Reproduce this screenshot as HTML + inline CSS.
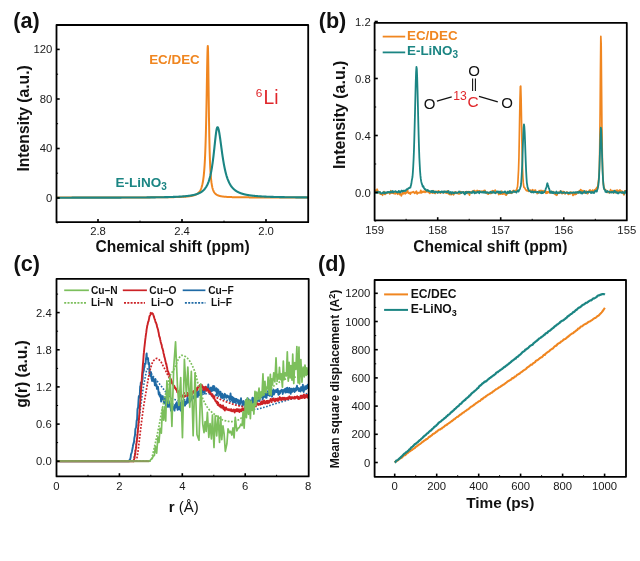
<!DOCTYPE html>
<html><head><meta charset="utf-8"><title>Figure</title>
<style>
html,body{margin:0;padding:0;background:#fff;}
body{width:640px;height:561px;overflow:hidden;}
svg{display:block;font-family:"Liberation Sans", sans-serif;will-change:transform;}
</style></head><body>
<svg width="640" height="561" viewBox="0 0 640 561">
<rect width="640" height="561" fill="#fff"/>
<defs>
<clipPath id="ca"><rect x="56.5" y="25" width="251.7" height="197.2"/></clipPath>
<clipPath id="cb"><rect x="374.6" y="22.8" width="252.19999999999993" height="197.6"/></clipPath>
<clipPath id="cc"><rect x="56.5" y="278.9" width="252.2" height="197.5"/></clipPath>
<clipPath id="cd"><rect x="374.6" y="280.0" width="251.39999999999998" height="196.8"/></clipPath>
</defs>
<g clip-path="url(#ca)">
<path d="M56.00 197.49L56.17 197.49L56.34 197.49L56.50 197.49L56.67 197.49L56.84 197.49L57.01 197.49L57.18 197.49L57.34 197.49L57.51 197.49L57.68 197.49L57.85 197.49L58.02 197.49L58.19 197.49L58.35 197.49L58.52 197.49L58.69 197.49L58.86 197.49L59.03 197.49L59.19 197.49L59.36 197.49L59.53 197.49L59.70 197.49L59.87 197.49L60.03 197.49L60.20 197.49L60.37 197.49L60.54 197.49L60.71 197.49L60.88 197.48L61.04 197.48L61.21 197.48L61.38 197.48L61.55 197.48L61.72 197.48L61.88 197.48L62.05 197.48L62.22 197.48L62.39 197.48L62.56 197.48L62.72 197.48L62.89 197.48L63.06 197.48L63.23 197.48L63.40 197.48L63.57 197.48L63.73 197.48L63.90 197.48L64.07 197.48L64.24 197.48L64.41 197.48L64.57 197.48L64.74 197.48L64.91 197.48L65.08 197.48L65.25 197.48L65.41 197.48L65.58 197.48L65.75 197.48L65.92 197.48L66.09 197.48L66.25 197.48L66.42 197.48L66.59 197.48L66.76 197.48L66.93 197.48L67.10 197.48L67.26 197.48L67.43 197.48L67.60 197.48L67.77 197.48L67.94 197.48L68.10 197.48L68.27 197.48L68.44 197.48L68.61 197.48L68.78 197.48L68.94 197.48L69.11 197.48L69.28 197.48L69.45 197.48L69.62 197.48L69.79 197.48L69.95 197.48L70.12 197.48L70.29 197.48L70.46 197.48L70.63 197.48L70.79 197.48L70.96 197.48L71.13 197.48L71.30 197.48L71.47 197.48L71.63 197.48L71.80 197.48L71.97 197.48L72.14 197.48L72.31 197.48L72.47 197.48L72.64 197.48L72.81 197.48L72.98 197.48L73.15 197.48L73.32 197.48L73.48 197.48L73.65 197.48L73.82 197.48L73.99 197.48L74.16 197.48L74.32 197.48L74.49 197.48L74.66 197.48L74.83 197.48L75.00 197.48L75.16 197.48L75.33 197.48L75.50 197.48L75.67 197.48L75.84 197.48L76.01 197.48L76.17 197.48L76.34 197.48L76.51 197.48L76.68 197.48L76.85 197.48L77.01 197.48L77.18 197.48L77.35 197.48L77.52 197.48L77.69 197.48L77.85 197.48L78.02 197.48L78.19 197.48L78.36 197.48L78.53 197.48L78.70 197.48L78.86 197.48L79.03 197.48L79.20 197.48L79.37 197.48L79.54 197.48L79.70 197.48L79.87 197.48L80.04 197.48L80.21 197.48L80.38 197.48L80.54 197.48L80.71 197.48L80.88 197.48L81.05 197.48L81.22 197.48L81.38 197.48L81.55 197.48L81.72 197.48L81.89 197.48L82.06 197.48L82.23 197.48L82.39 197.48L82.56 197.48L82.73 197.48L82.90 197.48L83.07 197.48L83.23 197.48L83.40 197.48L83.57 197.48L83.74 197.48L83.91 197.48L84.07 197.48L84.24 197.48L84.41 197.48L84.58 197.48L84.75 197.48L84.92 197.48L85.08 197.48L85.25 197.48L85.42 197.48L85.59 197.48L85.76 197.48L85.92 197.48L86.09 197.48L86.26 197.48L86.43 197.48L86.60 197.48L86.76 197.48L86.93 197.48L87.10 197.48L87.27 197.48L87.44 197.48L87.61 197.48L87.77 197.48L87.94 197.48L88.11 197.47L88.28 197.47L88.45 197.47L88.61 197.47L88.78 197.47L88.95 197.47L89.12 197.47L89.29 197.47L89.45 197.47L89.62 197.47L89.79 197.47L89.96 197.47L90.13 197.47L90.29 197.47L90.46 197.47L90.63 197.47L90.80 197.47L90.97 197.47L91.14 197.47L91.30 197.47L91.47 197.47L91.64 197.47L91.81 197.47L91.98 197.47L92.14 197.47L92.31 197.47L92.48 197.47L92.65 197.47L92.82 197.47L92.98 197.47L93.15 197.47L93.32 197.47L93.49 197.47L93.66 197.47L93.83 197.47L93.99 197.47L94.16 197.47L94.33 197.47L94.50 197.47L94.67 197.47L94.83 197.47L95.00 197.47L95.17 197.47L95.34 197.47L95.51 197.47L95.67 197.47L95.84 197.47L96.01 197.47L96.18 197.47L96.35 197.47L96.52 197.47L96.68 197.47L96.85 197.47L97.02 197.47L97.19 197.47L97.36 197.47L97.52 197.47L97.69 197.47L97.86 197.47L98.03 197.47L98.20 197.47L98.36 197.47L98.53 197.47L98.70 197.47L98.87 197.47L99.04 197.47L99.20 197.47L99.37 197.47L99.54 197.47L99.71 197.47L99.88 197.47L100.05 197.47L100.21 197.47L100.38 197.47L100.55 197.47L100.72 197.47L100.89 197.47L101.05 197.47L101.22 197.47L101.39 197.47L101.56 197.47L101.73 197.47L101.89 197.47L102.06 197.47L102.23 197.47L102.40 197.47L102.57 197.47L102.74 197.47L102.90 197.47L103.07 197.47L103.24 197.47L103.41 197.47L103.58 197.47L103.74 197.47L103.91 197.47L104.08 197.47L104.25 197.46L104.42 197.46L104.58 197.46L104.75 197.46L104.92 197.46L105.09 197.46L105.26 197.46L105.42 197.46L105.59 197.46L105.76 197.46L105.93 197.46L106.10 197.46L106.27 197.46L106.43 197.46L106.60 197.46L106.77 197.46L106.94 197.46L107.11 197.46L107.27 197.46L107.44 197.46L107.61 197.46L107.78 197.46L107.95 197.46L108.11 197.46L108.28 197.46L108.45 197.46L108.62 197.46L108.79 197.46L108.96 197.46L109.12 197.46L109.29 197.46L109.46 197.46L109.63 197.46L109.80 197.46L109.96 197.46L110.13 197.46L110.30 197.46L110.47 197.46L110.64 197.46L110.80 197.46L110.97 197.46L111.14 197.46L111.31 197.46L111.48 197.46L111.65 197.46L111.81 197.46L111.98 197.46L112.15 197.46L112.32 197.46L112.49 197.46L112.65 197.46L112.82 197.46L112.99 197.46L113.16 197.46L113.33 197.46L113.49 197.46L113.66 197.46L113.83 197.46L114.00 197.46L114.17 197.46L114.33 197.46L114.50 197.46L114.67 197.46L114.84 197.46L115.01 197.46L115.18 197.45L115.34 197.45L115.51 197.45L115.68 197.45L115.85 197.45L116.02 197.45L116.18 197.45L116.35 197.45L116.52 197.45L116.69 197.45L116.86 197.45L117.02 197.45L117.19 197.45L117.36 197.45L117.53 197.45L117.70 197.45L117.87 197.45L118.03 197.45L118.20 197.45L118.37 197.45L118.54 197.45L118.71 197.45L118.87 197.45L119.04 197.45L119.21 197.45L119.38 197.45L119.55 197.45L119.71 197.45L119.88 197.45L120.05 197.45L120.22 197.45L120.39 197.45L120.56 197.45L120.72 197.45L120.89 197.45L121.06 197.45L121.23 197.45L121.40 197.45L121.56 197.45L121.73 197.45L121.90 197.45L122.07 197.45L122.24 197.45L122.40 197.45L122.57 197.45L122.74 197.45L122.91 197.45L123.08 197.45L123.24 197.44L123.41 197.44L123.58 197.44L123.75 197.44L123.92 197.44L124.09 197.44L124.25 197.44L124.42 197.44L124.59 197.44L124.76 197.44L124.93 197.44L125.09 197.44L125.26 197.44L125.43 197.44L125.60 197.44L125.77 197.44L125.93 197.44L126.10 197.44L126.27 197.44L126.44 197.44L126.61 197.44L126.78 197.44L126.94 197.44L127.11 197.44L127.28 197.44L127.45 197.44L127.62 197.44L127.78 197.44L127.95 197.44L128.12 197.44L128.29 197.44L128.46 197.44L128.62 197.44L128.79 197.44L128.96 197.44L129.13 197.44L129.30 197.44L129.46 197.44L129.63 197.43L129.80 197.43L129.97 197.43L130.14 197.43L130.31 197.43L130.47 197.43L130.64 197.43L130.81 197.43L130.98 197.43L131.15 197.43L131.31 197.43L131.48 197.43L131.65 197.43L131.82 197.43L131.99 197.43L132.15 197.43L132.32 197.43L132.49 197.43L132.66 197.43L132.83 197.43L133.00 197.43L133.16 197.43L133.33 197.43L133.50 197.43L133.67 197.43L133.84 197.43L134.00 197.43L134.17 197.43L134.34 197.43L134.51 197.43L134.68 197.42L134.84 197.42L135.01 197.42L135.18 197.42L135.35 197.42L135.52 197.42L135.69 197.42L135.85 197.42L136.02 197.42L136.19 197.42L136.36 197.42L136.53 197.42L136.69 197.42L136.86 197.42L137.03 197.42L137.20 197.42L137.37 197.42L137.53 197.42L137.70 197.42L137.87 197.42L138.04 197.42L138.21 197.42L138.37 197.42L138.54 197.42L138.71 197.42L138.88 197.41L139.05 197.41L139.22 197.41L139.38 197.41L139.55 197.41L139.72 197.41L139.89 197.41L140.06 197.41L140.22 197.41L140.39 197.41L140.56 197.41L140.73 197.41L140.90 197.41L141.06 197.41L141.23 197.41L141.40 197.41L141.57 197.41L141.74 197.41L141.91 197.41L142.07 197.41L142.24 197.41L142.41 197.40L142.58 197.40L142.75 197.40L142.91 197.40L143.08 197.40L143.25 197.40L143.42 197.40L143.59 197.40L143.75 197.40L143.92 197.40L144.09 197.40L144.26 197.40L144.43 197.40L144.60 197.40L144.76 197.40L144.93 197.40L145.10 197.40L145.27 197.40L145.44 197.39L145.60 197.39L145.77 197.39L145.94 197.39L146.11 197.39L146.28 197.39L146.44 197.39L146.61 197.39L146.78 197.39L146.95 197.39L147.12 197.39L147.28 197.39L147.45 197.39L147.62 197.39L147.79 197.39L147.96 197.39L148.13 197.38L148.29 197.38L148.46 197.38L148.63 197.38L148.80 197.38L148.97 197.38L149.13 197.38L149.30 197.38L149.47 197.38L149.64 197.38L149.81 197.38L149.97 197.38L150.14 197.38L150.31 197.38L150.48 197.37L150.65 197.37L150.82 197.37L150.98 197.37L151.15 197.37L151.32 197.37L151.49 197.37L151.66 197.37L151.82 197.37L151.99 197.37L152.16 197.37L152.33 197.37L152.50 197.37L152.66 197.36L152.83 197.36L153.00 197.36L153.17 197.36L153.34 197.36L153.51 197.36L153.67 197.36L153.84 197.36L154.01 197.36L154.18 197.36L154.35 197.36L154.51 197.35L154.68 197.35L154.85 197.35L155.02 197.35L155.19 197.35L155.35 197.35L155.52 197.35L155.69 197.35L155.86 197.35L156.03 197.35L156.19 197.34L156.36 197.34L156.53 197.34L156.70 197.34L156.87 197.34L157.04 197.34L157.20 197.34L157.37 197.34L157.54 197.34L157.71 197.33L157.88 197.33L158.04 197.33L158.21 197.33L158.38 197.33L158.55 197.33L158.72 197.33L158.88 197.33L159.05 197.33L159.22 197.32L159.39 197.32L159.56 197.32L159.73 197.32L159.89 197.32L160.06 197.32L160.23 197.32L160.40 197.31L160.57 197.31L160.73 197.31L160.90 197.31L161.07 197.31L161.24 197.31L161.41 197.31L161.57 197.31L161.74 197.30L161.91 197.30L162.08 197.30L162.25 197.30L162.41 197.30L162.58 197.30L162.75 197.29L162.92 197.29L163.09 197.29L163.26 197.29L163.42 197.29L163.59 197.29L163.76 197.28L163.93 197.28L164.10 197.28L164.26 197.28L164.43 197.28L164.60 197.28L164.77 197.27L164.94 197.27L165.10 197.27L165.27 197.27L165.44 197.27L165.61 197.27L165.78 197.26L165.95 197.26L166.11 197.26L166.28 197.26L166.45 197.26L166.62 197.25L166.79 197.25L166.95 197.25L167.12 197.25L167.29 197.24L167.46 197.24L167.63 197.24L167.79 197.24L167.96 197.24L168.13 197.23L168.30 197.23L168.47 197.23L168.64 197.23L168.80 197.22L168.97 197.22L169.14 197.22L169.31 197.22L169.48 197.21L169.64 197.21L169.81 197.21L169.98 197.21L170.15 197.20L170.32 197.20L170.48 197.20L170.65 197.20L170.82 197.19L170.99 197.19L171.16 197.19L171.32 197.18L171.49 197.18L171.66 197.18L171.83 197.18L172.00 197.17L172.17 197.17L172.33 197.17L172.50 197.16L172.67 197.16L172.84 197.16L173.01 197.15L173.17 197.15L173.34 197.15L173.51 197.14L173.68 197.14L173.85 197.14L174.01 197.13L174.18 197.13L174.35 197.12L174.52 197.12L174.69 197.12L174.86 197.11L175.02 197.11L175.19 197.10L175.36 197.10L175.53 197.10L175.70 197.09L175.86 197.09L176.03 197.08L176.20 197.08L176.37 197.07L176.54 197.07L176.70 197.06L176.87 197.06L177.04 197.05L177.21 197.05L177.38 197.04L177.55 197.04L177.71 197.03L177.88 197.03L178.05 197.02L178.22 197.02L178.39 197.01L178.55 197.01L178.72 197.00L178.89 197.00L179.06 196.99L179.23 196.98L179.39 196.98L179.56 196.97L179.73 196.96L179.90 196.96L180.07 196.95L180.23 196.94L180.40 196.94L180.57 196.93L180.74 196.92L180.91 196.92L181.08 196.91L181.24 196.90L181.41 196.89L181.58 196.89L181.75 196.88L181.92 196.87L182.08 196.86L182.25 196.85L182.42 196.84L182.59 196.84L182.76 196.83L182.92 196.82L183.09 196.81L183.26 196.80L183.43 196.79L183.60 196.78L183.77 196.77L183.93 196.76L184.10 196.75L184.27 196.74L184.44 196.73L184.61 196.72L184.77 196.70L184.94 196.69L185.11 196.68L185.28 196.67L185.45 196.66L185.61 196.64L185.78 196.63L185.95 196.62L186.12 196.60L186.29 196.59L186.45 196.57L186.62 196.56L186.79 196.54L186.96 196.53L187.13 196.51L187.30 196.50L187.46 196.48L187.63 196.46L187.80 196.45L187.97 196.43L188.14 196.41L188.30 196.39L188.47 196.37L188.64 196.35L188.81 196.33L188.98 196.31L189.14 196.29L189.31 196.27L189.48 196.24L189.65 196.22L189.82 196.20L189.99 196.17L190.15 196.15L190.32 196.12L190.49 196.09L190.66 196.07L190.83 196.04L190.99 196.01L191.16 195.98L191.33 195.95L191.50 195.92L191.67 195.88L191.83 195.85L192.00 195.82L192.17 195.78L192.34 195.74L192.51 195.70L192.68 195.66L192.84 195.62L193.01 195.58L193.18 195.54L193.35 195.49L193.52 195.44L193.68 195.40L193.85 195.35L194.02 195.29L194.19 195.24L194.36 195.18L194.52 195.13L194.69 195.06L194.86 195.00L195.03 194.94L195.20 194.87L195.36 194.80L195.53 194.73L195.70 194.65L195.87 194.57L196.04 194.49L196.21 194.40L196.37 194.31L196.54 194.22L196.71 194.12L196.88 194.02L197.05 193.91L197.21 193.80L197.38 193.68L197.55 193.56L197.72 193.43L197.89 193.30L198.05 193.15L198.22 193.00L198.39 192.85L198.56 192.68L198.73 192.51L198.90 192.33L199.06 192.13L199.23 191.93L199.40 191.71L199.57 191.48L199.74 191.24L199.90 190.98L200.07 190.71L200.24 190.42L200.41 190.11L200.58 189.78L200.74 189.43L200.91 189.06L201.08 188.66L201.25 188.23L201.42 187.77L201.59 187.27L201.75 186.74L201.92 186.16L202.09 185.54L202.26 184.87L202.43 184.14L202.59 183.35L202.76 182.49L202.93 181.55L203.10 180.53L203.27 179.41L203.43 178.18L203.60 176.82L203.77 175.33L203.94 173.68L204.11 171.85L204.27 169.82L204.44 167.56L204.61 165.04L204.78 162.22L204.95 159.06L205.12 155.51L205.28 151.51L205.45 147.02L205.62 141.97L205.79 136.29L205.96 129.93L206.12 122.84L206.29 114.99L206.46 106.40L206.63 97.17L206.80 87.48L206.96 77.65L207.13 68.13L207.30 59.54L207.47 52.54L207.64 47.82L207.81 45.88L207.97 47.96L208.14 55.31L208.31 66.51L208.48 79.73L208.65 93.38L208.81 106.36L208.98 118.11L209.15 128.42L209.32 137.30L209.49 144.88L209.65 151.31L209.82 156.77L209.99 161.41L210.16 165.37L210.33 168.76L210.49 171.67L210.66 174.19L210.83 176.38L211.00 178.28L211.17 179.95L211.34 181.42L211.50 182.72L211.67 183.87L211.84 184.90L212.01 185.81L212.18 186.64L212.34 187.38L212.51 188.05L212.68 188.65L212.85 189.21L213.02 189.71L213.18 190.17L213.35 190.59L213.52 190.97L213.69 191.33L213.86 191.65L214.03 191.95L214.19 192.23L214.36 192.49L214.53 192.73L214.70 192.96L214.87 193.17L215.03 193.36L215.20 193.54L215.37 193.71L215.54 193.87L215.71 194.02L215.87 194.16L216.04 194.30L216.21 194.42L216.38 194.54L216.55 194.65L216.72 194.75L216.88 194.85L217.05 194.95L217.22 195.04L217.39 195.12L217.56 195.20L217.72 195.28L217.89 195.35L218.06 195.42L218.23 195.49L218.40 195.55L218.56 195.61L218.73 195.67L218.90 195.72L219.07 195.77L219.24 195.82L219.40 195.87L219.57 195.92L219.74 195.96L219.91 196.00L220.08 196.04L220.25 196.08L220.41 196.12L220.58 196.16L220.75 196.19L220.92 196.22L221.09 196.26L221.25 196.29L221.42 196.32L221.59 196.35L221.76 196.37L221.93 196.40L222.09 196.43L222.26 196.45L222.43 196.47L222.60 196.50L222.77 196.52L222.94 196.54L223.10 196.56L223.27 196.58L223.44 196.60L223.61 196.62L223.78 196.64L223.94 196.66L224.11 196.68L224.28 196.69L224.45 196.71L224.62 196.72L224.78 196.74L224.95 196.75L225.12 196.77L225.29 196.78L225.46 196.80L225.63 196.81L225.79 196.82L225.96 196.84L226.13 196.85L226.30 196.86L226.47 196.87L226.63 196.88L226.80 196.89L226.97 196.90L227.14 196.91L227.31 196.92L227.47 196.93L227.64 196.94L227.81 196.95L227.98 196.96L228.15 196.97L228.31 196.98L228.48 196.99L228.65 197.00L228.82 197.00L228.99 197.01L229.16 197.02L229.32 197.03L229.49 197.04L229.66 197.04L229.83 197.05L230.00 197.06L230.16 197.06L230.33 197.07L230.50 197.08L230.67 197.08L230.84 197.09L231.00 197.09L231.17 197.10L231.34 197.11L231.51 197.11L231.68 197.12L231.85 197.12L232.01 197.13L232.18 197.13L232.35 197.14L232.52 197.14L232.69 197.15L232.85 197.15L233.02 197.16L233.19 197.16L233.36 197.17L233.53 197.17L233.69 197.17L233.86 197.18L234.03 197.18L234.20 197.19L234.37 197.19L234.54 197.20L234.70 197.20L234.87 197.20L235.04 197.21L235.21 197.21L235.38 197.21L235.54 197.22L235.71 197.22L235.88 197.22L236.05 197.23L236.22 197.23L236.38 197.23L236.55 197.24L236.72 197.24L236.89 197.24L237.06 197.25L237.22 197.25L237.39 197.25L237.56 197.26L237.73 197.26L237.90 197.26L238.07 197.26L238.23 197.27L238.40 197.27L238.57 197.27L238.74 197.27L238.91 197.28L239.07 197.28L239.24 197.28L239.41 197.28L239.58 197.29L239.75 197.29L239.91 197.29L240.08 197.29L240.25 197.29L240.42 197.30L240.59 197.30L240.76 197.30L240.92 197.30L241.09 197.31L241.26 197.31L241.43 197.31L241.60 197.31L241.76 197.31L241.93 197.31L242.10 197.32L242.27 197.32L242.44 197.32L242.60 197.32L242.77 197.32L242.94 197.33L243.11 197.33L243.28 197.33L243.44 197.33L243.61 197.33L243.78 197.33L243.95 197.34L244.12 197.34L244.29 197.34L244.45 197.34L244.62 197.34L244.79 197.34L244.96 197.34L245.13 197.35L245.29 197.35L245.46 197.35L245.63 197.35L245.80 197.35L245.97 197.35L246.13 197.35L246.30 197.36L246.47 197.36L246.64 197.36L246.81 197.36L246.98 197.36L247.14 197.36L247.31 197.36L247.48 197.36L247.65 197.37L247.82 197.37L247.98 197.37L248.15 197.37L248.32 197.37L248.49 197.37L248.66 197.37L248.82 197.37L248.99 197.37L249.16 197.38L249.33 197.38L249.50 197.38L249.67 197.38L249.83 197.38L250.00 197.38L250.17 197.38L250.34 197.38L250.51 197.38L250.67 197.38L250.84 197.39L251.01 197.39L251.18 197.39L251.35 197.39L251.51 197.39L251.68 197.39L251.85 197.39L252.02 197.39L252.19 197.39L252.35 197.39L252.52 197.39L252.69 197.40L252.86 197.40L253.03 197.40L253.20 197.40L253.36 197.40L253.53 197.40L253.70 197.40L253.87 197.40L254.04 197.40L254.20 197.40L254.37 197.40L254.54 197.40L254.71 197.40L254.88 197.40L255.04 197.41L255.21 197.41L255.38 197.41L255.55 197.41L255.72 197.41L255.89 197.41L256.05 197.41L256.22 197.41L256.39 197.41L256.56 197.41L256.73 197.41L256.89 197.41L257.06 197.41L257.23 197.41L257.40 197.41L257.57 197.42L257.73 197.42L257.90 197.42L258.07 197.42L258.24 197.42L258.41 197.42L258.58 197.42L258.74 197.42L258.91 197.42L259.08 197.42L259.25 197.42L259.42 197.42L259.58 197.42L259.75 197.42L259.92 197.42L260.09 197.42L260.26 197.42L260.42 197.42L260.59 197.43L260.76 197.43L260.93 197.43L261.10 197.43L261.26 197.43L261.43 197.43L261.60 197.43L261.77 197.43L261.94 197.43L262.11 197.43L262.27 197.43L262.44 197.43L262.61 197.43L262.78 197.43L262.95 197.43L263.11 197.43L263.28 197.43L263.45 197.43L263.62 197.43L263.79 197.43L263.95 197.43L264.12 197.44L264.29 197.44L264.46 197.44L264.63 197.44L264.80 197.44L264.96 197.44L265.13 197.44L265.30 197.44L265.47 197.44L265.64 197.44L265.80 197.44L265.97 197.44L266.14 197.44L266.31 197.44L266.48 197.44L266.64 197.44L266.81 197.44L266.98 197.44L267.15 197.44L267.32 197.44L267.48 197.44L267.65 197.44L267.82 197.44L267.99 197.44L268.16 197.44L268.33 197.44L268.49 197.44L268.66 197.45L268.83 197.45L269.00 197.45L269.17 197.45L269.33 197.45L269.50 197.45L269.67 197.45L269.84 197.45L270.01 197.45L270.17 197.45L270.34 197.45L270.51 197.45L270.68 197.45L270.85 197.45L271.02 197.45L271.18 197.45L271.35 197.45L271.52 197.45L271.69 197.45L271.86 197.45L272.02 197.45L272.19 197.45L272.36 197.45L272.53 197.45L272.70 197.45L272.86 197.45L273.03 197.45L273.20 197.45L273.37 197.45L273.54 197.45L273.71 197.45L273.87 197.45L274.04 197.45L274.21 197.45L274.38 197.45L274.55 197.46L274.71 197.46L274.88 197.46L275.05 197.46L275.22 197.46L275.39 197.46L275.55 197.46L275.72 197.46L275.89 197.46L276.06 197.46L276.23 197.46L276.39 197.46L276.56 197.46L276.73 197.46L276.90 197.46L277.07 197.46L277.24 197.46L277.40 197.46L277.57 197.46L277.74 197.46L277.91 197.46L278.08 197.46L278.24 197.46L278.41 197.46L278.58 197.46L278.75 197.46L278.92 197.46L279.08 197.46L279.25 197.46L279.42 197.46L279.59 197.46L279.76 197.46L279.93 197.46L280.09 197.46L280.26 197.46L280.43 197.46L280.60 197.46L280.77 197.46L280.93 197.46L281.10 197.46L281.27 197.46L281.44 197.46L281.61 197.46L281.77 197.46L281.94 197.46L282.11 197.46L282.28 197.46L282.45 197.47L282.62 197.47L282.78 197.47L282.95 197.47L283.12 197.47L283.29 197.47L283.46 197.47L283.62 197.47L283.79 197.47L283.96 197.47L284.13 197.47L284.30 197.47L284.46 197.47L284.63 197.47L284.80 197.47L284.97 197.47L285.14 197.47L285.30 197.47L285.47 197.47L285.64 197.47L285.81 197.47L285.98 197.47L286.15 197.47L286.31 197.47L286.48 197.47L286.65 197.47L286.82 197.47L286.99 197.47L287.15 197.47L287.32 197.47L287.49 197.47L287.66 197.47L287.83 197.47L287.99 197.47L288.16 197.47L288.33 197.47L288.50 197.47L288.67 197.47L288.84 197.47L289.00 197.47L289.17 197.47L289.34 197.47L289.51 197.47L289.68 197.47L289.84 197.47L290.01 197.47L290.18 197.47L290.35 197.47L290.52 197.47L290.68 197.47L290.85 197.47L291.02 197.47L291.19 197.47L291.36 197.47L291.53 197.47L291.69 197.47L291.86 197.47L292.03 197.47L292.20 197.47L292.37 197.47L292.53 197.47L292.70 197.47L292.87 197.47L293.04 197.47L293.21 197.47L293.37 197.47L293.54 197.47L293.71 197.47L293.88 197.47L294.05 197.48L294.21 197.48L294.38 197.48L294.55 197.48L294.72 197.48L294.89 197.48L295.06 197.48L295.22 197.48L295.39 197.48L295.56 197.48L295.73 197.48L295.90 197.48L296.06 197.48L296.23 197.48L296.40 197.48L296.57 197.48L296.74 197.48L296.90 197.48L297.07 197.48L297.24 197.48L297.41 197.48L297.58 197.48L297.75 197.48L297.91 197.48L298.08 197.48L298.25 197.48L298.42 197.48L298.59 197.48L298.75 197.48L298.92 197.48L299.09 197.48L299.26 197.48L299.43 197.48L299.59 197.48L299.76 197.48L299.93 197.48L300.10 197.48L300.27 197.48L300.43 197.48L300.60 197.48L300.77 197.48L300.94 197.48L301.11 197.48L301.28 197.48L301.44 197.48L301.61 197.48L301.78 197.48L301.95 197.48L302.12 197.48L302.28 197.48L302.45 197.48L302.62 197.48L302.79 197.48L302.96 197.48L303.12 197.48L303.29 197.48L303.46 197.48L303.63 197.48L303.80 197.48L303.97 197.48L304.13 197.48L304.30 197.48L304.47 197.48L304.64 197.48L304.81 197.48L304.97 197.48L305.14 197.48L305.31 197.48L305.48 197.48L305.65 197.48L305.81 197.48L305.98 197.48L306.15 197.48L306.32 197.48L306.49 197.48L306.66 197.48L306.82 197.48L306.99 197.48L307.16 197.48L307.33 197.48L307.50 197.48L307.66 197.48L307.83 197.48L308.00 197.48" fill="none" stroke="#f08620" stroke-width="2" stroke-linejoin="round"/>
<path d="M56.00 197.69L56.17 197.69L56.34 197.69L56.50 197.69L56.67 197.69L56.84 197.69L57.01 197.69L57.18 197.69L57.34 197.69L57.51 197.69L57.68 197.69L57.85 197.69L58.02 197.69L58.19 197.69L58.35 197.69L58.52 197.69L58.69 197.69L58.86 197.69L59.03 197.69L59.19 197.69L59.36 197.69L59.53 197.69L59.70 197.69L59.87 197.69L60.03 197.69L60.20 197.69L60.37 197.69L60.54 197.69L60.71 197.69L60.88 197.69L61.04 197.69L61.21 197.69L61.38 197.68L61.55 197.68L61.72 197.68L61.88 197.68L62.05 197.68L62.22 197.68L62.39 197.68L62.56 197.68L62.72 197.68L62.89 197.68L63.06 197.68L63.23 197.68L63.40 197.68L63.57 197.68L63.73 197.68L63.90 197.68L64.07 197.68L64.24 197.68L64.41 197.68L64.57 197.68L64.74 197.68L64.91 197.68L65.08 197.68L65.25 197.68L65.41 197.68L65.58 197.68L65.75 197.68L65.92 197.68L66.09 197.68L66.25 197.68L66.42 197.68L66.59 197.68L66.76 197.68L66.93 197.68L67.10 197.68L67.26 197.68L67.43 197.68L67.60 197.68L67.77 197.68L67.94 197.68L68.10 197.68L68.27 197.68L68.44 197.68L68.61 197.68L68.78 197.68L68.94 197.68L69.11 197.68L69.28 197.68L69.45 197.68L69.62 197.68L69.79 197.68L69.95 197.68L70.12 197.68L70.29 197.68L70.46 197.68L70.63 197.68L70.79 197.68L70.96 197.68L71.13 197.68L71.30 197.68L71.47 197.68L71.63 197.68L71.80 197.67L71.97 197.67L72.14 197.67L72.31 197.67L72.47 197.67L72.64 197.67L72.81 197.67L72.98 197.67L73.15 197.67L73.32 197.67L73.48 197.67L73.65 197.67L73.82 197.67L73.99 197.67L74.16 197.67L74.32 197.67L74.49 197.67L74.66 197.67L74.83 197.67L75.00 197.67L75.16 197.67L75.33 197.67L75.50 197.67L75.67 197.67L75.84 197.67L76.01 197.67L76.17 197.67L76.34 197.67L76.51 197.67L76.68 197.67L76.85 197.67L77.01 197.67L77.18 197.67L77.35 197.67L77.52 197.67L77.69 197.67L77.85 197.67L78.02 197.67L78.19 197.67L78.36 197.67L78.53 197.67L78.70 197.67L78.86 197.67L79.03 197.67L79.20 197.67L79.37 197.67L79.54 197.67L79.70 197.67L79.87 197.67L80.04 197.67L80.21 197.67L80.38 197.66L80.54 197.66L80.71 197.66L80.88 197.66L81.05 197.66L81.22 197.66L81.38 197.66L81.55 197.66L81.72 197.66L81.89 197.66L82.06 197.66L82.23 197.66L82.39 197.66L82.56 197.66L82.73 197.66L82.90 197.66L83.07 197.66L83.23 197.66L83.40 197.66L83.57 197.66L83.74 197.66L83.91 197.66L84.07 197.66L84.24 197.66L84.41 197.66L84.58 197.66L84.75 197.66L84.92 197.66L85.08 197.66L85.25 197.66L85.42 197.66L85.59 197.66L85.76 197.66L85.92 197.66L86.09 197.66L86.26 197.66L86.43 197.66L86.60 197.66L86.76 197.66L86.93 197.66L87.10 197.66L87.27 197.66L87.44 197.66L87.61 197.65L87.77 197.65L87.94 197.65L88.11 197.65L88.28 197.65L88.45 197.65L88.61 197.65L88.78 197.65L88.95 197.65L89.12 197.65L89.29 197.65L89.45 197.65L89.62 197.65L89.79 197.65L89.96 197.65L90.13 197.65L90.29 197.65L90.46 197.65L90.63 197.65L90.80 197.65L90.97 197.65L91.14 197.65L91.30 197.65L91.47 197.65L91.64 197.65L91.81 197.65L91.98 197.65L92.14 197.65L92.31 197.65L92.48 197.65L92.65 197.65L92.82 197.65L92.98 197.65L93.15 197.65L93.32 197.65L93.49 197.65L93.66 197.65L93.83 197.64L93.99 197.64L94.16 197.64L94.33 197.64L94.50 197.64L94.67 197.64L94.83 197.64L95.00 197.64L95.17 197.64L95.34 197.64L95.51 197.64L95.67 197.64L95.84 197.64L96.01 197.64L96.18 197.64L96.35 197.64L96.52 197.64L96.68 197.64L96.85 197.64L97.02 197.64L97.19 197.64L97.36 197.64L97.52 197.64L97.69 197.64L97.86 197.64L98.03 197.64L98.20 197.64L98.36 197.64L98.53 197.64L98.70 197.64L98.87 197.64L99.04 197.64L99.20 197.63L99.37 197.63L99.54 197.63L99.71 197.63L99.88 197.63L100.05 197.63L100.21 197.63L100.38 197.63L100.55 197.63L100.72 197.63L100.89 197.63L101.05 197.63L101.22 197.63L101.39 197.63L101.56 197.63L101.73 197.63L101.89 197.63L102.06 197.63L102.23 197.63L102.40 197.63L102.57 197.63L102.74 197.63L102.90 197.63L103.07 197.63L103.24 197.63L103.41 197.63L103.58 197.63L103.74 197.63L103.91 197.63L104.08 197.62L104.25 197.62L104.42 197.62L104.58 197.62L104.75 197.62L104.92 197.62L105.09 197.62L105.26 197.62L105.42 197.62L105.59 197.62L105.76 197.62L105.93 197.62L106.10 197.62L106.27 197.62L106.43 197.62L106.60 197.62L106.77 197.62L106.94 197.62L107.11 197.62L107.27 197.62L107.44 197.62L107.61 197.62L107.78 197.62L107.95 197.62L108.11 197.62L108.28 197.61L108.45 197.61L108.62 197.61L108.79 197.61L108.96 197.61L109.12 197.61L109.29 197.61L109.46 197.61L109.63 197.61L109.80 197.61L109.96 197.61L110.13 197.61L110.30 197.61L110.47 197.61L110.64 197.61L110.80 197.61L110.97 197.61L111.14 197.61L111.31 197.61L111.48 197.61L111.65 197.61L111.81 197.61L111.98 197.60L112.15 197.60L112.32 197.60L112.49 197.60L112.65 197.60L112.82 197.60L112.99 197.60L113.16 197.60L113.33 197.60L113.49 197.60L113.66 197.60L113.83 197.60L114.00 197.60L114.17 197.60L114.33 197.60L114.50 197.60L114.67 197.60L114.84 197.60L115.01 197.60L115.18 197.60L115.34 197.59L115.51 197.59L115.68 197.59L115.85 197.59L116.02 197.59L116.18 197.59L116.35 197.59L116.52 197.59L116.69 197.59L116.86 197.59L117.02 197.59L117.19 197.59L117.36 197.59L117.53 197.59L117.70 197.59L117.87 197.59L118.03 197.59L118.20 197.59L118.37 197.59L118.54 197.58L118.71 197.58L118.87 197.58L119.04 197.58L119.21 197.58L119.38 197.58L119.55 197.58L119.71 197.58L119.88 197.58L120.05 197.58L120.22 197.58L120.39 197.58L120.56 197.58L120.72 197.58L120.89 197.58L121.06 197.58L121.23 197.58L121.40 197.57L121.56 197.57L121.73 197.57L121.90 197.57L122.07 197.57L122.24 197.57L122.40 197.57L122.57 197.57L122.74 197.57L122.91 197.57L123.08 197.57L123.24 197.57L123.41 197.57L123.58 197.57L123.75 197.57L123.92 197.56L124.09 197.56L124.25 197.56L124.42 197.56L124.59 197.56L124.76 197.56L124.93 197.56L125.09 197.56L125.26 197.56L125.43 197.56L125.60 197.56L125.77 197.56L125.93 197.56L126.10 197.56L126.27 197.56L126.44 197.55L126.61 197.55L126.78 197.55L126.94 197.55L127.11 197.55L127.28 197.55L127.45 197.55L127.62 197.55L127.78 197.55L127.95 197.55L128.12 197.55L128.29 197.55L128.46 197.55L128.62 197.54L128.79 197.54L128.96 197.54L129.13 197.54L129.30 197.54L129.46 197.54L129.63 197.54L129.80 197.54L129.97 197.54L130.14 197.54L130.31 197.54L130.47 197.54L130.64 197.53L130.81 197.53L130.98 197.53L131.15 197.53L131.31 197.53L131.48 197.53L131.65 197.53L131.82 197.53L131.99 197.53L132.15 197.53L132.32 197.53L132.49 197.53L132.66 197.52L132.83 197.52L133.00 197.52L133.16 197.52L133.33 197.52L133.50 197.52L133.67 197.52L133.84 197.52L134.00 197.52L134.17 197.52L134.34 197.52L134.51 197.51L134.68 197.51L134.84 197.51L135.01 197.51L135.18 197.51L135.35 197.51L135.52 197.51L135.69 197.51L135.85 197.51L136.02 197.51L136.19 197.50L136.36 197.50L136.53 197.50L136.69 197.50L136.86 197.50L137.03 197.50L137.20 197.50L137.37 197.50L137.53 197.50L137.70 197.49L137.87 197.49L138.04 197.49L138.21 197.49L138.37 197.49L138.54 197.49L138.71 197.49L138.88 197.49L139.05 197.49L139.22 197.48L139.38 197.48L139.55 197.48L139.72 197.48L139.89 197.48L140.06 197.48L140.22 197.48L140.39 197.48L140.56 197.48L140.73 197.47L140.90 197.47L141.06 197.47L141.23 197.47L141.40 197.47L141.57 197.47L141.74 197.47L141.91 197.47L142.07 197.46L142.24 197.46L142.41 197.46L142.58 197.46L142.75 197.46L142.91 197.46L143.08 197.46L143.25 197.45L143.42 197.45L143.59 197.45L143.75 197.45L143.92 197.45L144.09 197.45L144.26 197.45L144.43 197.45L144.60 197.44L144.76 197.44L144.93 197.44L145.10 197.44L145.27 197.44L145.44 197.44L145.60 197.44L145.77 197.43L145.94 197.43L146.11 197.43L146.28 197.43L146.44 197.43L146.61 197.43L146.78 197.42L146.95 197.42L147.12 197.42L147.28 197.42L147.45 197.42L147.62 197.42L147.79 197.42L147.96 197.41L148.13 197.41L148.29 197.41L148.46 197.41L148.63 197.41L148.80 197.41L148.97 197.40L149.13 197.40L149.30 197.40L149.47 197.40L149.64 197.40L149.81 197.39L149.97 197.39L150.14 197.39L150.31 197.39L150.48 197.39L150.65 197.39L150.82 197.38L150.98 197.38L151.15 197.38L151.32 197.38L151.49 197.38L151.66 197.37L151.82 197.37L151.99 197.37L152.16 197.37L152.33 197.37L152.50 197.36L152.66 197.36L152.83 197.36L153.00 197.36L153.17 197.36L153.34 197.35L153.51 197.35L153.67 197.35L153.84 197.35L154.01 197.35L154.18 197.34L154.35 197.34L154.51 197.34L154.68 197.34L154.85 197.34L155.02 197.33L155.19 197.33L155.35 197.33L155.52 197.33L155.69 197.32L155.86 197.32L156.03 197.32L156.19 197.32L156.36 197.31L156.53 197.31L156.70 197.31L156.87 197.31L157.04 197.30L157.20 197.30L157.37 197.30L157.54 197.30L157.71 197.29L157.88 197.29L158.04 197.29L158.21 197.29L158.38 197.28L158.55 197.28L158.72 197.28L158.88 197.28L159.05 197.27L159.22 197.27L159.39 197.27L159.56 197.27L159.73 197.26L159.89 197.26L160.06 197.26L160.23 197.25L160.40 197.25L160.57 197.25L160.73 197.25L160.90 197.24L161.07 197.24L161.24 197.24L161.41 197.23L161.57 197.23L161.74 197.23L161.91 197.22L162.08 197.22L162.25 197.22L162.41 197.21L162.58 197.21L162.75 197.21L162.92 197.20L163.09 197.20L163.26 197.20L163.42 197.19L163.59 197.19L163.76 197.19L163.93 197.18L164.10 197.18L164.26 197.18L164.43 197.17L164.60 197.17L164.77 197.17L164.94 197.16L165.10 197.16L165.27 197.15L165.44 197.15L165.61 197.15L165.78 197.14L165.95 197.14L166.11 197.13L166.28 197.13L166.45 197.13L166.62 197.12L166.79 197.12L166.95 197.11L167.12 197.11L167.29 197.11L167.46 197.10L167.63 197.10L167.79 197.09L167.96 197.09L168.13 197.08L168.30 197.08L168.47 197.07L168.64 197.07L168.80 197.06L168.97 197.06L169.14 197.06L169.31 197.05L169.48 197.05L169.64 197.04L169.81 197.04L169.98 197.03L170.15 197.03L170.32 197.02L170.48 197.02L170.65 197.01L170.82 197.00L170.99 197.00L171.16 196.99L171.32 196.99L171.49 196.98L171.66 196.98L171.83 196.97L172.00 196.97L172.17 196.96L172.33 196.95L172.50 196.95L172.67 196.94L172.84 196.94L173.01 196.93L173.17 196.92L173.34 196.92L173.51 196.91L173.68 196.91L173.85 196.90L174.01 196.89L174.18 196.89L174.35 196.88L174.52 196.87L174.69 196.87L174.86 196.86L175.02 196.85L175.19 196.84L175.36 196.84L175.53 196.83L175.70 196.82L175.86 196.81L176.03 196.81L176.20 196.80L176.37 196.79L176.54 196.78L176.70 196.78L176.87 196.77L177.04 196.76L177.21 196.75L177.38 196.74L177.55 196.74L177.71 196.73L177.88 196.72L178.05 196.71L178.22 196.70L178.39 196.69L178.55 196.68L178.72 196.67L178.89 196.66L179.06 196.66L179.23 196.65L179.39 196.64L179.56 196.63L179.73 196.62L179.90 196.61L180.07 196.60L180.23 196.59L180.40 196.58L180.57 196.56L180.74 196.55L180.91 196.54L181.08 196.53L181.24 196.52L181.41 196.51L181.58 196.50L181.75 196.49L181.92 196.48L182.08 196.46L182.25 196.45L182.42 196.44L182.59 196.43L182.76 196.41L182.92 196.40L183.09 196.39L183.26 196.37L183.43 196.36L183.60 196.35L183.77 196.33L183.93 196.32L184.10 196.31L184.27 196.29L184.44 196.28L184.61 196.26L184.77 196.25L184.94 196.23L185.11 196.22L185.28 196.20L185.45 196.18L185.61 196.17L185.78 196.15L185.95 196.14L186.12 196.12L186.29 196.10L186.45 196.08L186.62 196.07L186.79 196.05L186.96 196.03L187.13 196.01L187.30 195.99L187.46 195.97L187.63 195.95L187.80 195.93L187.97 195.91L188.14 195.89L188.30 195.87L188.47 195.85L188.64 195.83L188.81 195.81L188.98 195.78L189.14 195.76L189.31 195.74L189.48 195.71L189.65 195.69L189.82 195.67L189.99 195.64L190.15 195.62L190.32 195.59L190.49 195.56L190.66 195.54L190.83 195.51L190.99 195.48L191.16 195.45L191.33 195.43L191.50 195.40L191.67 195.37L191.83 195.34L192.00 195.31L192.17 195.27L192.34 195.24L192.51 195.21L192.68 195.18L192.84 195.14L193.01 195.11L193.18 195.07L193.35 195.04L193.52 195.00L193.68 194.96L193.85 194.92L194.02 194.89L194.19 194.85L194.36 194.80L194.52 194.76L194.69 194.72L194.86 194.68L195.03 194.63L195.20 194.59L195.36 194.54L195.53 194.50L195.70 194.45L195.87 194.40L196.04 194.35L196.21 194.30L196.37 194.24L196.54 194.19L196.71 194.14L196.88 194.08L197.05 194.02L197.21 193.96L197.38 193.90L197.55 193.84L197.72 193.78L197.89 193.71L198.05 193.65L198.22 193.58L198.39 193.51L198.56 193.44L198.73 193.37L198.90 193.29L199.06 193.22L199.23 193.14L199.40 193.06L199.57 192.97L199.74 192.89L199.90 192.80L200.07 192.71L200.24 192.62L200.41 192.53L200.58 192.43L200.74 192.33L200.91 192.23L201.08 192.13L201.25 192.02L201.42 191.91L201.59 191.79L201.75 191.68L201.92 191.56L202.09 191.43L202.26 191.31L202.43 191.17L202.59 191.04L202.76 190.90L202.93 190.76L203.10 190.61L203.27 190.46L203.43 190.30L203.60 190.14L203.77 189.97L203.94 189.80L204.11 189.62L204.27 189.44L204.44 189.25L204.61 189.05L204.78 188.85L204.95 188.64L205.12 188.42L205.28 188.20L205.45 187.97L205.62 187.73L205.79 187.48L205.96 187.22L206.12 186.96L206.29 186.68L206.46 186.40L206.63 186.10L206.80 185.80L206.96 185.48L207.13 185.15L207.30 184.81L207.47 184.45L207.64 184.08L207.81 183.70L207.97 183.30L208.14 182.88L208.31 182.45L208.48 182.01L208.65 181.54L208.81 181.06L208.98 180.55L209.15 180.03L209.32 179.48L209.49 178.91L209.65 178.32L209.82 177.71L209.99 177.06L210.16 176.39L210.33 175.70L210.49 174.97L210.66 174.21L210.83 173.42L211.00 172.60L211.17 171.75L211.34 170.86L211.50 169.93L211.67 168.96L211.84 167.96L212.01 166.91L212.18 165.83L212.34 164.70L212.51 163.53L212.68 162.32L212.85 161.07L213.02 159.77L213.18 158.43L213.35 157.05L213.52 155.63L213.69 154.17L213.86 152.68L214.03 151.16L214.19 149.61L214.36 148.04L214.53 146.46L214.70 144.86L214.87 143.27L215.03 141.68L215.20 140.12L215.37 138.58L215.54 137.09L215.71 135.65L215.87 134.29L216.04 133.00L216.21 131.81L216.38 130.73L216.55 129.78L216.72 128.96L216.88 128.28L217.05 127.76L217.22 127.41L217.39 127.22L217.56 127.19L217.72 127.29L217.89 127.49L218.06 127.80L218.23 128.21L218.40 128.72L218.56 129.32L218.73 130.01L218.90 130.78L219.07 131.63L219.24 132.55L219.40 133.54L219.57 134.58L219.74 135.67L219.91 136.80L220.08 137.98L220.25 139.18L220.41 140.40L220.58 141.65L220.75 142.90L220.92 144.16L221.09 145.43L221.25 146.69L221.42 147.95L221.59 149.20L221.76 150.43L221.93 151.65L222.09 152.85L222.26 154.04L222.43 155.20L222.60 156.34L222.77 157.45L222.94 158.54L223.10 159.60L223.27 160.64L223.44 161.65L223.61 162.63L223.78 163.59L223.94 164.52L224.11 165.42L224.28 166.29L224.45 167.14L224.62 167.97L224.78 168.77L224.95 169.54L225.12 170.29L225.29 171.02L225.46 171.73L225.63 172.41L225.79 173.07L225.96 173.71L226.13 174.33L226.30 174.93L226.47 175.51L226.63 176.07L226.80 176.61L226.97 177.14L227.14 177.65L227.31 178.14L227.47 178.62L227.64 179.08L227.81 179.53L227.98 179.96L228.15 180.38L228.31 180.79L228.48 181.18L228.65 181.56L228.82 181.93L228.99 182.29L229.16 182.64L229.32 182.98L229.49 183.30L229.66 183.62L229.83 183.93L230.00 184.23L230.16 184.52L230.33 184.80L230.50 185.07L230.67 185.33L230.84 185.59L231.00 185.84L231.17 186.08L231.34 186.32L231.51 186.55L231.68 186.77L231.85 186.99L232.01 187.20L232.18 187.40L232.35 187.60L232.52 187.80L232.69 187.99L232.85 188.17L233.02 188.35L233.19 188.52L233.36 188.69L233.53 188.86L233.69 189.02L233.86 189.18L234.03 189.33L234.20 189.48L234.37 189.62L234.54 189.76L234.70 189.90L234.87 190.04L235.04 190.17L235.21 190.30L235.38 190.42L235.54 190.54L235.71 190.66L235.88 190.78L236.05 190.89L236.22 191.00L236.38 191.11L236.55 191.22L236.72 191.32L236.89 191.42L237.06 191.52L237.22 191.62L237.39 191.71L237.56 191.80L237.73 191.89L237.90 191.98L238.07 192.07L238.23 192.15L238.40 192.24L238.57 192.32L238.74 192.40L238.91 192.47L239.07 192.55L239.24 192.62L239.41 192.70L239.58 192.77L239.75 192.84L239.91 192.91L240.08 192.97L240.25 193.04L240.42 193.10L240.59 193.17L240.76 193.23L240.92 193.29L241.09 193.35L241.26 193.41L241.43 193.46L241.60 193.52L241.76 193.57L241.93 193.63L242.10 193.68L242.27 193.73L242.44 193.78L242.60 193.83L242.77 193.88L242.94 193.93L243.11 193.98L243.28 194.02L243.44 194.07L243.61 194.11L243.78 194.16L243.95 194.20L244.12 194.24L244.29 194.29L244.45 194.33L244.62 194.37L244.79 194.41L244.96 194.45L245.13 194.48L245.29 194.52L245.46 194.56L245.63 194.60L245.80 194.63L245.97 194.67L246.13 194.70L246.30 194.73L246.47 194.77L246.64 194.80L246.81 194.83L246.98 194.87L247.14 194.90L247.31 194.93L247.48 194.96L247.65 194.99L247.82 195.02L247.98 195.05L248.15 195.07L248.32 195.10L248.49 195.13L248.66 195.16L248.82 195.18L248.99 195.21L249.16 195.24L249.33 195.26L249.50 195.29L249.67 195.31L249.83 195.34L250.00 195.36L250.17 195.38L250.34 195.41L250.51 195.43L250.67 195.45L250.84 195.48L251.01 195.50L251.18 195.52L251.35 195.54L251.51 195.56L251.68 195.58L251.85 195.60L252.02 195.62L252.19 195.64L252.35 195.66L252.52 195.68L252.69 195.70L252.86 195.72L253.03 195.74L253.20 195.76L253.36 195.78L253.53 195.79L253.70 195.81L253.87 195.83L254.04 195.85L254.20 195.86L254.37 195.88L254.54 195.90L254.71 195.91L254.88 195.93L255.04 195.94L255.21 195.96L255.38 195.98L255.55 195.99L255.72 196.01L255.89 196.02L256.05 196.04L256.22 196.05L256.39 196.06L256.56 196.08L256.73 196.09L256.89 196.11L257.06 196.12L257.23 196.13L257.40 196.15L257.57 196.16L257.73 196.17L257.90 196.19L258.07 196.20L258.24 196.21L258.41 196.22L258.58 196.24L258.74 196.25L258.91 196.26L259.08 196.27L259.25 196.28L259.42 196.29L259.58 196.31L259.75 196.32L259.92 196.33L260.09 196.34L260.26 196.35L260.42 196.36L260.59 196.37L260.76 196.38L260.93 196.39L261.10 196.40L261.26 196.41L261.43 196.42L261.60 196.43L261.77 196.44L261.94 196.45L262.11 196.46L262.27 196.47L262.44 196.48L262.61 196.49L262.78 196.50L262.95 196.51L263.11 196.52L263.28 196.53L263.45 196.53L263.62 196.54L263.79 196.55L263.95 196.56L264.12 196.57L264.29 196.58L264.46 196.59L264.63 196.59L264.80 196.60L264.96 196.61L265.13 196.62L265.30 196.63L265.47 196.63L265.64 196.64L265.80 196.65L265.97 196.66L266.14 196.66L266.31 196.67L266.48 196.68L266.64 196.69L266.81 196.69L266.98 196.70L267.15 196.71L267.32 196.71L267.48 196.72L267.65 196.73L267.82 196.73L267.99 196.74L268.16 196.75L268.33 196.75L268.49 196.76L268.66 196.77L268.83 196.77L269.00 196.78L269.17 196.79L269.33 196.79L269.50 196.80L269.67 196.80L269.84 196.81L270.01 196.82L270.17 196.82L270.34 196.83L270.51 196.83L270.68 196.84L270.85 196.84L271.02 196.85L271.18 196.86L271.35 196.86L271.52 196.87L271.69 196.87L271.86 196.88L272.02 196.88L272.19 196.89L272.36 196.89L272.53 196.90L272.70 196.90L272.86 196.91L273.03 196.91L273.20 196.92L273.37 196.92L273.54 196.93L273.71 196.93L273.87 196.94L274.04 196.94L274.21 196.95L274.38 196.95L274.55 196.96L274.71 196.96L274.88 196.97L275.05 196.97L275.22 196.98L275.39 196.98L275.55 196.98L275.72 196.99L275.89 196.99L276.06 197.00L276.23 197.00L276.39 197.01L276.56 197.01L276.73 197.01L276.90 197.02L277.07 197.02L277.24 197.03L277.40 197.03L277.57 197.03L277.74 197.04L277.91 197.04L278.08 197.05L278.24 197.05L278.41 197.05L278.58 197.06L278.75 197.06L278.92 197.07L279.08 197.07L279.25 197.07L279.42 197.08L279.59 197.08L279.76 197.08L279.93 197.09L280.09 197.09L280.26 197.09L280.43 197.10L280.60 197.10L280.77 197.10L280.93 197.11L281.10 197.11L281.27 197.11L281.44 197.12L281.61 197.12L281.77 197.12L281.94 197.13L282.11 197.13L282.28 197.13L282.45 197.14L282.62 197.14L282.78 197.14L282.95 197.15L283.12 197.15L283.29 197.15L283.46 197.16L283.62 197.16L283.79 197.16L283.96 197.16L284.13 197.17L284.30 197.17L284.46 197.17L284.63 197.18L284.80 197.18L284.97 197.18L285.14 197.19L285.30 197.19L285.47 197.19L285.64 197.19L285.81 197.20L285.98 197.20L286.15 197.20L286.31 197.20L286.48 197.21L286.65 197.21L286.82 197.21L286.99 197.21L287.15 197.22L287.32 197.22L287.49 197.22L287.66 197.22L287.83 197.23L287.99 197.23L288.16 197.23L288.33 197.23L288.50 197.24L288.67 197.24L288.84 197.24L289.00 197.24L289.17 197.25L289.34 197.25L289.51 197.25L289.68 197.25L289.84 197.26L290.01 197.26L290.18 197.26L290.35 197.26L290.52 197.27L290.68 197.27L290.85 197.27L291.02 197.27L291.19 197.27L291.36 197.28L291.53 197.28L291.69 197.28L291.86 197.28L292.03 197.28L292.20 197.29L292.37 197.29L292.53 197.29L292.70 197.29L292.87 197.29L293.04 197.30L293.21 197.30L293.37 197.30L293.54 197.30L293.71 197.30L293.88 197.31L294.05 197.31L294.21 197.31L294.38 197.31L294.55 197.31L294.72 197.32L294.89 197.32L295.06 197.32L295.22 197.32L295.39 197.32L295.56 197.33L295.73 197.33L295.90 197.33L296.06 197.33L296.23 197.33L296.40 197.33L296.57 197.34L296.74 197.34L296.90 197.34L297.07 197.34L297.24 197.34L297.41 197.35L297.58 197.35L297.75 197.35L297.91 197.35L298.08 197.35L298.25 197.35L298.42 197.36L298.59 197.36L298.75 197.36L298.92 197.36L299.09 197.36L299.26 197.36L299.43 197.36L299.59 197.37L299.76 197.37L299.93 197.37L300.10 197.37L300.27 197.37L300.43 197.37L300.60 197.38L300.77 197.38L300.94 197.38L301.11 197.38L301.28 197.38L301.44 197.38L301.61 197.38L301.78 197.39L301.95 197.39L302.12 197.39L302.28 197.39L302.45 197.39L302.62 197.39L302.79 197.39L302.96 197.40L303.12 197.40L303.29 197.40L303.46 197.40L303.63 197.40L303.80 197.40L303.97 197.40L304.13 197.41L304.30 197.41L304.47 197.41L304.64 197.41L304.81 197.41L304.97 197.41L305.14 197.41L305.31 197.41L305.48 197.42L305.65 197.42L305.81 197.42L305.98 197.42L306.15 197.42L306.32 197.42L306.49 197.42L306.66 197.42L306.82 197.43L306.99 197.43L307.16 197.43L307.33 197.43L307.50 197.43L307.66 197.43L307.83 197.43L308.00 197.43" fill="none" stroke="#1b8583" stroke-width="2.1" stroke-linejoin="round"/>
</g>
<rect x="56.5" y="25" width="251.7" height="197.2" fill="none" stroke="#000" stroke-width="1.8" stroke-linejoin="round"/>
<line x1="56.5" y1="198.0" x2="59.7" y2="198.0" stroke="#000" stroke-width="1.6"/>
<line x1="56.5" y1="148.5" x2="59.7" y2="148.5" stroke="#000" stroke-width="1.6"/>
<line x1="56.5" y1="99.0" x2="59.7" y2="99.0" stroke="#000" stroke-width="1.6"/>
<line x1="56.5" y1="49.4" x2="59.7" y2="49.4" stroke="#000" stroke-width="1.6"/>
<line x1="56.5" y1="222.8" x2="58.1" y2="222.8" stroke="#000" stroke-width="1.0"/>
<line x1="56.5" y1="173.2" x2="58.1" y2="173.2" stroke="#000" stroke-width="1.0"/>
<line x1="56.5" y1="123.7" x2="58.1" y2="123.7" stroke="#000" stroke-width="1.0"/>
<line x1="56.5" y1="74.2" x2="58.1" y2="74.2" stroke="#000" stroke-width="1.0"/>
<line x1="98.0" y1="222.2" x2="98.0" y2="219.0" stroke="#000" stroke-width="1.6"/>
<line x1="182.0" y1="222.2" x2="182.0" y2="219.0" stroke="#000" stroke-width="1.6"/>
<line x1="266.0" y1="222.2" x2="266.0" y2="219.0" stroke="#000" stroke-width="1.6"/>
<line x1="140.0" y1="222.2" x2="140.0" y2="220.6" stroke="#000" stroke-width="1.0"/>
<line x1="224.0" y1="222.2" x2="224.0" y2="220.6" stroke="#000" stroke-width="1.0"/>
<text x="52.4" y="202.0" font-size="11.3" text-anchor="end" font-weight="normal" fill="#1a1a1a" >0</text>
<text x="52.4" y="152.48000000000002" font-size="11.3" text-anchor="end" font-weight="normal" fill="#1a1a1a" >40</text>
<text x="52.4" y="102.96000000000001" font-size="11.3" text-anchor="end" font-weight="normal" fill="#1a1a1a" >80</text>
<text x="52.4" y="53.44" font-size="11.3" text-anchor="end" font-weight="normal" fill="#1a1a1a" >120</text>
<text x="98.0" y="235.3" font-size="11.3" text-anchor="middle" font-weight="normal" fill="#1a1a1a" >2.8</text>
<text x="182.0" y="235.3" font-size="11.3" text-anchor="middle" font-weight="normal" fill="#1a1a1a" >2.4</text>
<text x="266.0" y="235.3" font-size="11.3" text-anchor="middle" font-weight="normal" fill="#1a1a1a" >2.0</text>
<text x="172.5" y="252.2" font-size="15.6" text-anchor="middle" font-weight="bold" fill="#111" >Chemical shift (ppm)</text>
<text transform="translate(29.4,118.4) rotate(-90)" font-size="15.7" text-anchor="middle" font-weight="bold" fill="#111">Intensity (a.u.)</text>
<text x="13.3" y="28.1" font-size="21.6" text-anchor="start" font-weight="bold" fill="#111" >(a)</text>
<text x="149.2" y="63.6" font-size="13.4" text-anchor="start" font-weight="bold" fill="#f08620" >EC/DEC</text>
<text x="115.4" y="187.2" font-size="13.5" text-anchor="start" font-weight="bold" fill="#1b8583" >E-LiNO<tspan font-size="10" dy="3">3</tspan></text>
<text x="255.8" y="96.7" font-size="11.8" text-anchor="start" font-weight="normal" fill="#e0262a" >6</text>
<text x="263.6" y="103.8" font-size="19.3" text-anchor="start" font-weight="normal" fill="#e0262a" >Li</text>
<g clip-path="url(#cb)">
<path d="M374.60 191.42L374.96 191.56L375.32 190.68L375.68 190.15L376.04 190.45L376.40 191.04L376.76 190.37L377.13 189.19L377.49 190.09L377.85 190.82L378.21 192.49L378.57 192.72L378.93 191.90L379.29 192.26L379.65 192.00L380.01 192.68L380.37 194.25L380.73 194.05L381.09 193.68L381.46 194.21L381.82 194.23L382.18 194.29L382.54 195.27L382.90 194.35L383.26 192.81L383.62 192.77L383.98 191.64L384.34 192.11L384.70 194.09L385.06 194.44L385.42 193.93L385.78 193.54L386.15 192.67L386.51 193.40L386.87 193.17L387.23 192.83L387.59 192.83L387.95 192.05L388.31 192.44L388.67 192.48L389.03 192.70L389.39 193.12L389.75 193.89L390.11 193.68L390.48 191.78L390.84 190.74L391.20 191.14L391.56 191.94L391.92 193.14L392.28 192.75L392.64 192.41L393.00 193.27L393.36 193.38L393.72 193.26L394.08 193.31L394.44 193.38L394.80 193.72L395.17 193.86L395.53 191.95L395.89 191.79L396.25 193.27L396.61 192.99L396.97 192.54L397.33 193.59L397.69 194.24L398.05 193.22L398.41 193.09L398.77 193.69L399.13 193.10L399.50 193.68L399.86 194.62L400.22 194.60L400.58 193.84L400.94 194.65L401.30 195.84L401.66 194.95L402.02 194.06L402.38 193.26L402.74 192.65L403.10 193.67L403.46 193.80L403.82 192.82L404.19 193.37L404.55 192.65L404.91 192.57L405.27 193.86L405.63 193.37L405.99 192.90L406.35 192.96L406.71 191.84L407.07 191.27L407.43 190.60L407.79 190.95L408.15 192.81L408.52 193.24L408.88 193.01L409.24 193.41L409.60 192.77L409.96 192.57L410.32 194.05L410.68 193.38L411.04 192.39L411.40 192.63L411.76 192.52L412.12 192.36L412.48 192.36L412.84 191.97L413.21 191.68L413.57 192.08L413.93 192.00L414.29 192.97L414.65 193.23L415.01 192.48L415.37 192.22L415.73 192.82L416.09 191.99L416.45 191.17L416.81 192.82L417.17 193.89L417.54 193.42L417.90 192.55L418.26 192.86L418.62 192.81L418.98 192.81L419.34 192.57L419.70 192.61L420.06 192.92L420.42 191.89L420.78 190.31L421.14 191.31L421.50 192.89L421.86 192.62L422.23 191.72L422.59 191.69L422.95 192.20L423.31 191.36L423.67 191.45L424.03 191.81L424.39 191.38L424.75 191.92L425.11 192.41L425.47 191.42L425.83 190.53L426.19 190.47L426.56 191.67L426.92 191.97L427.28 190.68L427.64 190.30L428.00 191.02L428.36 192.07L428.72 191.89L429.08 191.94L429.44 193.16L429.80 193.47L430.16 192.13L430.52 191.67L430.88 191.92L431.25 192.36L431.61 192.51L431.97 192.56L432.33 193.15L432.69 191.32L433.05 190.72L433.41 192.34L433.77 192.75L434.13 192.20L434.49 191.39L434.85 191.81L435.21 193.46L435.58 193.33L435.94 192.34L436.30 192.15L436.66 191.45L437.02 191.40L437.38 191.76L437.74 192.64L438.10 192.68L438.46 190.92L438.82 191.03L439.18 192.11L439.54 192.48L439.91 191.59L440.27 192.18L440.63 193.20L440.99 192.33L441.35 191.75L441.71 192.16L442.07 192.30L442.43 192.11L442.79 192.12L443.15 191.95L443.51 192.62L443.87 192.53L444.23 191.39L444.60 191.97L444.96 192.69L445.32 191.88L445.68 192.51L446.04 192.97L446.40 193.18L446.76 192.87L447.12 191.19L447.48 190.93L447.84 192.61L448.20 193.57L448.56 193.57L448.93 194.11L449.29 193.43L449.65 194.33L450.01 194.66L450.37 193.94L450.73 193.70L451.09 193.49L451.45 194.57L451.81 194.38L452.17 193.42L452.53 193.38L452.89 193.35L453.25 193.49L453.62 194.82L453.98 193.86L454.34 192.12L454.70 192.44L455.06 192.73L455.42 192.17L455.78 192.45L456.14 193.44L456.50 193.31L456.86 192.26L457.22 192.99L457.58 193.03L457.95 192.65L458.31 193.99L458.67 192.93L459.03 192.36L459.39 193.80L459.75 193.91L460.11 192.58L460.47 191.63L460.83 192.31L461.19 192.67L461.55 191.92L461.91 192.42L462.27 192.54L462.64 192.11L463.00 192.57L463.36 192.80L463.72 192.46L464.08 192.19L464.44 192.61L464.80 192.96L465.16 192.11L465.52 191.88L465.88 192.16L466.24 191.75L466.60 192.08L466.97 191.62L467.33 192.55L467.69 193.49L468.05 193.28L468.41 192.72L468.77 191.57L469.13 193.70L469.49 195.13L469.85 193.51L470.21 192.35L470.57 192.11L470.93 192.38L471.29 192.30L471.66 191.63L472.02 191.69L472.38 191.23L472.74 192.24L473.10 192.27L473.46 191.39L473.82 191.07L474.18 190.51L474.54 191.50L474.90 191.13L475.26 191.15L475.62 191.93L475.99 192.37L476.35 191.95L476.71 190.88L477.07 190.38L477.43 190.86L477.79 190.94L478.15 190.94L478.51 191.66L478.87 191.40L479.23 190.77L479.59 191.31L479.95 192.04L480.31 191.92L480.68 191.70L481.04 192.08L481.40 191.50L481.76 191.18L482.12 191.47L482.48 191.70L482.84 191.77L483.20 191.10L483.56 191.60L483.92 190.75L484.28 190.39L484.64 190.65L485.01 190.44L485.37 191.97L485.73 192.87L486.09 192.38L486.45 192.25L486.81 192.57L487.17 192.85L487.53 193.95L487.89 193.93L488.25 194.14L488.61 193.74L488.97 192.80L489.33 193.29L489.70 192.85L490.06 192.11L490.42 192.61L490.78 193.57L491.14 193.17L491.50 193.16L491.86 192.94L492.22 190.74L492.58 190.69L492.94 191.17L493.30 191.34L493.66 191.57L494.03 191.04L494.39 191.35L494.75 190.99L495.11 190.14L495.47 190.55L495.83 191.69L496.19 192.58L496.55 192.54L496.91 192.33L497.27 192.38L497.63 192.44L497.99 192.07L498.35 193.29L498.72 194.53L499.08 192.95L499.44 193.01L499.80 193.96L500.16 193.89L500.52 194.19L500.88 193.92L501.24 191.69L501.60 191.06L501.96 193.05L502.32 194.17L502.68 193.76L503.05 192.69L503.41 192.95L503.77 193.95L504.13 193.03L504.49 192.21L504.85 192.99L505.21 194.19L505.57 194.92L505.93 194.72L506.29 195.14L506.65 194.31L507.01 193.37L507.37 193.47L507.74 191.96L508.10 191.44L508.46 193.02L508.82 193.01L509.18 191.50L509.54 192.21L509.90 193.20L510.26 192.62L510.62 192.78L510.98 191.68L511.34 191.96L511.70 193.28L512.07 191.94L512.43 191.35L512.79 191.04L513.15 190.72L513.51 190.92L513.87 190.43L514.23 191.53L514.59 192.17L514.95 191.32L515.31 191.17L515.67 190.50L516.03 190.85L516.39 190.96L516.76 189.38L517.12 187.83L517.48 186.97L517.84 183.03L518.20 176.17L518.56 169.72L518.92 158.15L519.28 138.68L519.64 118.03L520.00 99.36L520.36 86.46L520.72 86.06L521.09 98.24L521.45 117.59L521.81 137.29L522.17 154.55L522.53 168.18L522.89 177.31L523.25 182.42L523.61 185.37L523.97 187.28L524.33 187.31L524.69 187.76L525.05 188.64L525.41 189.08L525.78 189.68L526.14 190.22L526.50 190.63L526.86 190.27L527.22 190.80L527.58 190.52L527.94 189.89L528.30 191.06L528.66 191.32L529.02 191.22L529.38 190.79L529.74 190.75L530.11 190.14L530.47 190.14L530.83 192.07L531.19 192.06L531.55 191.96L531.91 191.65L532.27 190.02L532.63 189.77L532.99 191.31L533.35 192.31L533.71 190.75L534.07 190.35L534.43 191.59L534.80 191.38L535.16 190.17L535.52 190.21L535.88 191.66L536.24 192.30L536.60 192.09L536.96 192.65L537.32 193.58L537.68 193.14L538.04 192.97L538.40 192.90L538.76 192.14L539.13 190.60L539.49 190.95L539.85 192.17L540.21 191.60L540.57 191.11L540.93 190.28L541.29 190.69L541.65 191.67L542.01 192.28L542.37 192.32L542.73 191.09L543.09 190.58L543.45 191.53L543.82 191.85L544.18 191.36L544.54 190.97L544.90 191.43L545.26 191.97L545.62 192.76L545.98 193.35L546.34 191.46L546.70 192.09L547.06 193.24L547.42 191.87L547.78 191.89L548.15 192.46L548.51 192.26L548.87 191.79L549.23 191.79L549.59 192.86L549.95 192.91L550.31 192.37L550.67 192.67L551.03 192.14L551.39 191.58L551.75 191.35L552.11 192.16L552.47 192.33L552.84 191.58L553.20 191.66L553.56 191.74L553.92 192.66L554.28 193.72L554.64 193.32L555.00 194.11L555.36 194.54L555.72 194.10L556.08 194.43L556.44 195.08L556.80 195.29L557.17 194.19L557.53 193.02L557.89 192.27L558.25 192.63L558.61 193.11L558.97 193.33L559.33 192.81L559.69 192.31L560.05 192.04L560.41 190.79L560.77 191.08L561.13 192.89L561.49 193.36L561.86 193.38L562.22 193.64L562.58 192.17L562.94 191.49L563.30 193.25L563.66 193.16L564.02 191.74L564.38 192.48L564.74 193.73L565.10 193.85L565.46 193.42L565.82 192.94L566.19 192.49L566.55 192.20L566.91 192.21L567.27 192.11L567.63 192.38L567.99 193.98L568.35 194.38L568.71 193.28L569.07 193.37L569.43 192.99L569.79 192.95L570.15 193.99L570.52 192.97L570.88 192.09L571.24 192.83L571.60 192.74L571.96 192.33L572.32 192.73L572.68 194.82L573.04 195.46L573.40 194.38L573.76 194.59L574.12 194.23L574.48 192.97L574.84 193.30L575.21 194.54L575.57 192.99L575.93 192.44L576.29 194.12L576.65 193.51L577.01 192.34L577.37 192.63L577.73 192.18L578.09 191.82L578.45 192.57L578.81 191.99L579.17 190.85L579.54 191.17L579.90 191.32L580.26 190.96L580.62 189.52L580.98 189.90L581.34 190.79L581.70 190.52L582.06 191.51L582.42 191.22L582.78 190.80L583.14 190.66L583.50 191.15L583.86 192.37L584.23 192.99L584.59 192.47L584.95 191.91L585.31 191.45L585.67 191.55L586.03 191.72L586.39 191.04L586.75 191.47L587.11 193.07L587.47 193.71L587.83 193.55L588.19 191.83L588.56 191.36L588.92 191.43L589.28 190.50L589.64 190.12L590.00 189.79L590.36 190.76L590.72 191.40L591.08 191.25L591.44 191.01L591.80 191.34L592.16 191.44L592.52 190.19L592.88 191.09L593.25 191.80L593.61 191.25L593.97 191.16L594.33 189.99L594.69 189.91L595.05 189.68L595.41 190.23L595.77 189.65L596.13 188.62L596.49 188.35L596.85 187.25L597.21 188.30L597.58 187.86L597.94 185.00L598.30 181.98L598.66 179.35L599.02 175.47L599.38 167.07L599.74 147.59L600.10 113.15L600.46 70.03L600.82 36.33L601.18 44.70L601.54 85.60L601.90 125.17L602.27 153.93L602.63 170.53L602.99 178.45L603.35 183.74L603.71 185.65L604.07 187.38L604.43 189.40L604.79 189.37L605.15 189.35L605.51 189.70L605.87 190.28L606.23 191.15L606.60 192.23L606.96 191.82L607.32 191.50L607.68 192.27L608.04 192.55L608.40 192.05L608.76 192.35L609.12 192.82L609.48 192.68L609.84 191.81L610.20 190.67L610.56 189.67L610.92 190.80L611.29 192.40L611.65 191.09L612.01 190.89L612.37 191.65L612.73 190.60L613.09 190.64L613.45 192.29L613.81 192.85L614.17 191.97L614.53 190.99L614.89 191.90L615.25 192.55L615.62 191.38L615.98 190.39L616.34 190.96L616.70 190.85L617.06 190.09L617.42 191.41L617.78 191.88L618.14 190.64L618.50 190.83L618.86 192.36L619.22 192.31L619.58 190.80L619.94 189.91L620.31 191.78L620.67 191.40L621.03 191.02L621.39 192.18L621.75 191.05L622.11 191.23L622.47 192.01L622.83 193.38L623.19 193.21L623.55 193.02L623.91 194.84L624.27 192.80L624.64 190.90L625.00 191.38L625.36 192.18L625.72 192.24L626.08 190.65L626.44 190.43L626.80 191.18" fill="none" stroke="#f08620" stroke-width="1.7" stroke-linejoin="round"/>
<path d="M374.60 192.35L374.96 192.23L375.32 192.33L375.68 192.79L376.04 192.86L376.40 192.90L376.76 192.69L377.13 191.78L377.49 191.99L377.85 192.76L378.21 192.37L378.57 191.98L378.93 192.13L379.29 192.63L379.65 192.68L380.01 192.04L380.37 192.55L380.73 193.00L381.09 193.21L381.46 193.53L381.82 193.50L382.18 193.09L382.54 192.86L382.90 192.65L383.26 192.09L383.62 192.26L383.98 193.31L384.34 193.44L384.70 192.47L385.06 192.20L385.42 192.78L385.78 193.00L386.15 192.78L386.51 192.90L386.87 192.10L387.23 192.09L387.59 192.51L387.95 191.84L388.31 192.05L388.67 192.43L389.03 192.15L389.39 192.07L389.75 192.58L390.11 192.57L390.48 191.55L390.84 192.17L391.20 192.35L391.56 191.69L391.92 192.27L392.28 191.52L392.64 190.95L393.00 192.19L393.36 192.45L393.72 191.73L394.08 191.82L394.44 191.76L394.80 191.70L395.17 191.68L395.53 191.07L395.89 191.58L396.25 192.04L396.61 191.94L396.97 191.94L397.33 192.20L397.69 192.45L398.05 192.03L398.41 191.42L398.77 190.86L399.13 191.70L399.50 192.42L399.86 191.61L400.22 192.04L400.58 192.43L400.94 191.64L401.30 190.92L401.66 190.55L402.02 191.12L402.38 191.47L402.74 191.37L403.10 190.56L403.46 190.55L403.82 191.18L404.19 190.78L404.55 190.61L404.91 190.71L405.27 190.98L405.63 190.77L405.99 190.37L406.35 189.74L406.71 189.14L407.07 189.41L407.43 189.18L407.79 189.06L408.15 188.63L408.52 188.19L408.88 188.02L409.24 188.12L409.60 187.74L409.96 187.36L410.32 187.65L410.68 186.33L411.04 184.92L411.40 183.50L411.76 180.64L412.12 178.85L412.48 177.01L412.84 172.58L413.21 166.73L413.57 159.77L413.93 150.98L414.29 139.49L414.65 126.07L415.01 112.09L415.37 97.08L415.73 82.46L416.09 72.00L416.45 66.85L416.81 68.90L417.17 77.31L417.54 90.01L417.90 105.41L418.26 120.77L418.62 134.70L418.98 147.26L419.34 157.59L419.70 164.56L420.06 171.03L420.42 175.41L420.78 178.63L421.14 181.14L421.50 182.62L421.86 183.99L422.23 184.68L422.59 186.43L422.95 186.69L423.31 186.10L423.67 187.11L424.03 188.21L424.39 188.62L424.75 189.23L425.11 189.03L425.47 189.11L425.83 189.79L426.19 190.10L426.56 190.51L426.92 190.87L427.28 190.28L427.64 189.98L428.00 190.22L428.36 190.27L428.72 191.02L429.08 191.25L429.44 191.29L429.80 191.24L430.16 191.24L430.52 191.43L430.88 191.89L431.25 192.15L431.61 191.01L431.97 191.01L432.33 192.12L432.69 191.77L433.05 190.85L433.41 191.59L433.77 192.26L434.13 191.98L434.49 192.62L434.85 192.11L435.21 191.46L435.58 191.75L435.94 192.06L436.30 191.94L436.66 191.88L437.02 192.13L437.38 192.38L437.74 192.82L438.10 191.88L438.46 191.62L438.82 192.05L439.18 191.88L439.54 192.18L439.91 192.38L440.27 191.97L440.63 191.91L440.99 192.23L441.35 192.11L441.71 191.60L442.07 191.36L442.43 191.68L442.79 192.18L443.15 192.88L443.51 192.30L443.87 191.39L444.23 191.82L444.60 192.00L444.96 191.64L445.32 191.54L445.68 191.49L446.04 192.00L446.40 191.78L446.76 192.09L447.12 192.36L447.48 191.68L447.84 191.68L448.20 191.15L448.56 190.91L448.93 192.10L449.29 193.35L449.65 192.59L450.01 192.33L450.37 192.66L450.73 191.94L451.09 192.58L451.45 193.74L451.81 193.00L452.17 192.16L452.53 192.36L452.89 192.37L453.25 192.61L453.62 193.22L453.98 192.96L454.34 192.75L454.70 193.33L455.06 192.75L455.42 192.14L455.78 192.18L456.14 192.54L456.50 192.96L456.86 192.97L457.22 193.06L457.58 192.60L457.95 192.56L458.31 192.50L458.67 192.06L459.03 191.41L459.39 192.09L459.75 192.54L460.11 192.03L460.47 192.39L460.83 192.92L461.19 193.10L461.55 192.24L461.91 192.09L462.27 192.36L462.64 192.44L463.00 192.02L463.36 191.92L463.72 193.23L464.08 193.50L464.44 193.41L464.80 194.41L465.16 193.85L465.52 192.05L465.88 191.83L466.24 192.81L466.60 193.20L466.97 192.30L467.33 191.87L467.69 192.30L468.05 192.38L468.41 192.39L468.77 192.05L469.13 191.85L469.49 192.08L469.85 192.71L470.21 192.59L470.57 192.45L470.93 192.23L471.29 192.46L471.66 192.94L472.02 192.45L472.38 192.91L472.74 192.23L473.10 191.14L473.46 192.00L473.82 192.27L474.18 191.94L474.54 193.27L474.90 193.32L475.26 192.32L475.62 192.39L475.99 192.79L476.35 192.92L476.71 192.57L477.07 192.00L477.43 191.80L477.79 192.27L478.15 191.80L478.51 192.02L478.87 192.77L479.23 193.26L479.59 192.50L479.95 191.41L480.31 191.66L480.68 191.78L481.04 192.10L481.40 192.27L481.76 192.42L482.12 192.58L482.48 192.46L482.84 191.79L483.20 191.59L483.56 192.21L483.92 192.65L484.28 192.88L484.64 192.02L485.01 191.57L485.37 192.18L485.73 192.51L486.09 192.97L486.45 192.86L486.81 192.08L487.17 192.21L487.53 192.64L487.89 192.57L488.25 192.44L488.61 192.98L488.97 193.11L489.33 192.82L489.70 192.38L490.06 192.35L490.42 192.47L490.78 191.57L491.14 191.92L491.50 192.75L491.86 192.55L492.22 192.32L492.58 192.78L492.94 192.60L493.30 191.42L493.66 191.70L494.03 192.57L494.39 192.87L494.75 192.67L495.11 192.74L495.47 193.30L495.83 192.31L496.19 192.23L496.55 192.31L496.91 191.35L497.27 191.67L497.63 192.05L497.99 191.39L498.35 191.68L498.72 192.67L499.08 193.12L499.44 192.87L499.80 191.76L500.16 191.40L500.52 192.34L500.88 193.05L501.24 192.88L501.60 192.42L501.96 192.30L502.32 192.33L502.68 192.13L503.05 192.32L503.41 192.45L503.77 192.25L504.13 192.26L504.49 192.14L504.85 191.37L505.21 191.33L505.57 192.03L505.93 192.92L506.29 192.78L506.65 192.88L507.01 193.57L507.37 192.47L507.74 191.63L508.10 192.01L508.46 192.95L508.82 193.02L509.18 192.61L509.54 192.20L509.90 191.03L510.26 191.18L510.62 192.36L510.98 192.88L511.34 192.58L511.70 192.17L512.07 192.57L512.43 192.43L512.79 192.41L513.15 191.99L513.51 191.08L513.87 191.06L514.23 191.62L514.59 191.80L514.95 191.61L515.31 191.91L515.67 191.93L516.03 192.21L516.39 192.56L516.76 191.64L517.12 191.04L517.48 191.14L517.84 190.53L518.20 191.12L518.56 191.60L518.92 190.59L519.28 189.78L519.64 189.51L520.00 188.54L520.36 187.19L520.72 186.30L521.09 184.00L521.45 179.10L521.81 172.73L522.17 166.10L522.53 156.38L522.89 145.02L523.25 134.91L523.61 127.37L523.97 124.40L524.33 126.61L524.69 132.28L525.05 141.56L525.41 152.40L525.78 162.38L526.14 171.19L526.50 178.00L526.86 182.83L527.22 184.93L527.58 187.31L527.94 188.56L528.30 188.76L528.66 190.14L529.02 190.85L529.38 190.91L529.74 190.96L530.11 191.17L530.47 191.63L530.83 191.68L531.19 191.87L531.55 192.35L531.91 192.05L532.27 191.28L532.63 191.92L532.99 192.33L533.35 192.03L533.71 192.47L534.07 191.92L534.43 191.77L534.80 191.55L535.16 191.69L535.52 192.15L535.88 191.96L536.24 192.42L536.60 192.12L536.96 191.91L537.32 191.92L537.68 191.89L538.04 192.56L538.40 192.59L538.76 192.15L539.13 191.74L539.49 192.13L539.85 192.52L540.21 192.84L540.57 192.57L540.93 192.32L541.29 193.27L541.65 192.86L542.01 191.71L542.37 192.27L542.73 193.10L543.09 192.76L543.45 192.72L543.82 192.18L544.18 191.89L544.54 192.03L544.90 191.00L545.26 190.29L545.62 189.33L545.98 188.12L546.34 187.32L546.70 186.27L547.06 184.08L547.42 183.22L547.78 184.43L548.15 185.50L548.51 186.98L548.87 188.36L549.23 188.88L549.59 190.23L549.95 192.22L550.31 192.61L550.67 192.77L551.03 192.23L551.39 191.47L551.75 192.20L552.11 193.11L552.47 192.90L552.84 191.83L553.20 192.82L553.56 193.17L553.92 192.50L554.28 192.32L554.64 192.33L555.00 192.86L555.36 193.03L555.72 193.31L556.08 192.18L556.44 191.49L556.80 192.19L557.17 192.86L557.53 193.45L557.89 193.27L558.25 192.54L558.61 192.42L558.97 192.45L559.33 192.86L559.69 192.85L560.05 192.43L560.41 191.90L560.77 191.16L561.13 191.72L561.49 192.75L561.86 192.72L562.22 192.66L562.58 192.93L562.94 192.72L563.30 192.84L563.66 192.58L564.02 192.21L564.38 192.35L564.74 192.38L565.10 192.77L565.46 193.07L565.82 192.87L566.19 192.72L566.55 192.53L566.91 192.32L567.27 192.95L567.63 192.92L567.99 192.91L568.35 193.18L568.71 192.77L569.07 193.34L569.43 193.19L569.79 192.32L570.15 192.42L570.52 192.64L570.88 192.73L571.24 192.94L571.60 192.90L571.96 192.73L572.32 192.59L572.68 192.85L573.04 192.79L573.40 192.26L573.76 192.41L574.12 192.64L574.48 192.36L574.84 192.84L575.21 192.88L575.57 192.13L575.93 192.20L576.29 192.14L576.65 192.51L577.01 192.76L577.37 192.25L577.73 191.98L578.09 192.15L578.45 192.91L578.81 192.77L579.17 191.72L579.54 191.53L579.90 191.90L580.26 192.90L580.62 192.62L580.98 192.07L581.34 193.43L581.70 193.22L582.06 192.81L582.42 193.46L582.78 193.12L583.14 192.11L583.50 192.00L583.86 192.39L584.23 191.55L584.59 191.03L584.95 191.75L585.31 192.46L585.67 192.91L586.03 193.08L586.39 192.41L586.75 191.98L587.11 192.09L587.47 191.85L587.83 192.18L588.19 192.58L588.56 191.98L588.92 191.71L589.28 191.57L589.64 191.62L590.00 192.15L590.36 192.14L590.72 192.39L591.08 193.15L591.44 192.50L591.80 191.85L592.16 191.92L592.52 192.53L592.88 192.75L593.25 192.27L593.61 192.41L593.97 192.99L594.33 192.71L594.69 191.38L595.05 191.00L595.41 191.46L595.77 191.46L596.13 190.75L596.49 191.59L596.85 191.64L597.21 189.92L597.58 188.96L597.94 187.41L598.30 185.29L598.66 182.48L599.02 177.33L599.38 169.03L599.74 158.67L600.10 146.81L600.46 135.05L600.82 127.75L601.18 129.38L601.54 138.47L601.90 150.16L602.27 161.54L602.63 171.62L602.99 178.88L603.35 184.03L603.71 187.55L604.07 188.88L604.43 189.44L604.79 189.51L605.15 190.79L605.51 191.84L605.87 191.33L606.23 191.40L606.60 192.27L606.96 191.72L607.32 191.04L607.68 191.33L608.04 191.79L608.40 191.64L608.76 191.60L609.12 191.63L609.48 191.93L609.84 192.73L610.20 192.33L610.56 192.30L610.92 192.14L611.29 191.79L611.65 192.44L612.01 192.53L612.37 192.32L612.73 192.01L613.09 192.13L613.45 192.68L613.81 191.97L614.17 190.93L614.53 190.63L614.89 191.49L615.25 192.20L615.62 191.63L615.98 191.78L616.34 192.77L616.70 192.68L617.06 192.13L617.42 192.50L617.78 193.33L618.14 193.57L618.50 192.67L618.86 192.41L619.22 192.73L619.58 192.36L619.94 192.06L620.31 192.28L620.67 192.33L621.03 192.55L621.39 192.89L621.75 192.95L622.11 192.37L622.47 191.98L622.83 192.71L623.19 192.84L623.55 192.64L623.91 192.23L624.27 192.77L624.64 193.46L625.00 192.98L625.36 191.58L625.72 191.06L626.08 192.10L626.44 192.20L626.80 191.35" fill="none" stroke="#1b8583" stroke-width="1.8" stroke-linejoin="round"/>
</g>
<rect x="374.6" y="22.8" width="252.19999999999993" height="197.6" fill="none" stroke="#000" stroke-width="1.8" stroke-linejoin="round"/>
<line x1="374.6" y1="192.5" x2="377.8" y2="192.5" stroke="#000" stroke-width="1.6"/>
<line x1="374.6" y1="135.5" x2="377.8" y2="135.5" stroke="#000" stroke-width="1.6"/>
<line x1="374.6" y1="78.5" x2="377.8" y2="78.5" stroke="#000" stroke-width="1.6"/>
<line x1="374.6" y1="21.5" x2="377.8" y2="21.5" stroke="#000" stroke-width="1.6"/>
<line x1="374.6" y1="221.0" x2="376.20000000000005" y2="221.0" stroke="#000" stroke-width="1.0"/>
<line x1="374.6" y1="164.0" x2="376.20000000000005" y2="164.0" stroke="#000" stroke-width="1.0"/>
<line x1="374.6" y1="107.0" x2="376.20000000000005" y2="107.0" stroke="#000" stroke-width="1.0"/>
<line x1="374.6" y1="50.0" x2="376.20000000000005" y2="50.0" stroke="#000" stroke-width="1.0"/>
<line x1="437.7" y1="220.4" x2="437.7" y2="217.20000000000002" stroke="#000" stroke-width="1.6"/>
<line x1="500.7" y1="220.4" x2="500.7" y2="217.20000000000002" stroke="#000" stroke-width="1.6"/>
<line x1="563.8" y1="220.4" x2="563.8" y2="217.20000000000002" stroke="#000" stroke-width="1.6"/>
<line x1="406.1" y1="220.4" x2="406.1" y2="218.8" stroke="#000" stroke-width="1.0"/>
<line x1="469.2" y1="220.4" x2="469.2" y2="218.8" stroke="#000" stroke-width="1.0"/>
<line x1="532.2" y1="220.4" x2="532.2" y2="218.8" stroke="#000" stroke-width="1.0"/>
<line x1="595.3" y1="220.4" x2="595.3" y2="218.8" stroke="#000" stroke-width="1.0"/>
<text x="370.7" y="196.7" font-size="11.3" text-anchor="end" font-weight="normal" fill="#1a1a1a" >0.0</text>
<text x="370.7" y="139.7" font-size="11.3" text-anchor="end" font-weight="normal" fill="#1a1a1a" >0.4</text>
<text x="370.7" y="82.7" font-size="11.3" text-anchor="end" font-weight="normal" fill="#1a1a1a" >0.8</text>
<text x="370.7" y="25.7" font-size="11.3" text-anchor="end" font-weight="normal" fill="#1a1a1a" >1.2</text>
<text x="374.6" y="234.0" font-size="11.3" text-anchor="middle" font-weight="normal" fill="#1a1a1a" >159</text>
<text x="437.65000000000003" y="234.0" font-size="11.3" text-anchor="middle" font-weight="normal" fill="#1a1a1a" >158</text>
<text x="500.70000000000005" y="234.0" font-size="11.3" text-anchor="middle" font-weight="normal" fill="#1a1a1a" >157</text>
<text x="563.75" y="234.0" font-size="11.3" text-anchor="middle" font-weight="normal" fill="#1a1a1a" >156</text>
<text x="626.8" y="234.0" font-size="11.3" text-anchor="middle" font-weight="normal" fill="#1a1a1a" >155</text>
<text x="490.3" y="252.0" font-size="15.6" text-anchor="middle" font-weight="bold" fill="#111" >Chemical shift (ppm)</text>
<text transform="translate(345.4,114.8) rotate(-90)" font-size="16" text-anchor="middle" font-weight="bold" fill="#111">Intensity (a.u.)</text>
<text x="318.7" y="28.1" font-size="21.6" text-anchor="start" font-weight="bold" fill="#111" >(b)</text>
<line x1="382.7" y1="36.6" x2="405.2" y2="36.6" stroke="#f08620" stroke-width="1.8"/>
<line x1="382.7" y1="52.4" x2="405.2" y2="52.4" stroke="#1b8583" stroke-width="1.8"/>
<text x="407.0" y="39.9" font-size="13.4" text-anchor="start" font-weight="bold" fill="#f08620" >EC/DEC</text>
<text x="407.0" y="55.3" font-size="13.4" text-anchor="start" font-weight="bold" fill="#1b8583" >E-LiNO<tspan font-size="10" dy="3">3</tspan></text>
<text x="474.2" y="76.4" font-size="15" text-anchor="middle" font-weight="normal" fill="#111" >O</text>
<line x1="472.6" y1="78.5" x2="472.6" y2="91" stroke="#111" stroke-width="1.1"/>
<line x1="475.4" y1="78.5" x2="475.4" y2="91" stroke="#111" stroke-width="1.1"/>
<text x="429.6" y="108.7" font-size="15" text-anchor="middle" font-weight="normal" fill="#111" >O</text>
<text x="507.1" y="108.2" font-size="15" text-anchor="middle" font-weight="normal" fill="#111" >O</text>
<line x1="436.9" y1="101.1" x2="451.7" y2="96.9" stroke="#111" stroke-width="1.1"/>
<line x1="479" y1="96.4" x2="497.8" y2="101.9" stroke="#111" stroke-width="1.1"/>
<text x="453.2" y="100.3" font-size="12.2" text-anchor="start" font-weight="normal" fill="#e0262a" >13</text>
<text x="473.0" y="107.3" font-size="15.4" text-anchor="middle" font-weight="normal" fill="#e0262a" >C</text>
<g clip-path="url(#cc)">
<path d="M56.50 461.20L56.71 461.20L56.92 461.20L57.13 461.20L57.34 461.20L57.55 461.20L57.76 461.20L57.97 461.20L58.18 461.20L58.39 461.20L58.60 461.20L58.81 461.20L59.02 461.20L59.23 461.20L59.44 461.20L59.65 461.20L59.85 461.20L60.06 461.20L60.27 461.20L60.48 461.20L60.69 461.20L60.90 461.20L61.11 461.20L61.32 461.20L61.53 461.20L61.74 461.20L61.95 461.20L62.16 461.20L62.37 461.20L62.58 461.20L62.79 461.20L63.00 461.20L63.21 461.20L63.42 461.20L63.63 461.20L63.84 461.20L64.05 461.20L64.26 461.20L64.47 461.20L64.68 461.20L64.89 461.20L65.10 461.20L65.31 461.20L65.52 461.20L65.73 461.20L65.94 461.20L66.14 461.20L66.35 461.20L66.56 461.20L66.77 461.20L66.98 461.20L67.19 461.20L67.40 461.20L67.61 461.20L67.82 461.20L68.03 461.20L68.24 461.20L68.45 461.20L68.66 461.20L68.87 461.20L69.08 461.20L69.29 461.20L69.50 461.20L69.71 461.20L69.92 461.20L70.13 461.20L70.34 461.20L70.55 461.20L70.76 461.20L70.97 461.20L71.18 461.20L71.39 461.20L71.60 461.20L71.81 461.20L72.02 461.20L72.22 461.20L72.43 461.20L72.64 461.20L72.85 461.20L73.06 461.20L73.27 461.20L73.48 461.20L73.69 461.20L73.90 461.20L74.11 461.20L74.32 461.20L74.53 461.20L74.74 461.20L74.95 461.20L75.16 461.20L75.37 461.20L75.58 461.20L75.79 461.20L76.00 461.20L76.21 461.20L76.42 461.20L76.63 461.20L76.84 461.20L77.05 461.20L77.26 461.20L77.47 461.20L77.68 461.20L77.89 461.20L78.10 461.20L78.31 461.20L78.52 461.20L78.72 461.20L78.93 461.20L79.14 461.20L79.35 461.20L79.56 461.20L79.77 461.20L79.98 461.20L80.19 461.20L80.40 461.20L80.61 461.20L80.82 461.20L81.03 461.20L81.24 461.20L81.45 461.20L81.66 461.20L81.87 461.20L82.08 461.20L82.29 461.20L82.50 461.20L82.71 461.20L82.92 461.20L83.13 461.20L83.34 461.20L83.55 461.20L83.76 461.20L83.97 461.20L84.18 461.20L84.39 461.20L84.60 461.20L84.81 461.20L85.01 461.20L85.22 461.20L85.43 461.20L85.64 461.20L85.85 461.20L86.06 461.20L86.27 461.20L86.48 461.20L86.69 461.20L86.90 461.20L87.11 461.20L87.32 461.20L87.53 461.20L87.74 461.20L87.95 461.20L88.16 461.20L88.37 461.20L88.58 461.20L88.79 461.20L89.00 461.20L89.21 461.20L89.42 461.20L89.63 461.20L89.84 461.20L90.05 461.20L90.26 461.20L90.47 461.20L90.68 461.20L90.89 461.20L91.09 461.20L91.30 461.20L91.51 461.20L91.72 461.20L91.93 461.20L92.14 461.20L92.35 461.20L92.56 461.20L92.77 461.20L92.98 461.20L93.19 461.20L93.40 461.20L93.61 461.20L93.82 461.20L94.03 461.20L94.24 461.20L94.45 461.20L94.66 461.20L94.87 461.20L95.08 461.20L95.29 461.20L95.50 461.20L95.71 461.20L95.92 461.20L96.13 461.20L96.34 461.20L96.55 461.20L96.76 461.20L96.97 461.20L97.18 461.20L97.38 461.20L97.59 461.20L97.80 461.20L98.01 461.20L98.22 461.20L98.43 461.20L98.64 461.20L98.85 461.20L99.06 461.20L99.27 461.20L99.48 461.20L99.69 461.20L99.90 461.20L100.11 461.20L100.32 461.20L100.53 461.20L100.74 461.20L100.95 461.20L101.16 461.20L101.37 461.20L101.58 461.20L101.79 461.20L102.00 461.20L102.21 461.20L102.42 461.20L102.63 461.20L102.84 461.20L103.05 461.20L103.26 461.20L103.47 461.20L103.67 461.20L103.88 461.20L104.09 461.20L104.30 461.20L104.51 461.20L104.72 461.20L104.93 461.20L105.14 461.20L105.35 461.20L105.56 461.20L105.77 461.20L105.98 461.20L106.19 461.20L106.40 461.20L106.61 461.20L106.82 461.20L107.03 461.20L107.24 461.20L107.45 461.20L107.66 461.20L107.87 461.20L108.08 461.20L108.29 461.20L108.50 461.20L108.71 461.20L108.92 461.20L109.13 461.20L109.34 461.20L109.55 461.20L109.76 461.20L109.97 461.20L110.17 461.20L110.38 461.20L110.59 461.20L110.80 461.20L111.01 461.20L111.22 461.20L111.43 461.20L111.64 461.20L111.85 461.20L112.06 461.20L112.27 461.20L112.48 461.20L112.69 461.20L112.90 461.20L113.11 461.20L113.32 461.20L113.53 461.20L113.74 461.20L113.95 461.20L114.16 461.20L114.37 461.20L114.58 461.20L114.79 461.20L115.00 461.20L115.21 461.20L115.42 461.20L115.63 461.20L115.84 461.20L116.05 461.20L116.25 461.20L116.46 461.20L116.67 461.20L116.88 461.20L117.09 461.20L117.30 461.20L117.51 461.20L117.72 461.20L117.93 461.20L118.14 461.20L118.35 461.20L118.56 461.20L118.77 461.20L118.98 461.20L119.19 461.20L119.40 461.20L119.61 461.20L119.82 461.20L120.03 461.20L120.24 461.20L120.45 461.20L120.66 461.20L120.87 461.20L121.08 461.20L121.29 461.20L121.50 461.20L121.71 461.20L121.92 461.20L122.13 461.20L122.34 461.20L122.55 461.20L122.75 461.20L122.96 461.20L123.17 461.20L123.38 461.20L123.59 461.20L123.80 461.20L124.01 461.20L124.22 461.20L124.43 461.20L124.64 461.20L124.85 461.20L125.06 461.20L125.27 461.20L125.48 461.20L125.69 461.20L125.90 461.20L126.11 461.20L126.32 461.20L126.53 461.20L126.74 461.20L126.95 461.20L127.16 461.20L127.37 461.20L127.58 461.20L127.79 461.20L128.00 461.20L128.21 461.20L128.42 461.20L128.63 461.20L128.84 461.20L129.04 461.20L129.25 461.20L129.46 460.23L129.67 459.70L129.88 460.17L130.09 459.95L130.30 458.40L130.51 458.10L130.72 456.85L130.93 454.61L131.14 453.75L131.35 453.41L131.56 452.78L131.77 452.25L131.98 451.38L132.19 450.15L132.40 449.12L132.61 448.05L132.82 446.90L133.03 445.05L133.24 444.69L133.45 443.68L133.66 442.84L133.87 443.09L134.08 441.01L134.29 438.75L134.50 437.21L134.71 436.66L134.92 435.53L135.12 433.31L135.33 429.74L135.54 428.52L135.75 427.98L135.96 427.59L136.17 426.90L136.38 424.22L136.59 420.94L136.80 419.86L137.01 420.30L137.22 415.93L137.43 409.93L137.64 408.32L137.85 408.65L138.06 407.72L138.27 404.37L138.48 400.85L138.69 397.73L138.90 395.98L139.11 398.16L139.32 397.73L139.53 396.14L139.74 395.69L139.95 390.79L140.16 386.26L140.37 388.85L140.58 386.11L140.79 382.62L141.00 385.70L141.21 384.34L141.42 381.83L141.62 382.49L141.83 384.24L142.04 381.82L142.25 377.17L142.46 380.01L142.67 378.39L142.88 372.23L143.09 372.61L143.30 372.21L143.51 370.75L143.72 371.08L143.93 370.11L144.14 365.67L144.35 366.35L144.56 367.13L144.77 363.65L144.98 364.11L145.19 364.04L145.40 364.09L145.61 363.75L145.82 360.67L146.03 358.06L146.24 358.83L146.45 354.15L146.66 353.39L146.87 357.94L147.08 357.74L147.29 359.15L147.50 357.60L147.71 358.68L147.91 359.69L148.12 358.28L148.33 363.04L148.54 364.20L148.75 364.48L148.96 362.76L149.17 363.31L149.38 369.97L149.59 373.30L149.80 374.79L150.01 373.64L150.22 374.02L150.43 375.79L150.64 375.98L150.85 375.02L151.06 372.28L151.27 375.15L151.48 378.77L151.69 378.11L151.90 380.08L152.11 381.04L152.32 380.55L152.53 377.94L152.74 377.29L152.95 379.69L153.16 378.90L153.37 378.11L153.58 379.88L153.79 380.20L154.00 381.61L154.20 381.70L154.41 380.17L154.62 382.24L154.83 385.31L155.04 382.78L155.25 381.20L155.46 379.29L155.67 380.90L155.88 384.75L156.09 384.87L156.30 386.26L156.51 384.76L156.72 386.86L156.93 388.78L157.14 387.77L157.35 387.91L157.56 387.71L157.77 386.77L157.98 386.88L158.19 388.53L158.40 390.83L158.61 393.44L158.82 394.50L159.03 394.02L159.24 392.27L159.45 392.45L159.66 395.86L159.87 394.75L160.08 394.47L160.29 397.02L160.49 396.51L160.70 394.96L160.91 398.70L161.12 401.51L161.33 397.83L161.54 396.98L161.75 398.90L161.96 399.48L162.17 396.30L162.38 396.46L162.59 397.79L162.80 396.14L163.01 398.22L163.22 399.03L163.43 399.29L163.64 401.19L163.85 402.49L164.06 400.44L164.27 399.56L164.48 402.01L164.69 403.38L164.90 399.95L165.11 397.29L165.32 400.51L165.53 402.95L165.74 405.33L165.95 404.01L166.16 401.40L166.37 404.23L166.58 403.08L166.78 399.91L166.99 403.41L167.20 405.69L167.41 405.08L167.62 404.18L167.83 403.97L168.04 406.97L168.25 404.68L168.46 401.86L168.67 402.40L168.88 401.14L169.09 403.61L169.30 405.21L169.51 403.93L169.72 403.44L169.93 404.99L170.14 407.28L170.35 407.11L170.56 407.52L170.77 408.54L170.98 410.53L171.19 409.62L171.40 408.12L171.61 409.15L171.82 407.67L172.03 406.32L172.24 403.32L172.45 403.49L172.66 408.60L172.87 408.71L173.07 407.45L173.28 407.03L173.49 407.17L173.70 408.89L173.91 408.62L174.12 408.49L174.33 410.52L174.54 410.59L174.75 407.78L174.96 404.89L175.17 405.32L175.38 407.76L175.59 406.41L175.80 405.00L176.01 403.42L176.22 403.35L176.43 405.85L176.64 404.69L176.85 402.29L177.06 405.10L177.27 407.22L177.48 409.08L177.69 409.89L177.90 408.66L178.11 408.43L178.32 407.80L178.53 407.73L178.74 407.14L178.95 406.09L179.16 405.53L179.36 407.10L179.57 409.38L179.78 406.51L179.99 402.23L180.20 404.73L180.41 405.94L180.62 407.47L180.83 410.62L181.04 408.53L181.25 403.68L181.46 404.73L181.67 408.14L181.88 403.87L182.09 405.35L182.30 406.10L182.51 403.36L182.72 404.12L182.93 404.29L183.14 401.07L183.35 402.35L183.56 405.39L183.77 404.29L183.98 404.58L184.19 405.65L184.40 403.05L184.61 401.23L184.82 404.73L185.03 405.61L185.24 403.14L185.45 401.82L185.65 403.69L185.86 404.10L186.07 402.13L186.28 401.48L186.49 401.21L186.70 403.48L186.91 401.78L187.12 399.44L187.33 399.36L187.54 396.35L187.75 398.35L187.96 402.66L188.17 401.42L188.38 400.14L188.59 401.43L188.80 402.22L189.01 399.77L189.22 398.99L189.43 402.20L189.64 402.06L189.85 401.66L190.06 400.86L190.27 399.91L190.48 401.08L190.69 399.83L190.90 399.23L191.11 398.94L191.32 396.72L191.53 397.74L191.74 399.65L191.94 398.89L192.15 397.06L192.36 397.12L192.57 397.78L192.78 397.64L192.99 397.30L193.20 396.43L193.41 397.37L193.62 398.42L193.83 397.45L194.04 397.49L194.25 397.24L194.46 395.78L194.67 395.80L194.88 396.88L195.09 397.55L195.30 394.85L195.51 392.90L195.72 395.86L195.93 397.57L196.14 394.18L196.35 391.48L196.56 393.22L196.77 393.45L196.98 395.05L197.19 396.15L197.40 393.59L197.61 395.45L197.82 396.95L198.03 393.94L198.23 391.72L198.44 393.07L198.65 393.83L198.86 391.31L199.07 391.89L199.28 394.93L199.49 394.44L199.70 393.29L199.91 391.67L200.12 390.94L200.33 393.08L200.54 390.52L200.75 390.07L200.96 392.03L201.17 390.63L201.38 390.17L201.59 390.58L201.80 390.67L202.01 390.81L202.22 392.85L202.43 392.89L202.64 391.44L202.85 391.27L203.06 390.78L203.27 391.15L203.48 389.74L203.69 387.25L203.90 390.95L204.11 392.53L204.31 390.81L204.52 393.54L204.73 392.23L204.94 389.98L205.15 390.74L205.36 390.69L205.57 389.03L205.78 386.91L205.99 387.72L206.20 388.25L206.41 388.60L206.62 389.14L206.83 389.75L207.04 389.80L207.25 389.71L207.46 389.28L207.67 387.54L207.88 387.55L208.09 387.10L208.30 384.47L208.51 387.98L208.72 390.82L208.93 389.11L209.14 389.57L209.35 390.38L209.56 389.78L209.77 388.55L209.98 389.26L210.19 389.22L210.40 389.15L210.61 391.39L210.81 389.56L211.02 387.34L211.23 389.52L211.44 388.86L211.65 388.55L211.86 391.25L212.07 389.61L212.28 389.12L212.49 390.38L212.70 388.51L212.91 386.90L213.12 385.84L213.33 387.23L213.54 389.47L213.75 390.22L213.96 388.35L214.17 386.10L214.38 386.83L214.59 389.61L214.80 389.23L215.01 389.09L215.22 390.79L215.43 390.83L215.64 389.89L215.85 389.43L216.06 389.13L216.27 388.15L216.48 388.80L216.69 392.87L216.90 395.40L217.10 392.84L217.31 391.22L217.52 389.20L217.73 389.32L217.94 391.98L218.15 391.08L218.36 389.92L218.57 391.35L218.78 392.15L218.99 393.29L219.20 394.98L219.41 392.57L219.62 393.23L219.83 393.72L220.04 391.61L220.25 391.93L220.46 391.82L220.67 392.18L220.88 395.63L221.09 397.45L221.30 395.91L221.51 393.95L221.72 394.63L221.93 396.50L222.14 395.78L222.35 393.69L222.56 394.96L222.77 397.96L222.98 395.81L223.19 396.75L223.39 397.16L223.60 395.44L223.81 397.60L224.02 397.65L224.23 397.12L224.44 396.57L224.65 395.18L224.86 393.83L225.07 394.32L225.28 395.91L225.49 396.60L225.70 396.82L225.91 395.14L226.12 397.28L226.33 397.79L226.54 396.37L226.75 397.08L226.96 396.23L227.17 395.47L227.38 395.65L227.59 397.08L227.80 397.09L228.01 396.74L228.22 397.38L228.43 397.26L228.64 396.18L228.85 396.35L229.06 397.22L229.27 398.85L229.47 399.25L229.68 399.96L229.89 399.14L230.10 398.24L230.31 397.71L230.52 393.55L230.73 395.48L230.94 397.37L231.15 396.60L231.36 398.74L231.57 400.19L231.78 399.07L231.99 396.74L232.20 397.07L232.41 400.31L232.62 401.92L232.83 400.62L233.04 398.12L233.25 397.66L233.46 398.87L233.67 397.96L233.88 398.63L234.09 400.13L234.30 400.20L234.51 402.12L234.72 401.51L234.93 399.23L235.14 398.77L235.35 400.59L235.56 402.62L235.77 400.41L235.97 399.27L236.18 398.88L236.39 400.27L236.60 401.64L236.81 401.54L237.02 401.53L237.23 401.43L237.44 401.29L237.65 399.71L237.86 399.67L238.07 402.91L238.28 402.73L238.49 400.39L238.70 402.65L238.91 404.19L239.12 403.16L239.33 401.67L239.54 402.26L239.75 404.73L239.96 404.02L240.17 402.16L240.38 399.89L240.59 401.53L240.80 401.50L241.01 398.27L241.22 400.72L241.43 400.84L241.64 401.09L241.85 401.84L242.06 402.75L242.26 403.72L242.47 404.02L242.68 405.80L242.89 404.99L243.10 403.98L243.31 403.05L243.52 400.94L243.73 401.72L243.94 403.01L244.15 402.60L244.36 404.45L244.57 404.33L244.78 402.47L244.99 402.77L245.20 403.94L245.41 406.00L245.62 405.04L245.83 402.51L246.04 400.75L246.25 399.82L246.46 399.65L246.67 400.43L246.88 400.71L247.09 401.29L247.30 401.82L247.51 400.54L247.72 398.26L247.93 398.96L248.14 403.20L248.34 401.93L248.55 401.36L248.76 402.87L248.97 402.29L249.18 403.16L249.39 401.36L249.60 399.68L249.81 401.75L250.02 402.28L250.23 402.04L250.44 401.41L250.65 401.30L250.86 402.76L251.07 403.00L251.28 402.60L251.49 401.54L251.70 402.01L251.91 402.37L252.12 400.85L252.33 398.17L252.54 397.67L252.75 403.38L252.96 404.81L253.17 401.95L253.38 400.99L253.59 398.80L253.80 398.29L254.01 402.42L254.22 402.83L254.43 400.15L254.64 399.97L254.84 398.55L255.05 400.11L255.26 400.31L255.47 400.84L255.68 401.90L255.89 399.62L256.10 397.11L256.31 398.20L256.52 402.42L256.73 400.82L256.94 399.60L257.15 398.56L257.36 398.51L257.57 401.06L257.78 398.84L257.99 397.69L258.20 397.85L258.41 399.39L258.62 398.58L258.83 397.56L259.04 398.35L259.25 398.69L259.46 401.15L259.67 400.23L259.88 398.25L260.09 396.16L260.30 395.86L260.51 396.68L260.72 396.24L260.92 393.53L261.13 395.02L261.34 396.93L261.55 396.09L261.76 397.07L261.97 397.39L262.18 396.31L262.39 396.97L262.60 399.56L262.81 398.33L263.02 398.04L263.23 396.95L263.44 394.59L263.65 396.05L263.86 396.09L264.07 395.87L264.28 396.66L264.49 395.82L264.70 393.62L264.91 393.51L265.12 396.41L265.33 397.29L265.54 394.88L265.75 395.58L265.96 397.27L266.17 395.76L266.38 397.79L266.59 397.78L266.80 393.92L267.01 393.06L267.22 395.01L267.42 394.40L267.63 392.77L267.84 391.22L268.05 392.48L268.26 395.00L268.47 394.06L268.68 393.70L268.89 393.57L269.10 393.45L269.31 394.22L269.52 395.77L269.73 395.55L269.94 395.26L270.15 395.73L270.36 394.76L270.57 393.01L270.78 391.45L270.99 393.07L271.20 393.61L271.41 391.57L271.62 391.91L271.83 394.51L272.04 396.76L272.25 394.08L272.46 390.71L272.67 391.23L272.88 393.32L273.09 392.01L273.30 389.51L273.50 391.10L273.71 392.62L273.92 394.65L274.13 393.56L274.34 393.15L274.55 393.19L274.76 390.62L274.97 391.22L275.18 390.26L275.39 390.67L275.60 391.71L275.81 390.46L276.02 390.79L276.23 392.08L276.44 390.98L276.65 390.03L276.86 391.54L277.07 392.14L277.28 391.75L277.49 389.07L277.70 389.06L277.91 391.76L278.12 392.99L278.33 394.02L278.54 394.89L278.75 393.29L278.96 391.17L279.17 392.50L279.38 394.11L279.59 393.32L279.80 392.25L280.00 393.31L280.21 392.39L280.42 390.76L280.63 391.11L280.84 390.40L281.05 391.02L281.26 390.36L281.47 390.72L281.68 391.61L281.89 389.79L282.10 390.60L282.31 390.88L282.52 391.96L282.73 393.94L282.94 392.74L283.15 391.87L283.36 390.99L283.57 390.14L283.78 390.08L283.99 389.74L284.20 390.16L284.41 390.38L284.62 390.98L284.83 391.55L285.04 388.92L285.25 390.29L285.46 392.67L285.67 389.65L285.88 388.97L286.09 388.50L286.29 388.34L286.50 391.21L286.71 392.13L286.92 392.26L287.13 390.81L287.34 387.70L287.55 389.22L287.76 390.17L287.97 390.11L288.18 392.23L288.39 392.25L288.60 392.38L288.81 392.49L289.02 390.52L289.23 389.09L289.44 387.89L289.65 389.01L289.86 390.14L290.07 389.30L290.28 388.93L290.49 392.45L290.70 393.87L290.91 389.90L291.12 390.25L291.33 390.83L291.54 388.69L291.75 391.00L291.96 392.09L292.17 389.76L292.38 389.52L292.58 391.42L292.79 391.03L293.00 389.97L293.21 389.43L293.42 388.34L293.63 389.81L293.84 390.07L294.05 390.21L294.26 391.14L294.47 392.08L294.68 391.57L294.89 388.97L295.10 388.57L295.31 389.45L295.52 390.24L295.73 390.77L295.94 389.27L296.15 390.30L296.36 388.85L296.57 387.28L296.78 387.14L296.99 385.78L297.20 388.56L297.41 389.02L297.62 388.26L297.83 388.54L298.04 387.93L298.25 389.00L298.46 390.50L298.66 390.34L298.87 391.12L299.08 390.92L299.29 389.16L299.50 388.57L299.71 388.58L299.92 389.24L300.13 388.56L300.34 390.32L300.55 391.56L300.76 389.65L300.97 388.20L301.18 387.08L301.39 387.13L301.60 387.78L301.81 387.57L302.02 388.61L302.23 389.50L302.44 390.64L302.65 388.79L302.86 384.71L303.07 387.15L303.28 389.72L303.49 391.27L303.70 391.93L303.91 389.44L304.12 387.87L304.33 389.52L304.54 389.80L304.75 388.83L304.96 387.69L305.16 386.11L305.37 386.76L305.58 387.31L305.79 386.98L306.00 389.28L306.21 388.98L306.42 386.69L306.63 385.97L306.84 387.79L307.05 387.67L307.26 386.27L307.47 386.71L307.68 384.60L307.89 386.38L308.10 389.01" fill="none" stroke="#1f6aa5" stroke-width="1.9" stroke-linejoin="round"/>
<path d="M56.50 461.20L56.71 461.20L56.92 461.20L57.13 461.20L57.34 461.20L57.55 461.20L57.76 461.20L57.97 461.20L58.18 461.20L58.39 461.20L58.60 461.20L58.81 461.20L59.02 461.20L59.23 461.20L59.44 461.20L59.65 461.20L59.85 461.20L60.06 461.20L60.27 461.20L60.48 461.20L60.69 461.20L60.90 461.20L61.11 461.20L61.32 461.20L61.53 461.20L61.74 461.20L61.95 461.20L62.16 461.20L62.37 461.20L62.58 461.20L62.79 461.20L63.00 461.20L63.21 461.20L63.42 461.20L63.63 461.20L63.84 461.20L64.05 461.20L64.26 461.20L64.47 461.20L64.68 461.20L64.89 461.20L65.10 461.20L65.31 461.20L65.52 461.20L65.73 461.20L65.94 461.20L66.14 461.20L66.35 461.20L66.56 461.20L66.77 461.20L66.98 461.20L67.19 461.20L67.40 461.20L67.61 461.20L67.82 461.20L68.03 461.20L68.24 461.20L68.45 461.20L68.66 461.20L68.87 461.20L69.08 461.20L69.29 461.20L69.50 461.20L69.71 461.20L69.92 461.20L70.13 461.20L70.34 461.20L70.55 461.20L70.76 461.20L70.97 461.20L71.18 461.20L71.39 461.20L71.60 461.20L71.81 461.20L72.02 461.20L72.22 461.20L72.43 461.20L72.64 461.20L72.85 461.20L73.06 461.20L73.27 461.20L73.48 461.20L73.69 461.20L73.90 461.20L74.11 461.20L74.32 461.20L74.53 461.20L74.74 461.20L74.95 461.20L75.16 461.20L75.37 461.20L75.58 461.20L75.79 461.20L76.00 461.20L76.21 461.20L76.42 461.20L76.63 461.20L76.84 461.20L77.05 461.20L77.26 461.20L77.47 461.20L77.68 461.20L77.89 461.20L78.10 461.20L78.31 461.20L78.52 461.20L78.72 461.20L78.93 461.20L79.14 461.20L79.35 461.20L79.56 461.20L79.77 461.20L79.98 461.20L80.19 461.20L80.40 461.20L80.61 461.20L80.82 461.20L81.03 461.20L81.24 461.20L81.45 461.20L81.66 461.20L81.87 461.20L82.08 461.20L82.29 461.20L82.50 461.20L82.71 461.20L82.92 461.20L83.13 461.20L83.34 461.20L83.55 461.20L83.76 461.20L83.97 461.20L84.18 461.20L84.39 461.20L84.60 461.20L84.81 461.20L85.01 461.20L85.22 461.20L85.43 461.20L85.64 461.20L85.85 461.20L86.06 461.20L86.27 461.20L86.48 461.20L86.69 461.20L86.90 461.20L87.11 461.20L87.32 461.20L87.53 461.20L87.74 461.20L87.95 461.20L88.16 461.20L88.37 461.20L88.58 461.20L88.79 461.20L89.00 461.20L89.21 461.20L89.42 461.20L89.63 461.20L89.84 461.20L90.05 461.20L90.26 461.20L90.47 461.20L90.68 461.20L90.89 461.20L91.09 461.20L91.30 461.20L91.51 461.20L91.72 461.20L91.93 461.20L92.14 461.20L92.35 461.20L92.56 461.20L92.77 461.20L92.98 461.20L93.19 461.20L93.40 461.20L93.61 461.20L93.82 461.20L94.03 461.20L94.24 461.20L94.45 461.20L94.66 461.20L94.87 461.20L95.08 461.20L95.29 461.20L95.50 461.20L95.71 461.20L95.92 461.20L96.13 461.20L96.34 461.20L96.55 461.20L96.76 461.20L96.97 461.20L97.18 461.20L97.38 461.20L97.59 461.20L97.80 461.20L98.01 461.20L98.22 461.20L98.43 461.20L98.64 461.20L98.85 461.20L99.06 461.20L99.27 461.20L99.48 461.20L99.69 461.20L99.90 461.20L100.11 461.20L100.32 461.20L100.53 461.20L100.74 461.20L100.95 461.20L101.16 461.20L101.37 461.20L101.58 461.20L101.79 461.20L102.00 461.20L102.21 461.20L102.42 461.20L102.63 461.20L102.84 461.20L103.05 461.20L103.26 461.20L103.47 461.20L103.67 461.20L103.88 461.20L104.09 461.20L104.30 461.20L104.51 461.20L104.72 461.20L104.93 461.20L105.14 461.20L105.35 461.20L105.56 461.20L105.77 461.20L105.98 461.20L106.19 461.20L106.40 461.20L106.61 461.20L106.82 461.20L107.03 461.20L107.24 461.20L107.45 461.20L107.66 461.20L107.87 461.20L108.08 461.20L108.29 461.20L108.50 461.20L108.71 461.20L108.92 461.20L109.13 461.20L109.34 461.20L109.55 461.20L109.76 461.20L109.97 461.20L110.17 461.20L110.38 461.20L110.59 461.20L110.80 461.20L111.01 461.20L111.22 461.20L111.43 461.20L111.64 461.20L111.85 461.20L112.06 461.20L112.27 461.20L112.48 461.20L112.69 461.20L112.90 461.20L113.11 461.20L113.32 461.20L113.53 461.20L113.74 461.20L113.95 461.20L114.16 461.20L114.37 461.20L114.58 461.20L114.79 461.20L115.00 461.20L115.21 461.20L115.42 461.20L115.63 461.20L115.84 461.20L116.05 461.20L116.25 461.20L116.46 461.20L116.67 461.20L116.88 461.20L117.09 461.20L117.30 461.20L117.51 461.20L117.72 461.20L117.93 461.20L118.14 461.20L118.35 461.20L118.56 461.20L118.77 461.20L118.98 461.20L119.19 461.20L119.40 461.20L119.61 461.20L119.82 461.20L120.03 461.20L120.24 461.20L120.45 461.20L120.66 461.20L120.87 461.20L121.08 461.20L121.29 461.20L121.50 461.20L121.71 461.20L121.92 461.20L122.13 461.20L122.34 461.20L122.55 461.20L122.75 461.20L122.96 461.20L123.17 461.20L123.38 461.20L123.59 461.20L123.80 461.20L124.01 461.20L124.22 461.20L124.43 461.20L124.64 461.20L124.85 461.20L125.06 461.20L125.27 461.20L125.48 461.20L125.69 461.20L125.90 461.20L126.11 461.20L126.32 461.20L126.53 461.20L126.74 461.20L126.95 461.20L127.16 461.20L127.37 461.20L127.58 461.20L127.79 461.20L128.00 461.20L128.21 461.20L128.42 461.20L128.63 461.20L128.84 461.20L129.04 461.20L129.25 461.20L129.46 461.20L129.67 461.20L129.88 461.20L130.09 461.20L130.30 461.20L130.51 461.20L130.72 461.20L130.93 461.20L131.14 461.20L131.35 461.20L131.56 461.20L131.77 461.20L131.98 461.20L132.19 461.20L132.40 461.20L132.61 461.20L132.82 461.20L133.03 461.16L133.24 460.89L133.45 460.38L133.66 459.67L133.87 458.79L134.08 457.78L134.29 456.67L134.50 455.49L134.71 454.28L134.92 453.08L135.12 451.91L135.33 450.72L135.54 449.41L135.75 447.99L135.96 446.48L136.17 444.88L136.38 443.22L136.59 441.50L136.80 439.73L137.01 437.94L137.22 436.12L137.43 434.29L137.64 432.47L137.85 430.67L138.06 428.89L138.27 427.15L138.48 425.42L138.69 423.64L138.90 421.83L139.11 419.99L139.32 418.14L139.53 416.27L139.74 414.41L139.95 412.55L140.16 410.72L140.37 408.90L140.58 407.13L140.79 405.39L141.00 403.71L141.21 402.09L141.42 400.54L141.62 399.03L141.83 397.54L142.04 396.07L142.25 394.62L142.46 393.20L142.67 391.80L142.88 390.43L143.09 389.09L143.30 387.78L143.51 386.51L143.72 385.27L143.93 384.07L144.14 382.91L144.35 381.80L144.56 380.73L144.77 379.65L144.98 378.51L145.19 377.35L145.40 376.17L145.61 375.01L145.82 373.89L146.03 372.83L146.24 371.85L146.45 370.97L146.66 370.23L146.87 369.64L147.08 369.22L147.29 369.00L147.50 368.98L147.71 369.04L147.91 369.15L148.12 369.30L148.33 369.49L148.54 369.72L148.75 369.96L148.96 370.23L149.17 370.50L149.38 370.78L149.59 371.06L149.80 371.32L150.01 371.57L150.22 371.83L150.43 372.12L150.64 372.41L150.85 372.72L151.06 373.04L151.27 373.37L151.48 373.71L151.69 374.05L151.90 374.39L152.11 374.74L152.32 375.09L152.53 375.43L152.74 375.77L152.95 376.11L153.16 376.44L153.37 376.75L153.58 377.06L153.79 377.36L154.00 377.63L154.20 377.90L154.41 378.16L154.62 378.42L154.83 378.66L155.04 378.90L155.25 379.14L155.46 379.37L155.67 379.60L155.88 379.83L156.09 380.06L156.30 380.28L156.51 380.50L156.72 380.72L156.93 380.95L157.14 381.17L157.35 381.40L157.56 381.63L157.77 381.86L157.98 382.10L158.19 382.34L158.40 382.59L158.61 382.84L158.82 383.09L159.03 383.35L159.24 383.61L159.45 383.87L159.66 384.13L159.87 384.40L160.08 384.66L160.29 384.93L160.49 385.20L160.70 385.47L160.91 385.74L161.12 386.01L161.33 386.28L161.54 386.55L161.75 386.82L161.96 387.09L162.17 387.36L162.38 387.62L162.59 387.89L162.80 388.16L163.01 388.43L163.22 388.70L163.43 388.97L163.64 389.25L163.85 389.53L164.06 389.81L164.27 390.09L164.48 390.37L164.69 390.65L164.90 390.93L165.11 391.20L165.32 391.48L165.53 391.75L165.74 392.02L165.95 392.28L166.16 392.54L166.37 392.79L166.58 393.04L166.78 393.27L166.99 393.51L167.20 393.73L167.41 393.95L167.62 394.17L167.83 394.39L168.04 394.61L168.25 394.83L168.46 395.05L168.67 395.27L168.88 395.49L169.09 395.70L169.30 395.91L169.51 396.12L169.72 396.33L169.93 396.53L170.14 396.73L170.35 396.92L170.56 397.10L170.77 397.29L170.98 397.46L171.19 397.63L171.40 397.79L171.61 397.94L171.82 398.09L172.03 398.23L172.24 398.35L172.45 398.47L172.66 398.58L172.87 398.68L173.07 398.77L173.28 398.87L173.49 398.96L173.70 399.05L173.91 399.14L174.12 399.23L174.33 399.32L174.54 399.41L174.75 399.49L174.96 399.58L175.17 399.66L175.38 399.74L175.59 399.81L175.80 399.89L176.01 399.96L176.22 400.03L176.43 400.09L176.64 400.15L176.85 400.21L177.06 400.26L177.27 400.31L177.48 400.36L177.69 400.40L177.90 400.43L178.11 400.47L178.32 400.49L178.53 400.51L178.74 400.53L178.95 400.53L179.16 400.54L179.36 400.54L179.57 400.53L179.78 400.52L179.99 400.51L180.20 400.50L180.41 400.48L180.62 400.46L180.83 400.44L181.04 400.42L181.25 400.39L181.46 400.36L181.67 400.33L181.88 400.30L182.09 400.27L182.30 400.23L182.51 400.19L182.72 400.15L182.93 400.11L183.14 400.06L183.35 400.02L183.56 399.97L183.77 399.92L183.98 399.88L184.19 399.82L184.40 399.77L184.61 399.72L184.82 399.67L185.03 399.62L185.24 399.56L185.45 399.51L185.65 399.45L185.86 399.40L186.07 399.34L186.28 399.28L186.49 399.23L186.70 399.17L186.91 399.12L187.12 399.06L187.33 399.00L187.54 398.95L187.75 398.89L187.96 398.84L188.17 398.79L188.38 398.73L188.59 398.68L188.80 398.63L189.01 398.57L189.22 398.52L189.43 398.46L189.64 398.40L189.85 398.33L190.06 398.27L190.27 398.20L190.48 398.14L190.69 398.07L190.90 398.00L191.11 397.93L191.32 397.85L191.53 397.78L191.74 397.71L191.94 397.63L192.15 397.56L192.36 397.48L192.57 397.40L192.78 397.33L192.99 397.25L193.20 397.17L193.41 397.09L193.62 397.02L193.83 396.94L194.04 396.86L194.25 396.79L194.46 396.71L194.67 396.64L194.88 396.56L195.09 396.49L195.30 396.41L195.51 396.34L195.72 396.27L195.93 396.20L196.14 396.13L196.35 396.06L196.56 396.00L196.77 395.93L196.98 395.87L197.19 395.81L197.40 395.75L197.61 395.69L197.82 395.64L198.03 395.59L198.23 395.53L198.44 395.48L198.65 395.43L198.86 395.37L199.07 395.32L199.28 395.26L199.49 395.21L199.70 395.15L199.91 395.10L200.12 395.04L200.33 394.98L200.54 394.93L200.75 394.87L200.96 394.82L201.17 394.76L201.38 394.71L201.59 394.65L201.80 394.60L202.01 394.55L202.22 394.49L202.43 394.44L202.64 394.39L202.85 394.34L203.06 394.30L203.27 394.25L203.48 394.20L203.69 394.16L203.90 394.12L204.11 394.08L204.31 394.04L204.52 394.00L204.73 393.97L204.94 393.93L205.15 393.90L205.36 393.87L205.57 393.85L205.78 393.82L205.99 393.80L206.20 393.78L206.41 393.77L206.62 393.75L206.83 393.74L207.04 393.74L207.25 393.73L207.46 393.73L207.67 393.73L207.88 393.73L208.09 393.74L208.30 393.75L208.51 393.76L208.72 393.77L208.93 393.79L209.14 393.81L209.35 393.83L209.56 393.85L209.77 393.87L209.98 393.90L210.19 393.93L210.40 393.96L210.61 393.99L210.81 394.02L211.02 394.05L211.23 394.09L211.44 394.13L211.65 394.16L211.86 394.20L212.07 394.24L212.28 394.28L212.49 394.33L212.70 394.37L212.91 394.42L213.12 394.46L213.33 394.51L213.54 394.55L213.75 394.60L213.96 394.65L214.17 394.70L214.38 394.75L214.59 394.79L214.80 394.84L215.01 394.89L215.22 394.94L215.43 394.99L215.64 395.05L215.85 395.11L216.06 395.17L216.27 395.24L216.48 395.32L216.69 395.40L216.90 395.48L217.10 395.57L217.31 395.66L217.52 395.76L217.73 395.85L217.94 395.95L218.15 396.06L218.36 396.16L218.57 396.27L218.78 396.38L218.99 396.49L219.20 396.60L219.41 396.72L219.62 396.83L219.83 396.95L220.04 397.06L220.25 397.18L220.46 397.30L220.67 397.41L220.88 397.53L221.09 397.64L221.30 397.75L221.51 397.87L221.72 397.98L221.93 398.08L222.14 398.19L222.35 398.29L222.56 398.40L222.77 398.49L222.98 398.59L223.19 398.68L223.39 398.77L223.60 398.86L223.81 398.95L224.02 399.04L224.23 399.12L224.44 399.21L224.65 399.30L224.86 399.38L225.07 399.47L225.28 399.55L225.49 399.64L225.70 399.72L225.91 399.80L226.12 399.89L226.33 399.97L226.54 400.05L226.75 400.14L226.96 400.22L227.17 400.30L227.38 400.38L227.59 400.46L227.80 400.54L228.01 400.62L228.22 400.70L228.43 400.78L228.64 400.86L228.85 400.94L229.06 401.02L229.27 401.10L229.47 401.18L229.68 401.26L229.89 401.34L230.10 401.42L230.31 401.50L230.52 401.58L230.73 401.66L230.94 401.74L231.15 401.82L231.36 401.91L231.57 401.99L231.78 402.07L231.99 402.15L232.20 402.23L232.41 402.31L232.62 402.39L232.83 402.48L233.04 402.56L233.25 402.64L233.46 402.73L233.67 402.81L233.88 402.90L234.09 402.98L234.30 403.07L234.51 403.15L234.72 403.24L234.93 403.32L235.14 403.41L235.35 403.49L235.56 403.58L235.77 403.66L235.97 403.75L236.18 403.84L236.39 403.92L236.60 404.01L236.81 404.09L237.02 404.18L237.23 404.26L237.44 404.35L237.65 404.43L237.86 404.52L238.07 404.60L238.28 404.68L238.49 404.77L238.70 404.85L238.91 404.93L239.12 405.02L239.33 405.10L239.54 405.18L239.75 405.26L239.96 405.34L240.17 405.42L240.38 405.50L240.59 405.58L240.80 405.66L241.01 405.73L241.22 405.81L241.43 405.89L241.64 405.96L241.85 406.04L242.06 406.11L242.26 406.18L242.47 406.26L242.68 406.33L242.89 406.41L243.10 406.48L243.31 406.56L243.52 406.64L243.73 406.72L243.94 406.79L244.15 406.87L244.36 406.95L244.57 407.03L244.78 407.10L244.99 407.18L245.20 407.26L245.41 407.33L245.62 407.41L245.83 407.48L246.04 407.55L246.25 407.62L246.46 407.69L246.67 407.76L246.88 407.83L247.09 407.90L247.30 407.96L247.51 408.02L247.72 408.09L247.93 408.14L248.14 408.20L248.34 408.26L248.55 408.31L248.76 408.36L248.97 408.41L249.18 408.45L249.39 408.49L249.60 408.53L249.81 408.57L250.02 408.60L250.23 408.63L250.44 408.67L250.65 408.70L250.86 408.73L251.07 408.77L251.28 408.80L251.49 408.83L251.70 408.86L251.91 408.89L252.12 408.92L252.33 408.95L252.54 408.98L252.75 409.01L252.96 409.03L253.17 409.06L253.38 409.08L253.59 409.10L253.80 409.12L254.01 409.14L254.22 409.15L254.43 409.17L254.64 409.18L254.84 409.19L255.05 409.20L255.26 409.20L255.47 409.20L255.68 409.20L255.89 409.20L256.10 409.19L256.31 409.18L256.52 409.16L256.73 409.15L256.94 409.12L257.15 409.10L257.36 409.07L257.57 409.04L257.78 409.00L257.99 408.97L258.20 408.93L258.41 408.89L258.62 408.84L258.83 408.80L259.04 408.75L259.25 408.70L259.46 408.65L259.67 408.59L259.88 408.54L260.09 408.48L260.30 408.43L260.51 408.37L260.72 408.31L260.92 408.25L261.13 408.19L261.34 408.13L261.55 408.07L261.76 408.00L261.97 407.94L262.18 407.88L262.39 407.82L262.60 407.76L262.81 407.70L263.02 407.64L263.23 407.58L263.44 407.52L263.65 407.46L263.86 407.40L264.07 407.35L264.28 407.29L264.49 407.23L264.70 407.18L264.91 407.12L265.12 407.06L265.33 406.99L265.54 406.93L265.75 406.87L265.96 406.80L266.17 406.74L266.38 406.67L266.59 406.60L266.80 406.54L267.01 406.47L267.22 406.40L267.42 406.33L267.63 406.26L267.84 406.18L268.05 406.11L268.26 406.04L268.47 405.97L268.68 405.90L268.89 405.82L269.10 405.75L269.31 405.68L269.52 405.60L269.73 405.53L269.94 405.45L270.15 405.38L270.36 405.31L270.57 405.23L270.78 405.16L270.99 405.09L271.20 405.02L271.41 404.94L271.62 404.87L271.83 404.80L272.04 404.73L272.25 404.66L272.46 404.59L272.67 404.52L272.88 404.45L273.09 404.38L273.30 404.32L273.50 404.25L273.71 404.19L273.92 404.12L274.13 404.06L274.34 403.99L274.55 403.93L274.76 403.86L274.97 403.80L275.18 403.74L275.39 403.67L275.60 403.61L275.81 403.55L276.02 403.48L276.23 403.42L276.44 403.36L276.65 403.29L276.86 403.23L277.07 403.17L277.28 403.11L277.49 403.05L277.70 402.98L277.91 402.92L278.12 402.86L278.33 402.80L278.54 402.74L278.75 402.68L278.96 402.61L279.17 402.55L279.38 402.49L279.59 402.43L279.80 402.37L280.00 402.31L280.21 402.25L280.42 402.19L280.63 402.13L280.84 402.06L281.05 402.00L281.26 401.94L281.47 401.88L281.68 401.82L281.89 401.76L282.10 401.70L282.31 401.64L282.52 401.58L282.73 401.52L282.94 401.46L283.15 401.40L283.36 401.34L283.57 401.27L283.78 401.21L283.99 401.15L284.20 401.09L284.41 401.03L284.62 400.97L284.83 400.91L285.04 400.85L285.25 400.78L285.46 400.72L285.67 400.66L285.88 400.60L286.09 400.54L286.29 400.48L286.50 400.41L286.71 400.35L286.92 400.29L287.13 400.23L287.34 400.17L287.55 400.11L287.76 400.05L287.97 399.99L288.18 399.93L288.39 399.87L288.60 399.81L288.81 399.75L289.02 399.69L289.23 399.64L289.44 399.58L289.65 399.52L289.86 399.46L290.07 399.40L290.28 399.34L290.49 399.28L290.70 399.22L290.91 399.17L291.12 399.11L291.33 399.05L291.54 398.99L291.75 398.93L291.96 398.87L292.17 398.81L292.38 398.75L292.58 398.69L292.79 398.63L293.00 398.57L293.21 398.51L293.42 398.45L293.63 398.39L293.84 398.33L294.05 398.27L294.26 398.21L294.47 398.14L294.68 398.08L294.89 398.02L295.10 397.96L295.31 397.89L295.52 397.83L295.73 397.77L295.94 397.70L296.15 397.64L296.36 397.57L296.57 397.51L296.78 397.44L296.99 397.38L297.20 397.31L297.41 397.24L297.62 397.17L297.83 397.10L298.04 397.03L298.25 396.97L298.46 396.89L298.66 396.82L298.87 396.75L299.08 396.68L299.29 396.61L299.50 396.53L299.71 396.46L299.92 396.39L300.13 396.31L300.34 396.24L300.55 396.16L300.76 396.08L300.97 396.01L301.18 395.93L301.39 395.85L301.60 395.77L301.81 395.69L302.02 395.61L302.23 395.53L302.44 395.45L302.65 395.37L302.86 395.29L303.07 395.20L303.28 395.12L303.49 395.04L303.70 394.96L303.91 394.87L304.12 394.79L304.33 394.70L304.54 394.62L304.75 394.53L304.96 394.44L305.16 394.36L305.37 394.27L305.58 394.18L305.79 394.10L306.00 394.01L306.21 393.92L306.42 393.83L306.63 393.74L306.84 393.65L307.05 393.56L307.26 393.47L307.47 393.38L307.68 393.29L307.89 393.20L308.10 393.11" fill="none" stroke="#1f6aa5" stroke-width="1.6" stroke-linejoin="round" stroke-dasharray="1.6 1.6"/>
<path d="M56.50 461.20L56.71 461.20L56.92 461.20L57.13 461.20L57.34 461.20L57.55 461.20L57.76 461.20L57.97 461.20L58.18 461.20L58.39 461.20L58.60 461.20L58.81 461.20L59.02 461.20L59.23 461.20L59.44 461.20L59.65 461.20L59.85 461.20L60.06 461.20L60.27 461.20L60.48 461.20L60.69 461.20L60.90 461.20L61.11 461.20L61.32 461.20L61.53 461.20L61.74 461.20L61.95 461.20L62.16 461.20L62.37 461.20L62.58 461.20L62.79 461.20L63.00 461.20L63.21 461.20L63.42 461.20L63.63 461.20L63.84 461.20L64.05 461.20L64.26 461.20L64.47 461.20L64.68 461.20L64.89 461.20L65.10 461.20L65.31 461.20L65.52 461.20L65.73 461.20L65.94 461.20L66.14 461.20L66.35 461.20L66.56 461.20L66.77 461.20L66.98 461.20L67.19 461.20L67.40 461.20L67.61 461.20L67.82 461.20L68.03 461.20L68.24 461.20L68.45 461.20L68.66 461.20L68.87 461.20L69.08 461.20L69.29 461.20L69.50 461.20L69.71 461.20L69.92 461.20L70.13 461.20L70.34 461.20L70.55 461.20L70.76 461.20L70.97 461.20L71.18 461.20L71.39 461.20L71.60 461.20L71.81 461.20L72.02 461.20L72.22 461.20L72.43 461.20L72.64 461.20L72.85 461.20L73.06 461.20L73.27 461.20L73.48 461.20L73.69 461.20L73.90 461.20L74.11 461.20L74.32 461.20L74.53 461.20L74.74 461.20L74.95 461.20L75.16 461.20L75.37 461.20L75.58 461.20L75.79 461.20L76.00 461.20L76.21 461.20L76.42 461.20L76.63 461.20L76.84 461.20L77.05 461.20L77.26 461.20L77.47 461.20L77.68 461.20L77.89 461.20L78.10 461.20L78.31 461.20L78.52 461.20L78.72 461.20L78.93 461.20L79.14 461.20L79.35 461.20L79.56 461.20L79.77 461.20L79.98 461.20L80.19 461.20L80.40 461.20L80.61 461.20L80.82 461.20L81.03 461.20L81.24 461.20L81.45 461.20L81.66 461.20L81.87 461.20L82.08 461.20L82.29 461.20L82.50 461.20L82.71 461.20L82.92 461.20L83.13 461.20L83.34 461.20L83.55 461.20L83.76 461.20L83.97 461.20L84.18 461.20L84.39 461.20L84.60 461.20L84.81 461.20L85.01 461.20L85.22 461.20L85.43 461.20L85.64 461.20L85.85 461.20L86.06 461.20L86.27 461.20L86.48 461.20L86.69 461.20L86.90 461.20L87.11 461.20L87.32 461.20L87.53 461.20L87.74 461.20L87.95 461.20L88.16 461.20L88.37 461.20L88.58 461.20L88.79 461.20L89.00 461.20L89.21 461.20L89.42 461.20L89.63 461.20L89.84 461.20L90.05 461.20L90.26 461.20L90.47 461.20L90.68 461.20L90.89 461.20L91.09 461.20L91.30 461.20L91.51 461.20L91.72 461.20L91.93 461.20L92.14 461.20L92.35 461.20L92.56 461.20L92.77 461.20L92.98 461.20L93.19 461.20L93.40 461.20L93.61 461.20L93.82 461.20L94.03 461.20L94.24 461.20L94.45 461.20L94.66 461.20L94.87 461.20L95.08 461.20L95.29 461.20L95.50 461.20L95.71 461.20L95.92 461.20L96.13 461.20L96.34 461.20L96.55 461.20L96.76 461.20L96.97 461.20L97.18 461.20L97.38 461.20L97.59 461.20L97.80 461.20L98.01 461.20L98.22 461.20L98.43 461.20L98.64 461.20L98.85 461.20L99.06 461.20L99.27 461.20L99.48 461.20L99.69 461.20L99.90 461.20L100.11 461.20L100.32 461.20L100.53 461.20L100.74 461.20L100.95 461.20L101.16 461.20L101.37 461.20L101.58 461.20L101.79 461.20L102.00 461.20L102.21 461.20L102.42 461.20L102.63 461.20L102.84 461.20L103.05 461.20L103.26 461.20L103.47 461.20L103.67 461.20L103.88 461.20L104.09 461.20L104.30 461.20L104.51 461.20L104.72 461.20L104.93 461.20L105.14 461.20L105.35 461.20L105.56 461.20L105.77 461.20L105.98 461.20L106.19 461.20L106.40 461.20L106.61 461.20L106.82 461.20L107.03 461.20L107.24 461.20L107.45 461.20L107.66 461.20L107.87 461.20L108.08 461.20L108.29 461.20L108.50 461.20L108.71 461.20L108.92 461.20L109.13 461.20L109.34 461.20L109.55 461.20L109.76 461.20L109.97 461.20L110.17 461.20L110.38 461.20L110.59 461.20L110.80 461.20L111.01 461.20L111.22 461.20L111.43 461.20L111.64 461.20L111.85 461.20L112.06 461.20L112.27 461.20L112.48 461.20L112.69 461.20L112.90 461.20L113.11 461.20L113.32 461.20L113.53 461.20L113.74 461.20L113.95 461.20L114.16 461.20L114.37 461.20L114.58 461.20L114.79 461.20L115.00 461.20L115.21 461.20L115.42 461.20L115.63 461.20L115.84 461.20L116.05 461.20L116.25 461.20L116.46 461.20L116.67 461.20L116.88 461.20L117.09 461.20L117.30 461.20L117.51 461.20L117.72 461.20L117.93 461.20L118.14 461.20L118.35 461.20L118.56 461.20L118.77 461.20L118.98 461.20L119.19 461.20L119.40 461.20L119.61 461.20L119.82 461.20L120.03 461.20L120.24 461.20L120.45 461.20L120.66 461.20L120.87 461.20L121.08 461.20L121.29 461.20L121.50 461.20L121.71 461.20L121.92 461.20L122.13 461.20L122.34 461.20L122.55 461.20L122.75 461.20L122.96 461.20L123.17 461.20L123.38 461.20L123.59 461.20L123.80 461.20L124.01 461.20L124.22 461.20L124.43 461.20L124.64 461.20L124.85 461.20L125.06 461.20L125.27 461.20L125.48 461.20L125.69 461.20L125.90 461.20L126.11 461.20L126.32 461.20L126.53 461.20L126.74 461.20L126.95 461.20L127.16 461.20L127.37 461.20L127.58 461.20L127.79 461.20L128.00 461.20L128.21 461.20L128.42 461.20L128.63 461.20L128.84 461.20L129.04 461.20L129.25 461.20L129.46 461.20L129.67 461.20L129.88 461.20L130.09 461.20L130.30 461.20L130.51 461.20L130.72 461.20L130.93 461.20L131.14 461.20L131.35 461.20L131.56 461.20L131.77 461.20L131.98 461.20L132.19 461.20L132.40 461.20L132.61 461.20L132.82 461.20L133.03 461.20L133.24 461.20L133.45 461.20L133.66 461.38L133.87 460.35L134.08 459.07L134.29 458.79L134.50 458.40L134.71 456.15L134.92 455.06L135.12 454.56L135.33 452.71L135.54 450.65L135.75 449.55L135.96 448.15L136.17 446.28L136.38 444.27L136.59 442.54L136.80 440.87L137.01 439.26L137.22 437.69L137.43 435.46L137.64 433.02L137.85 430.71L138.06 429.09L138.27 426.74L138.48 423.86L138.69 421.62L138.90 419.38L139.11 416.77L139.32 414.53L139.53 411.68L139.74 408.31L139.95 405.84L140.16 402.87L140.37 400.19L140.58 397.77L140.79 394.67L141.00 390.98L141.21 388.28L141.42 385.57L141.62 381.60L141.83 378.47L142.04 375.25L142.25 372.64L142.46 370.82L142.67 367.58L142.88 364.68L143.09 362.49L143.30 360.01L143.51 357.15L143.72 354.15L143.93 352.40L144.14 350.16L144.35 347.76L144.56 346.03L144.77 344.10L144.98 342.27L145.19 340.37L145.40 338.55L145.61 337.22L145.82 335.41L146.03 333.94L146.24 332.65L146.45 330.88L146.66 329.12L146.87 328.08L147.08 326.75L147.29 325.36L147.50 324.87L147.71 324.13L147.91 322.98L148.12 321.95L148.33 321.66L148.54 321.22L148.75 320.25L148.96 319.32L149.17 318.05L149.38 316.68L149.59 316.05L149.80 315.71L150.01 315.51L150.22 315.05L150.43 314.16L150.64 313.11L150.85 312.77L151.06 313.27L151.27 313.39L151.48 313.40L151.69 313.69L151.90 313.69L152.11 313.56L152.32 313.15L152.53 313.48L152.74 313.95L152.95 313.80L153.16 314.61L153.37 315.11L153.58 315.40L153.79 316.55L154.00 317.23L154.20 317.66L154.41 318.40L154.62 319.06L154.83 319.55L155.04 319.96L155.25 320.89L155.46 321.63L155.67 322.43L155.88 322.93L156.09 322.88L156.30 323.56L156.51 324.37L156.72 324.98L156.93 326.05L157.14 327.12L157.35 327.60L157.56 328.07L157.77 328.99L157.98 329.40L158.19 330.45L158.40 331.84L158.61 332.33L158.82 333.58L159.03 335.12L159.24 336.32L159.45 336.88L159.66 337.01L159.87 337.80L160.08 338.91L160.29 339.92L160.49 340.62L160.70 341.98L160.91 342.89L161.12 343.04L161.33 344.35L161.54 344.50L161.75 345.32L161.96 347.15L162.17 347.92L162.38 348.08L162.59 348.82L162.80 349.80L163.01 350.20L163.22 351.19L163.43 352.66L163.64 353.83L163.85 353.83L164.06 354.96L164.27 356.68L164.48 357.27L164.69 357.70L164.90 358.52L165.11 359.47L165.32 360.81L165.53 361.66L165.74 362.05L165.95 363.71L166.16 364.27L166.37 363.89L166.58 365.40L166.78 366.87L166.99 366.98L167.20 368.23L167.41 370.04L167.62 370.74L167.83 371.05L168.04 371.56L168.25 371.92L168.46 372.37L168.67 373.65L168.88 374.24L169.09 373.93L169.30 374.39L169.51 375.29L169.72 376.26L169.93 376.85L170.14 377.71L170.35 378.32L170.56 378.57L170.77 378.96L170.98 379.30L171.19 380.48L171.40 381.07L171.61 380.84L171.82 381.70L172.03 382.71L172.24 383.05L172.45 383.79L172.66 383.69L172.87 383.25L173.07 383.72L173.28 384.46L173.49 385.12L173.70 385.51L173.91 386.10L174.12 386.27L174.33 386.08L174.54 386.42L174.75 387.25L174.96 387.84L175.17 388.05L175.38 387.83L175.59 388.02L175.80 389.45L176.01 389.67L176.22 388.80L176.43 389.01L176.64 389.62L176.85 390.12L177.06 391.30L177.27 392.17L177.48 392.24L177.69 392.02L177.90 391.83L178.11 391.86L178.32 392.35L178.53 392.55L178.74 392.80L178.95 393.58L179.16 393.49L179.36 393.81L179.57 395.17L179.78 395.45L179.99 394.80L180.20 395.64L180.41 395.98L180.62 395.32L180.83 395.83L181.04 396.35L181.25 396.20L181.46 396.05L181.67 395.64L181.88 395.45L182.09 396.42L182.30 396.87L182.51 396.21L182.72 395.39L182.93 395.50L183.14 395.99L183.35 395.52L183.56 395.61L183.77 396.27L183.98 396.68L184.19 396.72L184.40 395.58L184.61 395.82L184.82 396.46L185.03 396.41L185.24 396.34L185.45 395.58L185.65 395.64L185.86 395.64L186.07 395.29L186.28 395.32L186.49 394.95L186.70 394.79L186.91 395.36L187.12 395.74L187.33 395.85L187.54 395.42L187.75 395.19L187.96 394.43L188.17 393.69L188.38 394.53L188.59 395.14L188.80 394.47L189.01 394.87L189.22 395.44L189.43 394.47L189.64 394.50L189.85 394.83L190.06 394.53L190.27 394.06L190.48 393.77L190.69 393.71L190.90 393.43L191.11 393.39L191.32 393.08L191.53 393.16L191.74 394.33L191.94 394.75L192.15 394.69L192.36 393.84L192.57 392.19L192.78 391.62L192.99 392.36L193.20 392.88L193.41 392.67L193.62 392.13L193.83 391.98L194.04 392.39L194.25 392.17L194.46 390.65L194.67 391.43L194.88 391.98L195.09 391.79L195.30 391.38L195.51 390.44L195.72 391.51L195.93 390.84L196.14 388.46L196.35 388.24L196.56 388.39L196.77 388.28L196.98 389.91L197.19 389.37L197.40 388.19L197.61 389.05L197.82 388.17L198.03 386.98L198.23 387.51L198.44 386.98L198.65 386.98L198.86 386.92L199.07 386.79L199.28 386.69L199.49 386.63L199.70 385.96L199.91 385.08L200.12 385.00L200.33 385.51L200.54 386.50L200.75 385.52L200.96 386.75L201.17 387.80L201.38 385.71L201.59 384.88L201.80 384.95L202.01 385.44L202.22 385.73L202.43 386.05L202.64 387.22L202.85 387.87L203.06 387.52L203.27 387.01L203.48 387.19L203.69 389.01L203.90 389.93L204.11 388.41L204.31 387.30L204.52 387.50L204.73 388.33L204.94 389.48L205.15 388.05L205.36 387.57L205.57 387.95L205.78 386.66L205.99 387.64L206.20 389.03L206.41 389.31L206.62 389.83L206.83 389.95L207.04 389.50L207.25 389.53L207.46 389.19L207.67 388.71L207.88 389.64L208.09 390.23L208.30 390.66L208.51 391.95L208.72 392.07L208.93 392.35L209.14 391.68L209.35 390.86L209.56 390.93L209.77 391.70L209.98 392.50L210.19 393.06L210.40 394.11L210.61 393.80L210.81 393.26L211.02 394.39L211.23 394.48L211.44 395.10L211.65 395.79L211.86 395.44L212.07 395.91L212.28 396.43L212.49 395.87L212.70 395.22L212.91 395.37L213.12 395.89L213.33 397.57L213.54 398.16L213.75 398.41L213.96 398.27L214.17 397.27L214.38 397.67L214.59 399.02L214.80 399.74L215.01 399.63L215.22 400.56L215.43 400.93L215.64 400.34L215.85 401.05L216.06 401.70L216.27 401.61L216.48 402.13L216.69 402.97L216.90 402.34L217.10 402.02L217.31 401.76L217.52 402.65L217.73 404.79L217.94 403.92L218.15 402.60L218.36 403.73L218.57 405.28L218.78 405.09L218.99 405.43L219.20 405.78L219.41 406.20L219.62 406.32L219.83 406.46L220.04 406.63L220.25 404.77L220.46 404.95L220.67 405.52L220.88 405.88L221.09 406.96L221.30 407.58L221.51 406.65L221.72 405.98L221.93 405.79L222.14 406.55L222.35 407.71L222.56 407.13L222.77 406.34L222.98 405.48L223.19 406.74L223.39 408.50L223.60 409.21L223.81 407.94L224.02 407.13L224.23 408.34L224.44 408.42L224.65 409.59L224.86 410.62L225.07 408.77L225.28 407.68L225.49 408.21L225.70 409.08L225.91 408.92L226.12 407.46L226.33 408.56L226.54 409.62L226.75 409.26L226.96 409.15L227.17 408.98L227.38 409.33L227.59 409.91L227.80 409.90L228.01 409.82L228.22 409.96L228.43 409.72L228.64 409.33L228.85 409.68L229.06 410.28L229.27 409.41L229.47 409.41L229.68 410.20L229.89 409.65L230.10 409.40L230.31 409.88L230.52 409.96L230.73 410.76L230.94 410.67L231.15 409.29L231.36 409.28L231.57 410.93L231.78 411.14L231.99 410.83L232.20 411.16L232.41 410.62L232.62 411.21L232.83 410.58L233.04 409.99L233.25 410.33L233.46 409.98L233.67 409.71L233.88 409.44L234.09 411.04L234.30 411.71L234.51 412.11L234.72 412.41L234.93 410.84L235.14 410.11L235.35 409.81L235.56 410.54L235.77 411.10L235.97 410.85L236.18 410.33L236.39 409.50L236.60 410.41L236.81 409.19L237.02 408.99L237.23 411.29L237.44 410.95L237.65 410.31L237.86 410.32L238.07 411.08L238.28 410.54L238.49 410.13L238.70 410.06L238.91 409.28L239.12 410.82L239.33 412.10L239.54 411.91L239.75 411.19L239.96 410.56L240.17 410.51L240.38 410.95L240.59 410.81L240.80 409.53L241.01 410.46L241.22 411.31L241.43 410.37L241.64 410.28L241.85 410.48L242.06 409.37L242.26 408.49L242.47 408.95L242.68 410.04L242.89 409.21L243.10 408.53L243.31 410.04L243.52 410.38L243.73 410.27L243.94 408.84L244.15 408.39L244.36 409.47L244.57 410.71L244.78 410.25L244.99 409.56L245.20 410.51L245.41 409.49L245.62 409.25L245.83 409.03L246.04 407.82L246.25 409.19L246.46 409.79L246.67 409.56L246.88 409.41L247.09 407.92L247.30 408.54L247.51 407.94L247.72 407.25L247.93 408.81L248.14 408.60L248.34 407.39L248.55 407.99L248.76 408.33L248.97 408.23L249.18 407.46L249.39 406.52L249.60 407.34L249.81 406.76L250.02 407.16L250.23 407.87L250.44 406.04L250.65 405.81L250.86 406.00L251.07 405.74L251.28 406.80L251.49 406.97L251.70 406.45L251.91 406.46L252.12 406.88L252.33 407.01L252.54 407.30L252.75 406.72L252.96 405.59L253.17 405.16L253.38 406.31L253.59 406.20L253.80 405.12L254.01 406.29L254.22 406.15L254.43 404.82L254.64 404.50L254.84 404.48L255.05 404.16L255.26 403.99L255.47 404.46L255.68 406.05L255.89 406.38L256.10 404.94L256.31 404.71L256.52 404.45L256.73 403.67L256.94 403.95L257.15 403.28L257.36 403.78L257.57 404.23L257.78 403.88L257.99 404.76L258.20 404.10L258.41 403.94L258.62 403.72L258.83 403.96L259.04 404.35L259.25 404.10L259.46 404.19L259.67 403.86L259.88 404.29L260.09 403.65L260.30 403.65L260.51 404.50L260.72 403.24L260.92 402.09L261.13 402.15L261.34 402.44L261.55 401.48L261.76 402.28L261.97 403.90L262.18 403.72L262.39 402.74L262.60 401.97L262.81 401.78L263.02 401.34L263.23 402.02L263.44 402.96L263.65 403.32L263.86 401.57L264.07 400.41L264.28 401.25L264.49 401.92L264.70 402.30L264.91 402.24L265.12 402.25L265.33 403.33L265.54 403.12L265.75 401.94L265.96 401.68L266.17 401.29L266.38 400.91L266.59 400.98L266.80 400.95L267.01 402.31L267.22 403.31L267.42 400.86L267.63 400.87L267.84 401.92L268.05 400.79L268.26 401.07L268.47 401.01L268.68 401.25L268.89 402.67L269.10 402.56L269.31 402.36L269.52 401.57L269.73 400.77L269.94 400.53L270.15 400.87L270.36 399.59L270.57 399.01L270.78 400.40L270.99 400.05L271.20 400.11L271.41 400.66L271.62 400.43L271.83 399.52L272.04 399.15L272.25 399.09L272.46 399.73L272.67 400.64L272.88 399.17L273.09 398.83L273.30 399.64L273.50 399.05L273.71 398.49L273.92 399.61L274.13 400.63L274.34 400.08L274.55 399.95L274.76 401.01L274.97 400.87L275.18 401.10L275.39 400.85L275.60 398.91L275.81 398.71L276.02 399.65L276.23 399.42L276.44 399.20L276.65 400.39L276.86 400.43L277.07 400.19L277.28 399.53L277.49 398.57L277.70 399.81L277.91 400.55L278.12 398.85L278.33 398.41L278.54 398.61L278.75 399.53L278.96 399.26L279.17 399.27L279.38 399.67L279.59 398.02L279.80 397.06L280.00 397.51L280.21 398.05L280.42 398.65L280.63 399.39L280.84 398.38L281.05 398.09L281.26 398.79L281.47 399.56L281.68 399.39L281.89 398.23L282.10 398.73L282.31 399.36L282.52 398.02L282.73 397.62L282.94 398.64L283.15 399.36L283.36 399.52L283.57 399.01L283.78 397.89L283.99 398.07L284.20 397.82L284.41 397.98L284.62 399.16L284.83 398.16L285.04 398.07L285.25 398.99L285.46 398.91L285.67 398.18L285.88 399.05L286.09 399.42L286.29 398.51L286.50 398.58L286.71 398.09L286.92 398.17L287.13 398.76L287.34 398.41L287.55 397.78L287.76 397.91L287.97 397.45L288.18 397.81L288.39 397.92L288.60 397.88L288.81 398.67L289.02 397.97L289.23 396.71L289.44 396.40L289.65 397.75L289.86 397.51L290.07 397.38L290.28 398.53L290.49 398.14L290.70 397.63L290.91 397.33L291.12 397.68L291.33 397.98L291.54 397.30L291.75 397.34L291.96 397.69L292.17 398.22L292.38 397.69L292.58 397.20L292.79 397.41L293.00 397.67L293.21 397.92L293.42 398.29L293.63 398.23L293.84 397.21L294.05 397.19L294.26 397.12L294.47 396.98L294.68 396.68L294.89 396.95L295.10 398.60L295.31 398.24L295.52 397.40L295.73 398.17L295.94 397.70L296.15 396.99L296.36 397.08L296.57 397.40L296.78 397.52L296.99 397.17L297.20 396.28L297.41 396.78L297.62 397.75L297.83 397.15L298.04 398.09L298.25 399.16L298.46 396.97L298.66 397.04L298.87 397.91L299.08 397.38L299.29 398.10L299.50 398.71L299.71 398.76L299.92 397.20L300.13 397.45L300.34 397.53L300.55 396.55L300.76 395.74L300.97 396.15L301.18 396.54L301.39 395.76L301.60 396.59L301.81 397.99L302.02 396.96L302.23 396.76L302.44 397.84L302.65 396.56L302.86 395.64L303.07 396.57L303.28 397.18L303.49 396.83L303.70 396.12L303.91 394.55L304.12 396.19L304.33 397.04L304.54 397.58L304.75 398.05L304.96 397.04L305.16 395.91L305.37 395.16L305.58 396.65L305.79 396.99L306.00 396.86L306.21 396.44L306.42 396.17L306.63 395.88L306.84 394.89L307.05 394.83L307.26 396.34L307.47 397.60L307.68 397.30L307.89 395.77L308.10 395.50" fill="none" stroke="#cc2226" stroke-width="1.9" stroke-linejoin="round"/>
<path d="M56.50 461.20L56.71 461.20L56.92 461.20L57.13 461.20L57.34 461.20L57.55 461.20L57.76 461.20L57.97 461.20L58.18 461.20L58.39 461.20L58.60 461.20L58.81 461.20L59.02 461.20L59.23 461.20L59.44 461.20L59.65 461.20L59.85 461.20L60.06 461.20L60.27 461.20L60.48 461.20L60.69 461.20L60.90 461.20L61.11 461.20L61.32 461.20L61.53 461.20L61.74 461.20L61.95 461.20L62.16 461.20L62.37 461.20L62.58 461.20L62.79 461.20L63.00 461.20L63.21 461.20L63.42 461.20L63.63 461.20L63.84 461.20L64.05 461.20L64.26 461.20L64.47 461.20L64.68 461.20L64.89 461.20L65.10 461.20L65.31 461.20L65.52 461.20L65.73 461.20L65.94 461.20L66.14 461.20L66.35 461.20L66.56 461.20L66.77 461.20L66.98 461.20L67.19 461.20L67.40 461.20L67.61 461.20L67.82 461.20L68.03 461.20L68.24 461.20L68.45 461.20L68.66 461.20L68.87 461.20L69.08 461.20L69.29 461.20L69.50 461.20L69.71 461.20L69.92 461.20L70.13 461.20L70.34 461.20L70.55 461.20L70.76 461.20L70.97 461.20L71.18 461.20L71.39 461.20L71.60 461.20L71.81 461.20L72.02 461.20L72.22 461.20L72.43 461.20L72.64 461.20L72.85 461.20L73.06 461.20L73.27 461.20L73.48 461.20L73.69 461.20L73.90 461.20L74.11 461.20L74.32 461.20L74.53 461.20L74.74 461.20L74.95 461.20L75.16 461.20L75.37 461.20L75.58 461.20L75.79 461.20L76.00 461.20L76.21 461.20L76.42 461.20L76.63 461.20L76.84 461.20L77.05 461.20L77.26 461.20L77.47 461.20L77.68 461.20L77.89 461.20L78.10 461.20L78.31 461.20L78.52 461.20L78.72 461.20L78.93 461.20L79.14 461.20L79.35 461.20L79.56 461.20L79.77 461.20L79.98 461.20L80.19 461.20L80.40 461.20L80.61 461.20L80.82 461.20L81.03 461.20L81.24 461.20L81.45 461.20L81.66 461.20L81.87 461.20L82.08 461.20L82.29 461.20L82.50 461.20L82.71 461.20L82.92 461.20L83.13 461.20L83.34 461.20L83.55 461.20L83.76 461.20L83.97 461.20L84.18 461.20L84.39 461.20L84.60 461.20L84.81 461.20L85.01 461.20L85.22 461.20L85.43 461.20L85.64 461.20L85.85 461.20L86.06 461.20L86.27 461.20L86.48 461.20L86.69 461.20L86.90 461.20L87.11 461.20L87.32 461.20L87.53 461.20L87.74 461.20L87.95 461.20L88.16 461.20L88.37 461.20L88.58 461.20L88.79 461.20L89.00 461.20L89.21 461.20L89.42 461.20L89.63 461.20L89.84 461.20L90.05 461.20L90.26 461.20L90.47 461.20L90.68 461.20L90.89 461.20L91.09 461.20L91.30 461.20L91.51 461.20L91.72 461.20L91.93 461.20L92.14 461.20L92.35 461.20L92.56 461.20L92.77 461.20L92.98 461.20L93.19 461.20L93.40 461.20L93.61 461.20L93.82 461.20L94.03 461.20L94.24 461.20L94.45 461.20L94.66 461.20L94.87 461.20L95.08 461.20L95.29 461.20L95.50 461.20L95.71 461.20L95.92 461.20L96.13 461.20L96.34 461.20L96.55 461.20L96.76 461.20L96.97 461.20L97.18 461.20L97.38 461.20L97.59 461.20L97.80 461.20L98.01 461.20L98.22 461.20L98.43 461.20L98.64 461.20L98.85 461.20L99.06 461.20L99.27 461.20L99.48 461.20L99.69 461.20L99.90 461.20L100.11 461.20L100.32 461.20L100.53 461.20L100.74 461.20L100.95 461.20L101.16 461.20L101.37 461.20L101.58 461.20L101.79 461.20L102.00 461.20L102.21 461.20L102.42 461.20L102.63 461.20L102.84 461.20L103.05 461.20L103.26 461.20L103.47 461.20L103.67 461.20L103.88 461.20L104.09 461.20L104.30 461.20L104.51 461.20L104.72 461.20L104.93 461.20L105.14 461.20L105.35 461.20L105.56 461.20L105.77 461.20L105.98 461.20L106.19 461.20L106.40 461.20L106.61 461.20L106.82 461.20L107.03 461.20L107.24 461.20L107.45 461.20L107.66 461.20L107.87 461.20L108.08 461.20L108.29 461.20L108.50 461.20L108.71 461.20L108.92 461.20L109.13 461.20L109.34 461.20L109.55 461.20L109.76 461.20L109.97 461.20L110.17 461.20L110.38 461.20L110.59 461.20L110.80 461.20L111.01 461.20L111.22 461.20L111.43 461.20L111.64 461.20L111.85 461.20L112.06 461.20L112.27 461.20L112.48 461.20L112.69 461.20L112.90 461.20L113.11 461.20L113.32 461.20L113.53 461.20L113.74 461.20L113.95 461.20L114.16 461.20L114.37 461.20L114.58 461.20L114.79 461.20L115.00 461.20L115.21 461.20L115.42 461.20L115.63 461.20L115.84 461.20L116.05 461.20L116.25 461.20L116.46 461.20L116.67 461.20L116.88 461.20L117.09 461.20L117.30 461.20L117.51 461.20L117.72 461.20L117.93 461.20L118.14 461.20L118.35 461.20L118.56 461.20L118.77 461.20L118.98 461.20L119.19 461.20L119.40 461.20L119.61 461.20L119.82 461.20L120.03 461.20L120.24 461.20L120.45 461.20L120.66 461.20L120.87 461.20L121.08 461.20L121.29 461.20L121.50 461.20L121.71 461.20L121.92 461.20L122.13 461.20L122.34 461.20L122.55 461.20L122.75 461.20L122.96 461.20L123.17 461.20L123.38 461.20L123.59 461.20L123.80 461.20L124.01 461.20L124.22 461.20L124.43 461.20L124.64 461.20L124.85 461.20L125.06 461.20L125.27 461.20L125.48 461.20L125.69 461.20L125.90 461.20L126.11 461.20L126.32 461.20L126.53 461.20L126.74 461.20L126.95 461.20L127.16 461.20L127.37 461.20L127.58 461.20L127.79 461.20L128.00 461.20L128.21 461.20L128.42 461.20L128.63 461.20L128.84 461.20L129.04 461.20L129.25 461.20L129.46 461.20L129.67 461.20L129.88 461.20L130.09 461.20L130.30 461.20L130.51 461.20L130.72 461.20L130.93 461.20L131.14 461.20L131.35 461.20L131.56 461.20L131.77 461.20L131.98 461.20L132.19 461.20L132.40 461.20L132.61 461.20L132.82 461.20L133.03 461.20L133.24 461.20L133.45 461.20L133.66 461.20L133.87 461.20L134.08 461.20L134.29 461.20L134.50 461.20L134.71 461.20L134.92 461.20L135.12 461.20L135.33 461.20L135.54 461.20L135.75 461.20L135.96 461.20L136.17 461.14L136.38 460.72L136.59 459.96L136.80 458.93L137.01 457.71L137.22 456.39L137.43 455.05L137.64 453.77L137.85 452.47L138.06 451.02L138.27 449.45L138.48 447.78L138.69 446.04L138.90 444.23L139.11 442.39L139.32 440.53L139.53 438.68L139.74 436.85L139.95 435.06L140.16 433.34L140.37 431.66L140.58 429.96L140.79 428.24L141.00 426.52L141.21 424.80L141.42 423.08L141.62 421.37L141.83 419.68L142.04 418.00L142.25 416.34L142.46 414.72L142.67 413.12L142.88 411.57L143.09 410.05L143.30 408.58L143.51 407.17L143.72 405.79L143.93 404.44L144.14 403.13L144.35 401.85L144.56 400.58L144.77 399.33L144.98 398.08L145.19 396.85L145.40 395.61L145.61 394.36L145.82 393.11L146.03 391.84L146.24 390.56L146.45 389.28L146.66 388.01L146.87 386.75L147.08 385.51L147.29 384.29L147.50 383.11L147.71 381.97L147.91 380.84L148.12 379.72L148.33 378.59L148.54 377.47L148.75 376.36L148.96 375.27L149.17 374.21L149.38 373.18L149.59 372.19L149.80 371.24L150.01 370.34L150.22 369.50L150.43 368.71L150.64 367.99L150.85 367.29L151.06 366.59L151.27 365.91L151.48 365.24L151.69 364.60L151.90 363.99L152.11 363.41L152.32 362.87L152.53 362.37L152.74 361.93L152.95 361.53L153.16 361.20L153.37 360.92L153.58 360.68L153.79 360.45L154.00 360.22L154.20 360.00L154.41 359.79L154.62 359.59L154.83 359.41L155.04 359.23L155.25 359.07L155.46 358.92L155.67 358.79L155.88 358.68L156.09 358.59L156.30 358.52L156.51 358.47L156.72 358.45L156.93 358.45L157.14 358.48L157.35 358.53L157.56 358.61L157.77 358.71L157.98 358.82L158.19 358.96L158.40 359.11L158.61 359.28L158.82 359.46L159.03 359.65L159.24 359.85L159.45 360.06L159.66 360.27L159.87 360.49L160.08 360.71L160.29 360.92L160.49 361.16L160.70 361.43L160.91 361.74L161.12 362.07L161.33 362.43L161.54 362.82L161.75 363.21L161.96 363.62L162.17 364.03L162.38 364.45L162.59 364.87L162.80 365.28L163.01 365.68L163.22 366.07L163.43 366.46L163.64 366.85L163.85 367.25L164.06 367.66L164.27 368.07L164.48 368.48L164.69 368.89L164.90 369.31L165.11 369.72L165.32 370.14L165.53 370.57L165.74 370.99L165.95 371.41L166.16 371.83L166.37 372.26L166.58 372.68L166.78 373.10L166.99 373.52L167.20 373.94L167.41 374.36L167.62 374.77L167.83 375.18L168.04 375.59L168.25 376.00L168.46 376.40L168.67 376.80L168.88 377.21L169.09 377.62L169.30 378.03L169.51 378.45L169.72 378.87L169.93 379.29L170.14 379.71L170.35 380.13L170.56 380.54L170.77 380.96L170.98 381.37L171.19 381.77L171.40 382.17L171.61 382.57L171.82 382.95L172.03 383.33L172.24 383.70L172.45 384.06L172.66 384.41L172.87 384.75L173.07 385.07L173.28 385.38L173.49 385.68L173.70 385.97L173.91 386.26L174.12 386.56L174.33 386.85L174.54 387.14L174.75 387.43L174.96 387.71L175.17 387.99L175.38 388.27L175.59 388.54L175.80 388.80L176.01 389.06L176.22 389.31L176.43 389.54L176.64 389.77L176.85 389.99L177.06 390.20L177.27 390.39L177.48 390.57L177.69 390.74L177.90 390.89L178.11 391.03L178.32 391.15L178.53 391.25L178.74 391.35L178.95 391.44L179.16 391.53L179.36 391.62L179.57 391.70L179.78 391.79L179.99 391.87L180.20 391.96L180.41 392.04L180.62 392.12L180.83 392.19L181.04 392.27L181.25 392.34L181.46 392.41L181.67 392.47L181.88 392.54L182.09 392.60L182.30 392.66L182.51 392.71L182.72 392.76L182.93 392.81L183.14 392.86L183.35 392.90L183.56 392.94L183.77 392.97L183.98 393.00L184.19 393.03L184.40 393.06L184.61 393.07L184.82 393.09L185.03 393.10L185.24 393.11L185.45 393.11L185.65 393.11L185.86 393.10L186.07 393.09L186.28 393.07L186.49 393.05L186.70 393.02L186.91 392.99L187.12 392.96L187.33 392.92L187.54 392.88L187.75 392.84L187.96 392.79L188.17 392.74L188.38 392.69L188.59 392.63L188.80 392.58L189.01 392.52L189.22 392.46L189.43 392.40L189.64 392.34L189.85 392.27L190.06 392.21L190.27 392.14L190.48 392.08L190.69 392.01L190.90 391.94L191.11 391.88L191.32 391.81L191.53 391.75L191.74 391.68L191.94 391.62L192.15 391.56L192.36 391.50L192.57 391.44L192.78 391.38L192.99 391.33L193.20 391.28L193.41 391.23L193.62 391.18L193.83 391.12L194.04 391.07L194.25 391.01L194.46 390.95L194.67 390.88L194.88 390.82L195.09 390.76L195.30 390.69L195.51 390.63L195.72 390.56L195.93 390.50L196.14 390.43L196.35 390.36L196.56 390.30L196.77 390.23L196.98 390.17L197.19 390.11L197.40 390.05L197.61 389.99L197.82 389.93L198.03 389.87L198.23 389.82L198.44 389.76L198.65 389.72L198.86 389.67L199.07 389.62L199.28 389.58L199.49 389.55L199.70 389.51L199.91 389.48L200.12 389.46L200.33 389.44L200.54 389.42L200.75 389.41L200.96 389.40L201.17 389.40L201.38 389.40L201.59 389.41L201.80 389.42L202.01 389.44L202.22 389.46L202.43 389.49L202.64 389.52L202.85 389.56L203.06 389.60L203.27 389.64L203.48 389.69L203.69 389.74L203.90 389.80L204.11 389.86L204.31 389.92L204.52 389.99L204.73 390.06L204.94 390.13L205.15 390.20L205.36 390.28L205.57 390.36L205.78 390.44L205.99 390.52L206.20 390.61L206.41 390.70L206.62 390.79L206.83 390.88L207.04 390.97L207.25 391.06L207.46 391.15L207.67 391.25L207.88 391.34L208.09 391.44L208.30 391.54L208.51 391.63L208.72 391.73L208.93 391.82L209.14 391.92L209.35 392.03L209.56 392.15L209.77 392.27L209.98 392.41L210.19 392.56L210.40 392.71L210.61 392.87L210.81 393.04L211.02 393.21L211.23 393.39L211.44 393.57L211.65 393.76L211.86 393.94L212.07 394.14L212.28 394.33L212.49 394.52L212.70 394.71L212.91 394.90L213.12 395.09L213.33 395.28L213.54 395.47L213.75 395.65L213.96 395.83L214.17 396.00L214.38 396.17L214.59 396.33L214.80 396.48L215.01 396.62L215.22 396.76L215.43 396.89L215.64 397.01L215.85 397.13L216.06 397.25L216.27 397.37L216.48 397.49L216.69 397.60L216.90 397.71L217.10 397.82L217.31 397.93L217.52 398.04L217.73 398.14L217.94 398.25L218.15 398.35L218.36 398.45L218.57 398.55L218.78 398.65L218.99 398.75L219.20 398.85L219.41 398.94L219.62 399.04L219.83 399.13L220.04 399.23L220.25 399.32L220.46 399.41L220.67 399.50L220.88 399.60L221.09 399.69L221.30 399.78L221.51 399.87L221.72 399.96L221.93 400.06L222.14 400.15L222.35 400.24L222.56 400.33L222.77 400.42L222.98 400.51L223.19 400.59L223.39 400.68L223.60 400.77L223.81 400.86L224.02 400.94L224.23 401.03L224.44 401.11L224.65 401.20L224.86 401.28L225.07 401.37L225.28 401.45L225.49 401.53L225.70 401.62L225.91 401.70L226.12 401.78L226.33 401.86L226.54 401.94L226.75 402.02L226.96 402.10L227.17 402.18L227.38 402.26L227.59 402.33L227.80 402.41L228.01 402.49L228.22 402.57L228.43 402.64L228.64 402.72L228.85 402.79L229.06 402.87L229.27 402.94L229.47 403.01L229.68 403.09L229.89 403.16L230.10 403.24L230.31 403.31L230.52 403.38L230.73 403.46L230.94 403.53L231.15 403.61L231.36 403.68L231.57 403.76L231.78 403.83L231.99 403.90L232.20 403.98L232.41 404.05L232.62 404.12L232.83 404.20L233.04 404.27L233.25 404.34L233.46 404.41L233.67 404.48L233.88 404.54L234.09 404.61L234.30 404.68L234.51 404.74L234.72 404.81L234.93 404.87L235.14 404.93L235.35 404.99L235.56 405.05L235.77 405.11L235.97 405.17L236.18 405.22L236.39 405.27L236.60 405.32L236.81 405.37L237.02 405.42L237.23 405.47L237.44 405.51L237.65 405.56L237.86 405.60L238.07 405.65L238.28 405.69L238.49 405.74L238.70 405.78L238.91 405.83L239.12 405.88L239.33 405.92L239.54 405.97L239.75 406.01L239.96 406.06L240.17 406.10L240.38 406.14L240.59 406.18L240.80 406.23L241.01 406.27L241.22 406.31L241.43 406.34L241.64 406.38L241.85 406.42L242.06 406.45L242.26 406.48L242.47 406.51L242.68 406.54L242.89 406.57L243.10 406.60L243.31 406.62L243.52 406.64L243.73 406.66L243.94 406.68L244.15 406.69L244.36 406.71L244.57 406.72L244.78 406.72L244.99 406.73L245.20 406.73L245.41 406.73L245.62 406.72L245.83 406.72L246.04 406.71L246.25 406.70L246.46 406.69L246.67 406.68L246.88 406.66L247.09 406.65L247.30 406.63L247.51 406.61L247.72 406.59L247.93 406.57L248.14 406.54L248.34 406.52L248.55 406.49L248.76 406.46L248.97 406.43L249.18 406.40L249.39 406.37L249.60 406.34L249.81 406.31L250.02 406.28L250.23 406.24L250.44 406.21L250.65 406.17L250.86 406.14L251.07 406.10L251.28 406.07L251.49 406.03L251.70 405.99L251.91 405.96L252.12 405.92L252.33 405.88L252.54 405.84L252.75 405.81L252.96 405.77L253.17 405.73L253.38 405.70L253.59 405.66L253.80 405.63L254.01 405.59L254.22 405.56L254.43 405.52L254.64 405.49L254.84 405.46L255.05 405.42L255.26 405.39L255.47 405.35L255.68 405.32L255.89 405.28L256.10 405.25L256.31 405.21L256.52 405.17L256.73 405.14L256.94 405.10L257.15 405.06L257.36 405.02L257.57 404.98L257.78 404.94L257.99 404.90L258.20 404.86L258.41 404.82L258.62 404.78L258.83 404.74L259.04 404.70L259.25 404.66L259.46 404.62L259.67 404.57L259.88 404.53L260.09 404.49L260.30 404.45L260.51 404.40L260.72 404.36L260.92 404.32L261.13 404.27L261.34 404.23L261.55 404.19L261.76 404.14L261.97 404.10L262.18 404.05L262.39 404.01L262.60 403.97L262.81 403.92L263.02 403.88L263.23 403.83L263.44 403.79L263.65 403.75L263.86 403.70L264.07 403.66L264.28 403.61L264.49 403.57L264.70 403.53L264.91 403.48L265.12 403.44L265.33 403.40L265.54 403.35L265.75 403.31L265.96 403.27L266.17 403.22L266.38 403.18L266.59 403.14L266.80 403.10L267.01 403.06L267.22 403.01L267.42 402.97L267.63 402.93L267.84 402.89L268.05 402.85L268.26 402.80L268.47 402.76L268.68 402.72L268.89 402.68L269.10 402.63L269.31 402.59L269.52 402.55L269.73 402.50L269.94 402.46L270.15 402.41L270.36 402.37L270.57 402.33L270.78 402.28L270.99 402.24L271.20 402.19L271.41 402.15L271.62 402.10L271.83 402.06L272.04 402.01L272.25 401.97L272.46 401.93L272.67 401.88L272.88 401.84L273.09 401.79L273.30 401.75L273.50 401.70L273.71 401.66L273.92 401.61L274.13 401.57L274.34 401.52L274.55 401.48L274.76 401.44L274.97 401.39L275.18 401.35L275.39 401.30L275.60 401.26L275.81 401.22L276.02 401.17L276.23 401.13L276.44 401.09L276.65 401.05L276.86 401.00L277.07 400.96L277.28 400.92L277.49 400.88L277.70 400.84L277.91 400.79L278.12 400.75L278.33 400.71L278.54 400.67L278.75 400.63L278.96 400.59L279.17 400.55L279.38 400.52L279.59 400.48L279.80 400.44L280.00 400.40L280.21 400.36L280.42 400.33L280.63 400.29L280.84 400.25L281.05 400.22L281.26 400.18L281.47 400.15L281.68 400.11L281.89 400.08L282.10 400.05L282.31 400.01L282.52 399.98L282.73 399.95L282.94 399.92L283.15 399.89L283.36 399.86L283.57 399.83L283.78 399.80L283.99 399.77L284.20 399.74L284.41 399.71L284.62 399.68L284.83 399.65L285.04 399.62L285.25 399.59L285.46 399.56L285.67 399.53L285.88 399.50L286.09 399.47L286.29 399.44L286.50 399.41L286.71 399.38L286.92 399.36L287.13 399.33L287.34 399.30L287.55 399.27L287.76 399.24L287.97 399.22L288.18 399.19L288.39 399.16L288.60 399.14L288.81 399.11L289.02 399.08L289.23 399.06L289.44 399.03L289.65 399.00L289.86 398.98L290.07 398.95L290.28 398.93L290.49 398.90L290.70 398.87L290.91 398.85L291.12 398.82L291.33 398.80L291.54 398.78L291.75 398.75L291.96 398.73L292.17 398.70L292.38 398.68L292.58 398.66L292.79 398.63L293.00 398.61L293.21 398.59L293.42 398.56L293.63 398.54L293.84 398.52L294.05 398.50L294.26 398.47L294.47 398.45L294.68 398.43L294.89 398.41L295.10 398.39L295.31 398.37L295.52 398.35L295.73 398.33L295.94 398.31L296.15 398.29L296.36 398.27L296.57 398.25L296.78 398.23L296.99 398.21L297.20 398.19L297.41 398.17L297.62 398.15L297.83 398.13L298.04 398.11L298.25 398.10L298.46 398.08L298.66 398.06L298.87 398.04L299.08 398.03L299.29 398.01L299.50 397.99L299.71 397.98L299.92 397.96L300.13 397.94L300.34 397.93L300.55 397.91L300.76 397.90L300.97 397.88L301.18 397.86L301.39 397.85L301.60 397.83L301.81 397.82L302.02 397.80L302.23 397.79L302.44 397.77L302.65 397.76L302.86 397.74L303.07 397.73L303.28 397.72L303.49 397.70L303.70 397.69L303.91 397.68L304.12 397.66L304.33 397.65L304.54 397.64L304.75 397.62L304.96 397.61L305.16 397.60L305.37 397.59L305.58 397.57L305.79 397.56L306.00 397.55L306.21 397.54L306.42 397.53L306.63 397.52L306.84 397.50L307.05 397.49L307.26 397.48L307.47 397.47L307.68 397.46L307.89 397.45L308.10 397.44" fill="none" stroke="#cc2226" stroke-width="1.7" stroke-linejoin="round" stroke-dasharray="1.8 1.5"/>
<path d="M56.50 461.20L149.59 461.20L150.85 459.59L152.12 458.63L153.37 455.94L154.37 455.39L155.37 446.29L156.62 453.14L157.97 437.15L159.00 442.48L160.05 428.30L161.33 433.11L162.50 407.72L163.64 420.08L164.75 406.74L165.72 421.04L166.88 380.73L168.48 403.48L170.14 377.02L171.90 426.48L173.74 366.72L175.55 341.73L177.43 385.36L178.86 405.49L180.69 377.63L182.44 437.68L184.39 359.41L186.40 394.97L187.82 367.11L189.76 407.29L191.33 371.44L193.14 435.82L195.04 373.30L196.99 434.72L198.99 440.15L200.81 383.82L202.76 424.04L204.02 432.69L205.11 421.61L206.15 431.36L207.41 412.30L208.82 437.44L210.05 423.69L211.42 438.89L212.44 415.01L214.00 447.58L215.24 415.77L216.70 435.96L218.11 416.05L219.54 442.41L220.72 416.85L221.74 439.77L222.97 425.78L224.12 433.95L225.31 451.30L226.88 443.94L228.02 428.78L229.46 432.64L230.50 431.28L231.82 435.05L232.98 427.96L234.08 438.02L235.27 417.32L236.80 430.93L238.11 428.22L239.38 427.50L240.82 424.22L242.09 425.65L243.10 411.53L244.13 428.10L245.52 400.42L246.44 417.69L247.20 398.16L248.44 414.30L249.24 399.85L250.36 418.69L251.19 401.19L252.29 410.42L253.25 403.89L253.90 414.08L254.98 391.25L255.79 405.64L256.69 392.12L257.77 399.45L259.03 388.03L259.94 398.87L260.99 391.84L261.92 395.80L262.97 373.76L263.70 395.24L264.95 381.31L265.67 392.25L266.72 387.23L267.39 388.95L268.08 377.08L269.26 394.49L270.36 374.24L271.05 395.27L271.85 378.82L272.52 384.79L273.74 372.73L274.90 381.97L276.02 357.76L277.09 381.45L278.14 374.25L278.79 378.79L279.46 367.39L280.27 379.67L281.27 373.72L282.42 387.10L283.32 361.00L284.11 379.64L285.14 372.81L286.37 375.99L287.30 351.85L288.28 381.12L289.09 362.36L290.20 377.79L290.92 365.68L291.97 380.20L292.73 354.21L293.79 383.56L294.73 362.54L295.88 369.34L296.87 346.63L298.07 382.97L298.98 347.00L299.62 383.84L300.86 359.54L301.97 382.31L303.12 367.05L304.27 376.87L304.98 364.99L306.15 375.32L306.84 367.86L307.66 375.04" fill="none" stroke="#7cbf5c" stroke-width="1.7" stroke-linejoin="round"/>
<path d="M56.50 461.20L56.71 461.20L56.92 461.20L57.13 461.20L57.34 461.20L57.55 461.20L57.76 461.20L57.97 461.20L58.18 461.20L58.39 461.20L58.60 461.20L58.81 461.20L59.02 461.20L59.23 461.20L59.44 461.20L59.65 461.20L59.85 461.20L60.06 461.20L60.27 461.20L60.48 461.20L60.69 461.20L60.90 461.20L61.11 461.20L61.32 461.20L61.53 461.20L61.74 461.20L61.95 461.20L62.16 461.20L62.37 461.20L62.58 461.20L62.79 461.20L63.00 461.20L63.21 461.20L63.42 461.20L63.63 461.20L63.84 461.20L64.05 461.20L64.26 461.20L64.47 461.20L64.68 461.20L64.89 461.20L65.10 461.20L65.31 461.20L65.52 461.20L65.73 461.20L65.94 461.20L66.14 461.20L66.35 461.20L66.56 461.20L66.77 461.20L66.98 461.20L67.19 461.20L67.40 461.20L67.61 461.20L67.82 461.20L68.03 461.20L68.24 461.20L68.45 461.20L68.66 461.20L68.87 461.20L69.08 461.20L69.29 461.20L69.50 461.20L69.71 461.20L69.92 461.20L70.13 461.20L70.34 461.20L70.55 461.20L70.76 461.20L70.97 461.20L71.18 461.20L71.39 461.20L71.60 461.20L71.81 461.20L72.02 461.20L72.22 461.20L72.43 461.20L72.64 461.20L72.85 461.20L73.06 461.20L73.27 461.20L73.48 461.20L73.69 461.20L73.90 461.20L74.11 461.20L74.32 461.20L74.53 461.20L74.74 461.20L74.95 461.20L75.16 461.20L75.37 461.20L75.58 461.20L75.79 461.20L76.00 461.20L76.21 461.20L76.42 461.20L76.63 461.20L76.84 461.20L77.05 461.20L77.26 461.20L77.47 461.20L77.68 461.20L77.89 461.20L78.10 461.20L78.31 461.20L78.52 461.20L78.72 461.20L78.93 461.20L79.14 461.20L79.35 461.20L79.56 461.20L79.77 461.20L79.98 461.20L80.19 461.20L80.40 461.20L80.61 461.20L80.82 461.20L81.03 461.20L81.24 461.20L81.45 461.20L81.66 461.20L81.87 461.20L82.08 461.20L82.29 461.20L82.50 461.20L82.71 461.20L82.92 461.20L83.13 461.20L83.34 461.20L83.55 461.20L83.76 461.20L83.97 461.20L84.18 461.20L84.39 461.20L84.60 461.20L84.81 461.20L85.01 461.20L85.22 461.20L85.43 461.20L85.64 461.20L85.85 461.20L86.06 461.20L86.27 461.20L86.48 461.20L86.69 461.20L86.90 461.20L87.11 461.20L87.32 461.20L87.53 461.20L87.74 461.20L87.95 461.20L88.16 461.20L88.37 461.20L88.58 461.20L88.79 461.20L89.00 461.20L89.21 461.20L89.42 461.20L89.63 461.20L89.84 461.20L90.05 461.20L90.26 461.20L90.47 461.20L90.68 461.20L90.89 461.20L91.09 461.20L91.30 461.20L91.51 461.20L91.72 461.20L91.93 461.20L92.14 461.20L92.35 461.20L92.56 461.20L92.77 461.20L92.98 461.20L93.19 461.20L93.40 461.20L93.61 461.20L93.82 461.20L94.03 461.20L94.24 461.20L94.45 461.20L94.66 461.20L94.87 461.20L95.08 461.20L95.29 461.20L95.50 461.20L95.71 461.20L95.92 461.20L96.13 461.20L96.34 461.20L96.55 461.20L96.76 461.20L96.97 461.20L97.18 461.20L97.38 461.20L97.59 461.20L97.80 461.20L98.01 461.20L98.22 461.20L98.43 461.20L98.64 461.20L98.85 461.20L99.06 461.20L99.27 461.20L99.48 461.20L99.69 461.20L99.90 461.20L100.11 461.20L100.32 461.20L100.53 461.20L100.74 461.20L100.95 461.20L101.16 461.20L101.37 461.20L101.58 461.20L101.79 461.20L102.00 461.20L102.21 461.20L102.42 461.20L102.63 461.20L102.84 461.20L103.05 461.20L103.26 461.20L103.47 461.20L103.67 461.20L103.88 461.20L104.09 461.20L104.30 461.20L104.51 461.20L104.72 461.20L104.93 461.20L105.14 461.20L105.35 461.20L105.56 461.20L105.77 461.20L105.98 461.20L106.19 461.20L106.40 461.20L106.61 461.20L106.82 461.20L107.03 461.20L107.24 461.20L107.45 461.20L107.66 461.20L107.87 461.20L108.08 461.20L108.29 461.20L108.50 461.20L108.71 461.20L108.92 461.20L109.13 461.20L109.34 461.20L109.55 461.20L109.76 461.20L109.97 461.20L110.17 461.20L110.38 461.20L110.59 461.20L110.80 461.20L111.01 461.20L111.22 461.20L111.43 461.20L111.64 461.20L111.85 461.20L112.06 461.20L112.27 461.20L112.48 461.20L112.69 461.20L112.90 461.20L113.11 461.20L113.32 461.20L113.53 461.20L113.74 461.20L113.95 461.20L114.16 461.20L114.37 461.20L114.58 461.20L114.79 461.20L115.00 461.20L115.21 461.20L115.42 461.20L115.63 461.20L115.84 461.20L116.05 461.20L116.25 461.20L116.46 461.20L116.67 461.20L116.88 461.20L117.09 461.20L117.30 461.20L117.51 461.20L117.72 461.20L117.93 461.20L118.14 461.20L118.35 461.20L118.56 461.20L118.77 461.20L118.98 461.20L119.19 461.20L119.40 461.20L119.61 461.20L119.82 461.20L120.03 461.20L120.24 461.20L120.45 461.20L120.66 461.20L120.87 461.20L121.08 461.20L121.29 461.20L121.50 461.20L121.71 461.20L121.92 461.20L122.13 461.20L122.34 461.20L122.55 461.20L122.75 461.20L122.96 461.20L123.17 461.20L123.38 461.20L123.59 461.20L123.80 461.20L124.01 461.20L124.22 461.20L124.43 461.20L124.64 461.20L124.85 461.20L125.06 461.20L125.27 461.20L125.48 461.20L125.69 461.20L125.90 461.20L126.11 461.20L126.32 461.20L126.53 461.20L126.74 461.20L126.95 461.20L127.16 461.20L127.37 461.20L127.58 461.20L127.79 461.20L128.00 461.20L128.21 461.20L128.42 461.20L128.63 461.20L128.84 461.20L129.04 461.20L129.25 461.20L129.46 461.20L129.67 461.20L129.88 461.20L130.09 461.20L130.30 461.20L130.51 461.20L130.72 461.20L130.93 461.20L131.14 461.20L131.35 461.20L131.56 461.20L131.77 461.20L131.98 461.20L132.19 461.20L132.40 461.20L132.61 461.20L132.82 461.20L133.03 461.20L133.24 461.20L133.45 461.20L133.66 461.20L133.87 461.20L134.08 461.20L134.29 461.20L134.50 461.20L134.71 461.20L134.92 461.20L135.12 461.20L135.33 461.20L135.54 461.20L135.75 461.20L135.96 461.20L136.17 461.20L136.38 461.20L136.59 461.20L136.80 461.20L137.01 461.20L137.22 461.20L137.43 461.20L137.64 461.20L137.85 461.20L138.06 461.20L138.27 461.20L138.48 461.20L138.69 461.20L138.90 461.20L139.11 461.20L139.32 461.20L139.53 461.20L139.74 461.20L139.95 461.20L140.16 461.20L140.37 461.20L140.58 461.20L140.79 461.20L141.00 461.20L141.21 461.20L141.42 461.20L141.62 461.20L141.83 461.20L142.04 461.20L142.25 461.20L142.46 461.20L142.67 461.20L142.88 461.20L143.09 461.20L143.30 461.20L143.51 461.20L143.72 461.20L143.93 461.20L144.14 461.20L144.35 461.20L144.56 461.20L144.77 461.20L144.98 461.20L145.19 461.20L145.40 461.20L145.61 461.20L145.82 461.20L146.03 461.20L146.24 461.20L146.45 461.20L146.66 461.20L146.87 461.20L147.08 461.20L147.29 461.20L147.50 461.20L147.71 461.20L147.91 461.20L148.12 461.20L148.33 461.20L148.54 461.20L148.75 461.20L148.96 461.20L149.17 461.20L149.38 461.20L149.59 461.20L149.80 461.15L150.01 461.03L150.22 460.83L150.43 460.57L150.64 460.25L150.85 459.90L151.06 459.52L151.27 459.13L151.48 458.72L151.69 458.26L151.90 457.67L152.11 456.99L152.32 456.22L152.53 455.38L152.74 454.48L152.95 453.54L153.16 452.59L153.37 451.62L153.58 450.66L153.79 449.72L154.00 448.82L154.20 447.94L154.41 447.06L154.62 446.17L154.83 445.27L155.04 444.37L155.25 443.46L155.46 442.54L155.67 441.62L155.88 440.69L156.09 439.75L156.30 438.81L156.51 437.86L156.72 436.90L156.93 435.94L157.14 434.97L157.35 433.99L157.56 433.01L157.77 432.02L157.98 431.02L158.19 430.02L158.40 429.01L158.61 427.99L158.82 426.94L159.03 425.86L159.24 424.78L159.45 423.67L159.66 422.56L159.87 421.44L160.08 420.32L160.29 419.19L160.49 418.07L160.70 416.95L160.91 415.85L161.12 414.75L161.33 413.67L161.54 412.61L161.75 411.57L161.96 410.56L162.17 409.55L162.38 408.55L162.59 407.55L162.80 406.56L163.01 405.58L163.22 404.60L163.43 403.63L163.64 402.67L163.85 401.71L164.06 400.76L164.27 399.82L164.48 398.89L164.69 397.96L164.90 397.04L165.11 396.13L165.32 395.22L165.53 394.33L165.74 393.44L165.95 392.56L166.16 391.69L166.37 390.82L166.58 389.94L166.78 389.04L166.99 388.14L167.20 387.23L167.41 386.31L167.62 385.40L167.83 384.49L168.04 383.59L168.25 382.70L168.46 381.83L168.67 380.97L168.88 380.14L169.09 379.34L169.30 378.57L169.51 377.83L169.72 377.13L169.93 376.47L170.14 375.85L170.35 375.29L170.56 374.78L170.77 374.32L170.98 373.90L171.19 373.52L171.40 373.16L171.61 372.84L171.82 372.53L172.03 372.23L172.24 371.94L172.45 371.66L172.66 371.38L172.87 371.09L173.07 370.79L173.28 370.48L173.49 370.14L173.70 369.78L173.91 369.39L174.12 368.97L174.33 368.52L174.54 368.05L174.75 367.57L174.96 367.08L175.17 366.58L175.38 366.09L175.59 365.59L175.80 365.11L176.01 364.64L176.22 364.16L176.43 363.67L176.64 363.17L176.85 362.66L177.06 362.15L177.27 361.64L177.48 361.14L177.69 360.64L177.90 360.16L178.11 359.70L178.32 359.26L178.53 358.85L178.74 358.47L178.95 358.13L179.16 357.83L179.36 357.54L179.57 357.25L179.78 356.97L179.99 356.69L180.20 356.42L180.41 356.17L180.62 355.94L180.83 355.74L181.04 355.58L181.25 355.46L181.46 355.38L181.67 355.35L181.88 355.36L182.09 355.37L182.30 355.40L182.51 355.44L182.72 355.48L182.93 355.54L183.14 355.60L183.35 355.67L183.56 355.74L183.77 355.82L183.98 355.91L184.19 356.00L184.40 356.09L184.61 356.19L184.82 356.28L185.03 356.38L185.24 356.49L185.45 356.59L185.65 356.70L185.86 356.83L186.07 356.97L186.28 357.12L186.49 357.29L186.70 357.46L186.91 357.65L187.12 357.85L187.33 358.06L187.54 358.27L187.75 358.49L187.96 358.72L188.17 358.95L188.38 359.18L188.59 359.44L188.80 359.70L189.01 359.99L189.22 360.28L189.43 360.59L189.64 360.92L189.85 361.25L190.06 361.59L190.27 361.95L190.48 362.31L190.69 362.68L190.90 363.06L191.11 363.44L191.32 363.82L191.53 364.21L191.74 364.61L191.94 365.01L192.15 365.42L192.36 365.83L192.57 366.26L192.78 366.70L192.99 367.14L193.20 367.60L193.41 368.07L193.62 368.55L193.83 369.05L194.04 369.56L194.25 370.09L194.46 370.64L194.67 371.20L194.88 371.78L195.09 372.38L195.30 373.00L195.51 373.69L195.72 374.43L195.93 375.23L196.14 376.06L196.35 376.92L196.56 377.80L196.77 378.70L196.98 379.59L197.19 380.47L197.40 381.34L197.61 382.18L197.82 382.99L198.03 383.81L198.23 384.63L198.44 385.47L198.65 386.30L198.86 387.13L199.07 387.95L199.28 388.77L199.49 389.56L199.70 390.33L199.91 391.08L200.12 391.79L200.33 392.47L200.54 393.11L200.75 393.72L200.96 394.30L201.17 394.86L201.38 395.40L201.59 395.93L201.80 396.44L202.01 396.94L202.22 397.43L202.43 397.90L202.64 398.37L202.85 398.84L203.06 399.30L203.27 399.76L203.48 400.21L203.69 400.66L203.90 401.11L204.11 401.55L204.31 401.98L204.52 402.41L204.73 402.83L204.94 403.24L205.15 403.64L205.36 404.03L205.57 404.41L205.78 404.79L205.99 405.14L206.20 405.49L206.41 405.83L206.62 406.16L206.83 406.48L207.04 406.80L207.25 407.12L207.46 407.42L207.67 407.72L207.88 408.02L208.09 408.30L208.30 408.58L208.51 408.84L208.72 409.10L208.93 409.35L209.14 409.59L209.35 409.82L209.56 410.05L209.77 410.27L209.98 410.48L210.19 410.69L210.40 410.90L210.61 411.10L210.81 411.30L211.02 411.49L211.23 411.69L211.44 411.87L211.65 412.06L211.86 412.24L212.07 412.42L212.28 412.60L212.49 412.77L212.70 412.94L212.91 413.11L213.12 413.28L213.33 413.44L213.54 413.61L213.75 413.77L213.96 413.93L214.17 414.09L214.38 414.24L214.59 414.40L214.80 414.55L215.01 414.71L215.22 414.86L215.43 415.01L215.64 415.17L215.85 415.32L216.06 415.47L216.27 415.62L216.48 415.78L216.69 415.94L216.90 416.09L217.10 416.25L217.31 416.41L217.52 416.57L217.73 416.73L217.94 416.89L218.15 417.05L218.36 417.21L218.57 417.37L218.78 417.52L218.99 417.68L219.20 417.83L219.41 417.98L219.62 418.13L219.83 418.28L220.04 418.43L220.25 418.57L220.46 418.71L220.67 418.85L220.88 418.98L221.09 419.11L221.30 419.24L221.51 419.36L221.72 419.47L221.93 419.59L222.14 419.69L222.35 419.79L222.56 419.89L222.77 419.98L222.98 420.07L223.19 420.15L223.39 420.22L223.60 420.29L223.81 420.35L224.02 420.40L224.23 420.46L224.44 420.51L224.65 420.57L224.86 420.62L225.07 420.67L225.28 420.73L225.49 420.78L225.70 420.83L225.91 420.88L226.12 420.93L226.33 420.98L226.54 421.02L226.75 421.07L226.96 421.11L227.17 421.16L227.38 421.20L227.59 421.24L227.80 421.27L228.01 421.31L228.22 421.34L228.43 421.38L228.64 421.41L228.85 421.43L229.06 421.46L229.27 421.48L229.47 421.51L229.68 421.52L229.89 421.54L230.10 421.55L230.31 421.57L230.52 421.57L230.73 421.58L230.94 421.58L231.15 421.58L231.36 421.58L231.57 421.57L231.78 421.56L231.99 421.55L232.20 421.53L232.41 421.51L232.62 421.48L232.83 421.45L233.04 421.42L233.25 421.39L233.46 421.35L233.67 421.31L233.88 421.27L234.09 421.23L234.30 421.18L234.51 421.13L234.72 421.08L234.93 421.03L235.14 420.98L235.35 420.92L235.56 420.87L235.77 420.81L235.97 420.75L236.18 420.69L236.39 420.63L236.60 420.57L236.81 420.51L237.02 420.44L237.23 420.38L237.44 420.31L237.65 420.24L237.86 420.16L238.07 420.07L238.28 419.98L238.49 419.87L238.70 419.76L238.91 419.65L239.12 419.52L239.33 419.40L239.54 419.26L239.75 419.12L239.96 418.98L240.17 418.83L240.38 418.68L240.59 418.52L240.80 418.36L241.01 418.20L241.22 418.03L241.43 417.86L241.64 417.69L241.85 417.52L242.06 417.34L242.26 417.17L242.47 416.99L242.68 416.81L242.89 416.64L243.10 416.46L243.31 416.28L243.52 416.10L243.73 415.92L243.94 415.74L244.15 415.55L244.36 415.36L244.57 415.16L244.78 414.96L244.99 414.75L245.20 414.54L245.41 414.32L245.62 414.10L245.83 413.88L246.04 413.65L246.25 413.42L246.46 413.19L246.67 412.95L246.88 412.71L247.09 412.48L247.30 412.23L247.51 411.99L247.72 411.75L247.93 411.51L248.14 411.26L248.34 411.02L248.55 410.77L248.76 410.53L248.97 410.29L249.18 410.04L249.39 409.80L249.60 409.56L249.81 409.32L250.02 409.09L250.23 408.85L250.44 408.60L250.65 408.36L250.86 408.11L251.07 407.86L251.28 407.61L251.49 407.35L251.70 407.10L251.91 406.84L252.12 406.58L252.33 406.32L252.54 406.06L252.75 405.80L252.96 405.54L253.17 405.28L253.38 405.02L253.59 404.76L253.80 404.50L254.01 404.24L254.22 403.98L254.43 403.72L254.64 403.46L254.84 403.21L255.05 402.95L255.26 402.70L255.47 402.45L255.68 402.21L255.89 401.96L256.10 401.72L256.31 401.48L256.52 401.25L256.73 401.02L256.94 400.79L257.15 400.57L257.36 400.35L257.57 400.13L257.78 399.92L257.99 399.71L258.20 399.51L258.41 399.30L258.62 399.10L258.83 398.91L259.04 398.71L259.25 398.52L259.46 398.33L259.67 398.14L259.88 397.95L260.09 397.76L260.30 397.58L260.51 397.40L260.72 397.22L260.92 397.04L261.13 396.86L261.34 396.68L261.55 396.51L261.76 396.33L261.97 396.16L262.18 395.99L262.39 395.81L262.60 395.64L262.81 395.47L263.02 395.30L263.23 395.13L263.44 394.96L263.65 394.79L263.86 394.62L264.07 394.45L264.28 394.29L264.49 394.12L264.70 393.95L264.91 393.78L265.12 393.61L265.33 393.44L265.54 393.27L265.75 393.10L265.96 392.92L266.17 392.75L266.38 392.58L266.59 392.40L266.80 392.23L267.01 392.05L267.22 391.87L267.42 391.69L267.63 391.51L267.84 391.33L268.05 391.14L268.26 390.96L268.47 390.77L268.68 390.58L268.89 390.39L269.10 390.20L269.31 390.01L269.52 389.82L269.73 389.63L269.94 389.43L270.15 389.24L270.36 389.05L270.57 388.85L270.78 388.66L270.99 388.47L271.20 388.28L271.41 388.09L271.62 387.89L271.83 387.70L272.04 387.51L272.25 387.33L272.46 387.14L272.67 386.95L272.88 386.77L273.09 386.58L273.30 386.40L273.50 386.22L273.71 386.05L273.92 385.87L274.13 385.70L274.34 385.52L274.55 385.36L274.76 385.19L274.97 385.03L275.18 384.86L275.39 384.71L275.60 384.55L275.81 384.40L276.02 384.25L276.23 384.10L276.44 383.96L276.65 383.82L276.86 383.69L277.07 383.55L277.28 383.42L277.49 383.28L277.70 383.15L277.91 383.01L278.12 382.88L278.33 382.75L278.54 382.61L278.75 382.48L278.96 382.35L279.17 382.22L279.38 382.09L279.59 381.96L279.80 381.84L280.00 381.71L280.21 381.59L280.42 381.46L280.63 381.34L280.84 381.22L281.05 381.10L281.26 380.99L281.47 380.87L281.68 380.76L281.89 380.64L282.10 380.53L282.31 380.43L282.52 380.32L282.73 380.21L282.94 380.11L283.15 380.01L283.36 379.91L283.57 379.82L283.78 379.72L283.99 379.63L284.20 379.55L284.41 379.46L284.62 379.38L284.83 379.30L285.04 379.22L285.25 379.14L285.46 379.07L285.67 379.00L285.88 378.94L286.09 378.87L286.29 378.81L286.50 378.75L286.71 378.70L286.92 378.64L287.13 378.59L287.34 378.53L287.55 378.48L287.76 378.43L287.97 378.38L288.18 378.34L288.39 378.29L288.60 378.24L288.81 378.20L289.02 378.16L289.23 378.12L289.44 378.07L289.65 378.03L289.86 377.99L290.07 377.96L290.28 377.92L290.49 377.88L290.70 377.84L290.91 377.81L291.12 377.77L291.33 377.74L291.54 377.70L291.75 377.67L291.96 377.63L292.17 377.60L292.38 377.57L292.58 377.53L292.79 377.50L293.00 377.47L293.21 377.43L293.42 377.40L293.63 377.37L293.84 377.33L294.05 377.30L294.26 377.26L294.47 377.23L294.68 377.20L294.89 377.16L295.10 377.12L295.31 377.09L295.52 377.05L295.73 377.01L295.94 376.98L296.15 376.94L296.36 376.90L296.57 376.86L296.78 376.82L296.99 376.77L297.20 376.73L297.41 376.69L297.62 376.64L297.83 376.60L298.04 376.55L298.25 376.50L298.46 376.45L298.66 376.40L298.87 376.34L299.08 376.29L299.29 376.24L299.50 376.18L299.71 376.12L299.92 376.07L300.13 376.01L300.34 375.95L300.55 375.89L300.76 375.83L300.97 375.77L301.18 375.71L301.39 375.64L301.60 375.58L301.81 375.52L302.02 375.45L302.23 375.38L302.44 375.32L302.65 375.25L302.86 375.18L303.07 375.11L303.28 375.04L303.49 374.97L303.70 374.90L303.91 374.83L304.12 374.76L304.33 374.69L304.54 374.62L304.75 374.54L304.96 374.47L305.16 374.39L305.37 374.32L305.58 374.24L305.79 374.17L306.00 374.09L306.21 374.01L306.42 373.94L306.63 373.86L306.84 373.78L307.05 373.70L307.26 373.62L307.47 373.54L307.68 373.46L307.89 373.38L308.10 373.30" fill="none" stroke="#7cbf5c" stroke-width="1.7" stroke-linejoin="round" stroke-dasharray="1.8 1.5"/>
<line x1="56.5" y1="461.2" x2="149.2775" y2="461.2" stroke="#8a9a5a" stroke-width="1.9"/>
</g>
<rect x="56.5" y="278.9" width="252.2" height="197.5" fill="none" stroke="#000" stroke-width="1.8" stroke-linejoin="round"/>
<line x1="56.5" y1="461.2" x2="59.7" y2="461.2" stroke="#000" stroke-width="1.6"/>
<line x1="56.5" y1="424.1" x2="59.7" y2="424.1" stroke="#000" stroke-width="1.6"/>
<line x1="56.5" y1="386.9" x2="59.7" y2="386.9" stroke="#000" stroke-width="1.6"/>
<line x1="56.5" y1="349.8" x2="59.7" y2="349.8" stroke="#000" stroke-width="1.6"/>
<line x1="56.5" y1="312.6" x2="59.7" y2="312.6" stroke="#000" stroke-width="1.6"/>
<line x1="56.5" y1="442.6" x2="58.1" y2="442.6" stroke="#000" stroke-width="1.0"/>
<line x1="56.5" y1="405.5" x2="58.1" y2="405.5" stroke="#000" stroke-width="1.0"/>
<line x1="56.5" y1="368.4" x2="58.1" y2="368.4" stroke="#000" stroke-width="1.0"/>
<line x1="56.5" y1="331.2" x2="58.1" y2="331.2" stroke="#000" stroke-width="1.0"/>
<line x1="56.5" y1="294.1" x2="58.1" y2="294.1" stroke="#000" stroke-width="1.0"/>
<line x1="119.4" y1="476.4" x2="119.4" y2="473.2" stroke="#000" stroke-width="1.6"/>
<line x1="182.3" y1="476.4" x2="182.3" y2="473.2" stroke="#000" stroke-width="1.6"/>
<line x1="245.2" y1="476.4" x2="245.2" y2="473.2" stroke="#000" stroke-width="1.6"/>
<line x1="88.0" y1="476.4" x2="88.0" y2="474.79999999999995" stroke="#000" stroke-width="1.0"/>
<line x1="150.8" y1="476.4" x2="150.8" y2="474.79999999999995" stroke="#000" stroke-width="1.0"/>
<line x1="213.8" y1="476.4" x2="213.8" y2="474.79999999999995" stroke="#000" stroke-width="1.0"/>
<line x1="276.6" y1="476.4" x2="276.6" y2="474.79999999999995" stroke="#000" stroke-width="1.0"/>
<text x="51.8" y="465.2" font-size="11.3" text-anchor="end" font-weight="normal" fill="#1a1a1a" >0.0</text>
<text x="51.8" y="428.06" font-size="11.3" text-anchor="end" font-weight="normal" fill="#1a1a1a" >0.6</text>
<text x="51.8" y="390.91999999999996" font-size="11.3" text-anchor="end" font-weight="normal" fill="#1a1a1a" >1.2</text>
<text x="51.8" y="353.78" font-size="11.3" text-anchor="end" font-weight="normal" fill="#1a1a1a" >1.8</text>
<text x="51.8" y="316.64" font-size="11.3" text-anchor="end" font-weight="normal" fill="#1a1a1a" >2.4</text>
<text x="56.5" y="490.0" font-size="11.3" text-anchor="middle" font-weight="normal" fill="#1a1a1a" >0</text>
<text x="119.4" y="490.0" font-size="11.3" text-anchor="middle" font-weight="normal" fill="#1a1a1a" >2</text>
<text x="182.3" y="490.0" font-size="11.3" text-anchor="middle" font-weight="normal" fill="#1a1a1a" >4</text>
<text x="245.2" y="490.0" font-size="11.3" text-anchor="middle" font-weight="normal" fill="#1a1a1a" >6</text>
<text x="308.1" y="490.0" font-size="11.3" text-anchor="middle" font-weight="normal" fill="#1a1a1a" >8</text>
<text x="168.8" y="511.5" font-size="15" fill="#111"><tspan font-weight="bold">r</tspan> (Å)</text>
<text transform="translate(27.0,374) rotate(-90)" font-size="15.6" text-anchor="middle" font-weight="bold" fill="#111">g(r) (a.u.)</text>
<text x="13.5" y="271.3" font-size="21.6" text-anchor="start" font-weight="bold" fill="#111" >(c)</text>
<line x1="64.2" y1="290.3" x2="88.9" y2="290.3" stroke="#7cbf5c" stroke-width="1.7"/>
<line x1="122.8" y1="290.3" x2="146.9" y2="290.3" stroke="#cc2226" stroke-width="1.7"/>
<line x1="182.7" y1="290.3" x2="205.4" y2="290.3" stroke="#1f6aa5" stroke-width="1.7"/>
<line x1="64.2" y1="302.8" x2="86.5" y2="302.8" stroke="#7cbf5c" stroke-width="1.7" stroke-dasharray="2 1.3"/>
<line x1="124" y1="302.8" x2="145" y2="302.8" stroke="#cc2226" stroke-width="1.7" stroke-dasharray="2 1.3"/>
<line x1="184.9" y1="302.8" x2="205.4" y2="302.8" stroke="#1f6aa5" stroke-width="1.7" stroke-dasharray="2 1.3"/>
<text x="91" y="293.8" font-size="10.2" text-anchor="start" font-weight="bold" fill="#111" >Cu–N</text>
<text x="149.3" y="293.8" font-size="10.2" text-anchor="start" font-weight="bold" fill="#111" >Cu–O</text>
<text x="208.2" y="293.8" font-size="10.2" text-anchor="start" font-weight="bold" fill="#111" >Cu–F</text>
<text x="91" y="306.2" font-size="10.2" text-anchor="start" font-weight="bold" fill="#111" >Li–N</text>
<text x="151.1" y="306.2" font-size="10.2" text-anchor="start" font-weight="bold" fill="#111" >Li–O</text>
<text x="211" y="306.2" font-size="10.2" text-anchor="start" font-weight="bold" fill="#111" >Li–F</text>
<g clip-path="url(#cd)">
<path d="M394.70 462.50L395.51 461.52L396.32 461.26L397.13 460.80L397.95 460.35L398.76 459.55L399.57 458.83L400.38 458.19L401.19 457.90L402.00 457.49L402.82 456.62L403.63 455.73L404.44 455.19L405.25 455.11L406.06 454.23L406.87 453.25L407.69 452.99L408.50 452.18L409.31 451.69L410.12 451.13L410.93 450.49L411.74 450.15L412.55 449.43L413.37 448.73L414.18 448.34L414.99 447.83L415.80 446.74L416.61 446.43L417.42 445.69L418.24 445.26L419.05 444.44L419.86 444.10L420.67 443.49L421.48 442.84L422.29 442.09L423.11 441.62L423.92 440.88L424.73 440.23L425.54 439.95L426.35 439.08L427.16 438.93L427.97 438.24L428.79 437.10L429.60 436.95L430.41 436.08L431.22 435.70L432.03 435.10L432.84 434.10L433.66 433.85L434.47 433.24L435.28 432.89L436.09 431.86L436.90 431.64L437.71 430.67L438.53 430.23L439.34 429.54L440.15 429.41L440.96 428.67L441.77 428.48L442.58 427.57L443.39 427.06L444.21 426.51L445.02 425.66L445.83 425.22L446.64 424.95L447.45 424.05L448.26 423.61L449.08 423.01L449.89 422.57L450.70 421.79L451.51 421.25L452.32 420.74L453.13 420.12L453.95 419.34L454.76 419.10L455.57 418.07L456.38 417.50L457.19 416.89L458.00 416.75L458.82 415.89L459.63 415.18L460.44 414.55L461.25 414.27L462.06 413.39L462.87 412.75L463.68 412.54L464.50 411.59L465.31 411.17L466.12 410.64L466.93 409.97L467.74 409.45L468.55 409.14L469.37 408.18L470.18 407.44L470.99 406.73L471.80 406.47L472.61 405.85L473.42 405.38L474.24 404.64L475.05 404.05L475.86 403.41L476.67 402.86L477.48 402.40L478.29 401.71L479.10 401.21L479.92 400.98L480.73 400.10L481.54 399.11L482.35 399.19L483.16 398.34L483.97 397.52L484.79 397.33L485.60 396.60L486.41 395.92L487.22 395.37L488.03 394.74L488.84 394.40L489.66 394.05L490.47 393.22L491.28 392.82L492.09 392.56L492.90 391.39L493.71 391.13L494.52 390.46L495.34 389.76L496.15 389.22L496.96 388.87L497.77 388.40L498.58 387.66L499.39 387.23L500.21 386.81L501.02 386.17L501.83 385.73L502.64 385.10L503.45 384.55L504.26 384.27L505.08 383.48L505.89 382.82L506.70 382.39L507.51 381.51L508.32 381.08L509.13 380.75L509.94 380.16L510.76 379.80L511.57 378.94L512.38 378.09L513.19 378.22L514.00 377.50L514.81 376.52L515.63 376.45L516.44 375.63L517.25 374.71L518.06 374.43L518.87 373.86L519.68 373.71L520.50 372.65L521.31 372.16L522.12 371.56L522.93 370.93L523.74 370.21L524.55 369.83L525.36 369.39L526.18 368.69L526.99 367.77L527.80 367.12L528.61 366.77L529.42 365.99L530.23 365.40L531.05 364.58L531.86 364.70L532.67 363.88L533.48 362.89L534.29 362.66L535.10 362.14L535.92 360.79L536.73 360.54L537.54 359.97L538.35 359.57L539.16 358.80L539.97 358.16L540.78 357.57L541.60 357.32L542.41 356.74L543.22 355.57L544.03 354.85L544.84 354.94L545.65 353.57L546.47 353.01L547.28 352.49L548.09 351.95L548.90 351.42L549.71 350.65L550.52 349.76L551.34 349.40L552.15 348.71L552.96 348.40L553.77 347.39L554.58 346.49L555.39 345.91L556.21 345.77L557.02 344.73L557.83 343.78L558.64 343.45L559.45 342.94L560.26 342.56L561.07 341.51L561.89 341.24L562.70 340.66L563.51 339.76L564.32 339.26L565.13 339.05L565.94 338.44L566.76 337.66L567.57 336.96L568.38 336.52L569.19 335.66L570.00 335.07L570.81 334.31L571.63 333.88L572.44 333.27L573.25 333.23L574.06 332.04L574.87 331.73L575.68 331.14L576.49 330.24L577.31 329.91L578.12 328.64L578.93 328.49L579.74 328.04L580.55 326.79L581.36 326.44L582.18 326.30L582.99 325.49L583.80 324.78L584.61 324.41L585.42 323.88L586.23 323.64L587.05 323.09L587.86 322.44L588.67 321.87L589.48 321.49L590.29 321.27L591.10 320.57L591.91 320.13L592.73 319.48L593.54 318.75L594.35 318.37L595.16 318.12L595.97 317.47L596.78 316.71L597.60 315.98L598.41 315.71L599.22 314.92L600.03 314.11L600.84 313.22L601.65 312.34L602.47 311.27L603.28 310.27L604.09 309.02L604.90 307.87" fill="none" stroke="#f08620" stroke-width="2.1" stroke-linejoin="round"/>
<path d="M394.70 462.50L395.51 461.99L396.32 460.55L397.13 460.31L397.95 459.82L398.76 459.16L399.57 458.30L400.38 457.75L401.19 456.78L402.00 456.11L402.82 455.32L403.63 454.35L404.44 453.67L405.25 453.19L406.06 452.28L406.87 451.93L407.69 451.21L408.50 450.59L409.31 449.50L410.12 449.06L410.93 447.88L411.74 447.18L412.55 446.64L413.37 445.96L414.18 444.86L414.99 444.11L415.80 443.81L416.61 442.84L417.42 442.53L418.24 441.65L419.05 440.91L419.86 440.16L420.67 439.57L421.48 438.64L422.29 438.15L423.11 437.10L423.92 436.43L424.73 435.61L425.54 435.13L426.35 434.29L427.16 433.38L427.97 433.22L428.79 432.02L429.60 431.34L430.41 430.71L431.22 430.25L432.03 429.14L432.84 428.58L433.66 427.73L434.47 426.69L435.28 426.41L436.09 425.72L436.90 424.74L437.71 424.05L438.53 423.03L439.34 422.31L440.15 421.83L440.96 421.33L441.77 420.43L442.58 419.90L443.39 419.36L444.21 418.51L445.02 417.92L445.83 417.42L446.64 416.20L447.45 415.93L448.26 414.72L449.08 414.49L449.89 413.73L450.70 412.86L451.51 412.02L452.32 411.48L453.13 410.66L453.95 410.02L454.76 409.07L455.57 408.62L456.38 407.56L457.19 406.96L458.00 406.20L458.82 405.78L459.63 404.48L460.44 403.95L461.25 403.53L462.06 402.42L462.87 401.55L463.68 401.11L464.50 400.25L465.31 399.73L466.12 398.64L466.93 398.11L467.74 397.46L468.55 396.79L469.37 395.62L470.18 395.38L470.99 394.17L471.80 393.30L472.61 392.67L473.42 392.14L474.24 391.30L475.05 390.71L475.86 389.97L476.67 389.19L477.48 388.33L478.29 388.00L479.10 386.45L479.92 385.80L480.73 385.30L481.54 384.42L482.35 383.45L483.16 383.12L483.97 382.47L484.79 381.49L485.60 381.53L486.41 381.00L487.22 380.36L488.03 379.39L488.84 378.90L489.66 378.03L490.47 377.67L491.28 376.88L492.09 376.47L492.90 375.70L493.71 375.35L494.52 374.69L495.34 374.15L496.15 372.96L496.96 372.30L497.77 372.12L498.58 371.30L499.39 370.88L500.21 370.24L501.02 369.59L501.83 369.12L502.64 368.42L503.45 367.79L504.26 366.89L505.08 366.79L505.89 365.85L506.70 365.43L507.51 364.65L508.32 364.22L509.13 363.37L509.94 362.76L510.76 362.13L511.57 361.34L512.38 360.74L513.19 360.18L514.00 359.54L514.81 358.70L515.63 358.70L516.44 357.36L517.25 356.81L518.06 356.69L518.87 355.39L519.68 355.00L520.50 354.30L521.31 353.45L522.12 352.53L522.93 351.83L523.74 351.46L524.55 350.87L525.36 349.68L526.18 349.47L526.99 348.63L527.80 348.26L528.61 347.44L529.42 346.57L530.23 345.97L531.05 345.39L531.86 344.97L532.67 344.64L533.48 343.42L534.29 342.70L535.10 342.14L535.92 341.33L536.73 340.80L537.54 340.09L538.35 339.36L539.16 338.57L539.97 338.13L540.78 337.64L541.60 336.85L542.41 336.50L543.22 335.76L544.03 334.91L544.84 334.66L545.65 333.45L546.47 333.28L547.28 332.79L548.09 331.73L548.90 331.13L549.71 330.71L550.52 330.18L551.34 329.35L552.15 328.68L552.96 328.18L553.77 327.42L554.58 326.50L555.39 326.07L556.21 325.47L557.02 324.54L557.83 324.29L558.64 323.43L559.45 323.10L560.26 322.03L561.07 321.52L561.89 320.78L562.70 320.71L563.51 320.08L564.32 319.50L565.13 318.88L565.94 318.14L566.76 317.52L567.57 316.38L568.38 316.16L569.19 315.37L570.00 314.78L570.81 313.98L571.63 313.86L572.44 313.01L573.25 312.06L574.06 311.83L574.87 311.09L575.68 310.27L576.49 309.80L577.31 309.08L578.12 308.15L578.93 307.68L579.74 307.46L580.55 306.80L581.36 306.17L582.18 305.29L582.99 304.84L583.80 304.44L584.61 304.06L585.42 303.26L586.23 302.74L587.05 302.69L587.86 301.99L588.67 301.42L589.48 300.86L590.29 300.39L591.10 300.35L591.91 299.75L592.73 298.98L593.54 298.33L594.35 298.44L595.16 297.93L595.97 297.38L596.78 296.82L597.60 295.79L598.41 295.44L599.22 295.39L600.03 294.86L600.84 294.66L601.65 294.26L602.47 294.03L603.28 294.07L604.09 294.11L604.90 294.60" fill="none" stroke="#1b8583" stroke-width="2.2" stroke-linejoin="round"/>
</g>
<rect x="374.6" y="280.0" width="251.39999999999998" height="196.8" fill="none" stroke="#000" stroke-width="1.8" stroke-linejoin="round"/>
<line x1="374.6" y1="462.5" x2="377.8" y2="462.5" stroke="#000" stroke-width="1.6"/>
<line x1="374.6" y1="434.3" x2="377.8" y2="434.3" stroke="#000" stroke-width="1.6"/>
<line x1="374.6" y1="406.1" x2="377.8" y2="406.1" stroke="#000" stroke-width="1.6"/>
<line x1="374.6" y1="377.9" x2="377.8" y2="377.9" stroke="#000" stroke-width="1.6"/>
<line x1="374.6" y1="349.7" x2="377.8" y2="349.7" stroke="#000" stroke-width="1.6"/>
<line x1="374.6" y1="321.5" x2="377.8" y2="321.5" stroke="#000" stroke-width="1.6"/>
<line x1="374.6" y1="293.3" x2="377.8" y2="293.3" stroke="#000" stroke-width="1.6"/>
<line x1="374.6" y1="448.4" x2="376.20000000000005" y2="448.4" stroke="#000" stroke-width="1.0"/>
<line x1="374.6" y1="420.2" x2="376.20000000000005" y2="420.2" stroke="#000" stroke-width="1.0"/>
<line x1="374.6" y1="392.0" x2="376.20000000000005" y2="392.0" stroke="#000" stroke-width="1.0"/>
<line x1="374.6" y1="363.8" x2="376.20000000000005" y2="363.8" stroke="#000" stroke-width="1.0"/>
<line x1="374.6" y1="335.6" x2="376.20000000000005" y2="335.6" stroke="#000" stroke-width="1.0"/>
<line x1="374.6" y1="307.4" x2="376.20000000000005" y2="307.4" stroke="#000" stroke-width="1.0"/>
<line x1="394.7" y1="476.8" x2="394.7" y2="473.6" stroke="#000" stroke-width="1.6"/>
<line x1="436.7" y1="476.8" x2="436.7" y2="473.6" stroke="#000" stroke-width="1.6"/>
<line x1="478.7" y1="476.8" x2="478.7" y2="473.6" stroke="#000" stroke-width="1.6"/>
<line x1="520.6" y1="476.8" x2="520.6" y2="473.6" stroke="#000" stroke-width="1.6"/>
<line x1="562.6" y1="476.8" x2="562.6" y2="473.6" stroke="#000" stroke-width="1.6"/>
<line x1="604.6" y1="476.8" x2="604.6" y2="473.6" stroke="#000" stroke-width="1.6"/>
<line x1="415.7" y1="476.8" x2="415.7" y2="475.2" stroke="#000" stroke-width="1.0"/>
<line x1="457.7" y1="476.8" x2="457.7" y2="475.2" stroke="#000" stroke-width="1.0"/>
<line x1="499.6" y1="476.8" x2="499.6" y2="475.2" stroke="#000" stroke-width="1.0"/>
<line x1="541.6" y1="476.8" x2="541.6" y2="475.2" stroke="#000" stroke-width="1.0"/>
<line x1="583.6" y1="476.8" x2="583.6" y2="475.2" stroke="#000" stroke-width="1.0"/>
<text x="370.4" y="466.5" font-size="11.3" text-anchor="end" font-weight="normal" fill="#1a1a1a" >0</text>
<text x="370.4" y="438.3" font-size="11.3" text-anchor="end" font-weight="normal" fill="#1a1a1a" >200</text>
<text x="370.4" y="410.1" font-size="11.3" text-anchor="end" font-weight="normal" fill="#1a1a1a" >400</text>
<text x="370.4" y="381.9" font-size="11.3" text-anchor="end" font-weight="normal" fill="#1a1a1a" >600</text>
<text x="370.4" y="353.70000000000005" font-size="11.3" text-anchor="end" font-weight="normal" fill="#1a1a1a" >800</text>
<text x="370.4" y="325.5" font-size="11.3" text-anchor="end" font-weight="normal" fill="#1a1a1a" >1000</text>
<text x="370.4" y="297.3" font-size="11.3" text-anchor="end" font-weight="normal" fill="#1a1a1a" >1200</text>
<text x="394.7" y="490.0" font-size="11.3" text-anchor="middle" font-weight="normal" fill="#1a1a1a" >0</text>
<text x="436.68" y="490.0" font-size="11.3" text-anchor="middle" font-weight="normal" fill="#1a1a1a" >200</text>
<text x="478.65999999999997" y="490.0" font-size="11.3" text-anchor="middle" font-weight="normal" fill="#1a1a1a" >400</text>
<text x="520.64" y="490.0" font-size="11.3" text-anchor="middle" font-weight="normal" fill="#1a1a1a" >600</text>
<text x="562.62" y="490.0" font-size="11.3" text-anchor="middle" font-weight="normal" fill="#1a1a1a" >800</text>
<text x="604.6" y="490.0" font-size="11.3" text-anchor="middle" font-weight="normal" fill="#1a1a1a" >1000</text>
<text x="500.2" y="508.1" font-size="15.4" text-anchor="middle" font-weight="bold" fill="#111" >Time (ps)</text>
<text transform="translate(339.0,379) rotate(-90)" font-size="12" text-anchor="middle" font-weight="bold" fill="#111">Mean square displacement (A<tspan font-size="9" dy="-4.5">2</tspan><tspan dy="4.5">)</tspan></text>
<text x="318.0" y="270.9" font-size="21.6" text-anchor="start" font-weight="bold" fill="#111" >(d)</text>
<line x1="384.1" y1="294.4" x2="408" y2="294.4" stroke="#f08620" stroke-width="2"/>
<line x1="384.1" y1="309.9" x2="408" y2="309.9" stroke="#1b8583" stroke-width="2"/>
<text x="410.8" y="297.7" font-size="12.1" text-anchor="start" font-weight="bold" fill="#111" >EC/DEC</text>
<text x="410.8" y="313.1" font-size="12.1" text-anchor="start" font-weight="bold" fill="#111" >E-LiNO<tspan font-size="9" dy="2.6">3</tspan></text>
</svg>
</body></html>
